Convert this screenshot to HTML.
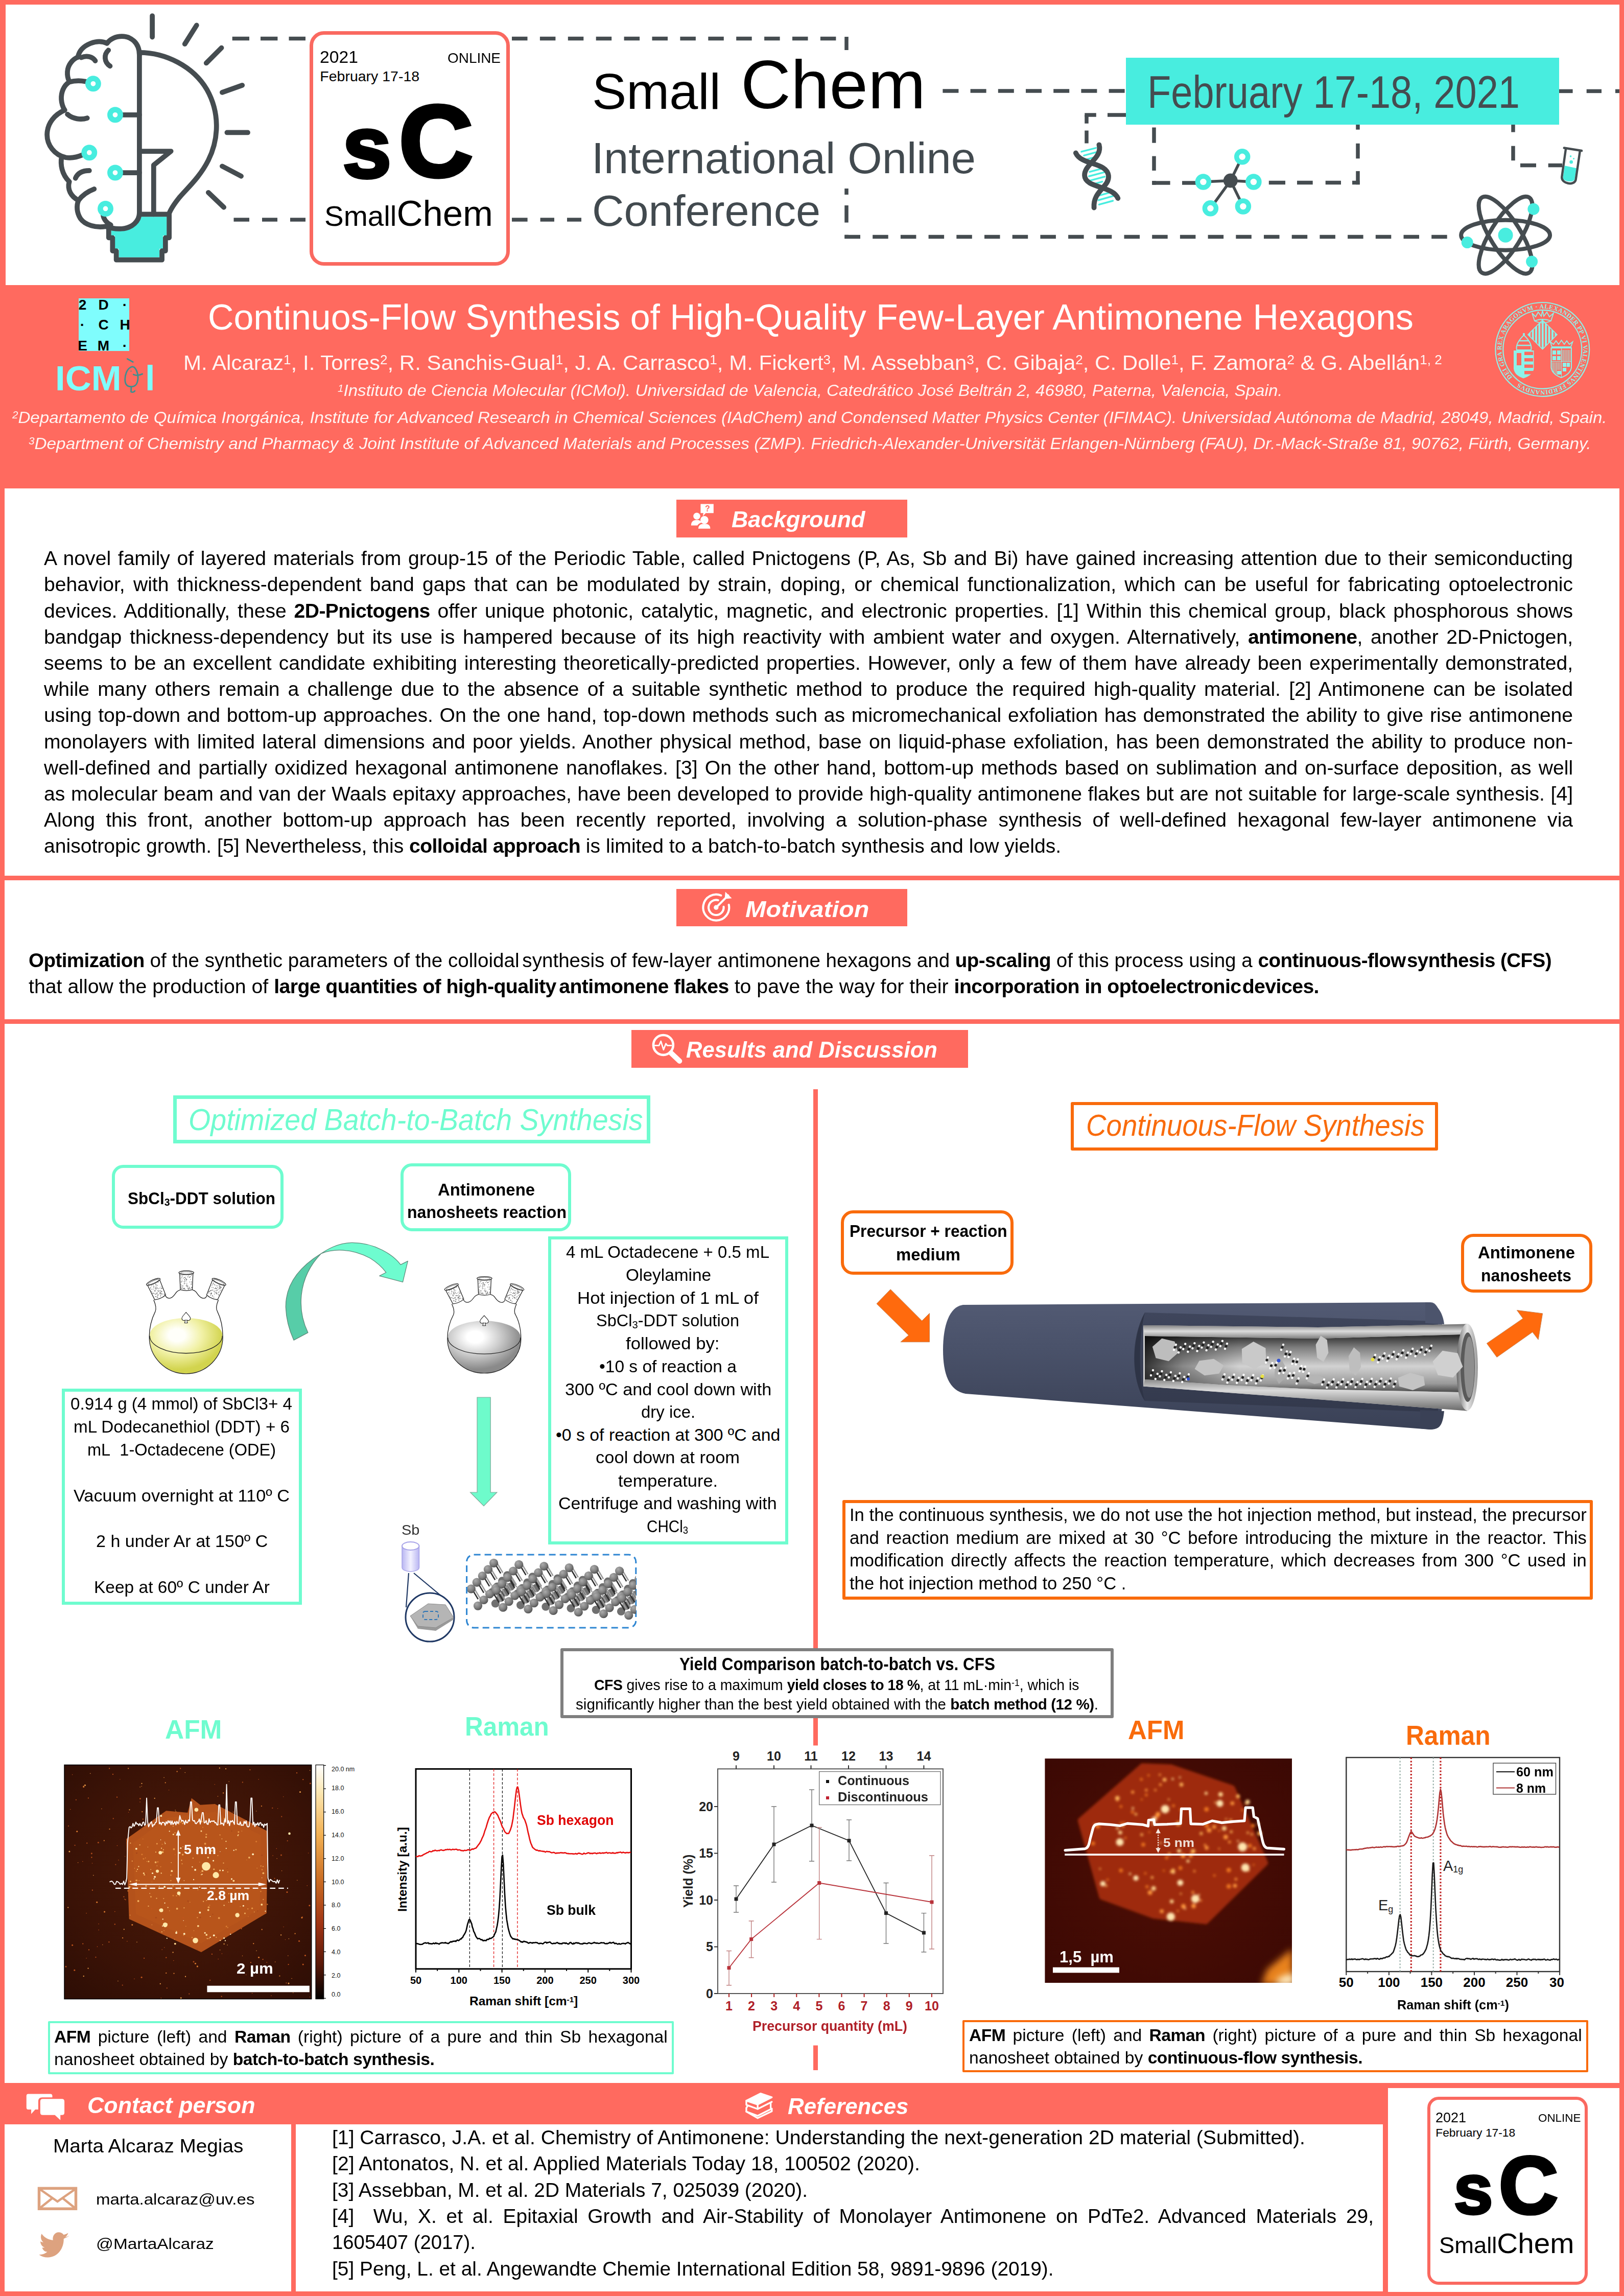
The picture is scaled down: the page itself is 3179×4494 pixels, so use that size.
<!DOCTYPE html>
<html><head><meta charset="utf-8"><title>Poster</title><style>
html,body{margin:0;padding:0;}
body{width:3179px;height:4494px;position:relative;overflow:hidden;background:#FF6A5F;font-family:'Liberation Sans', sans-serif;}
.t{position:absolute;white-space:nowrap;line-height:1;transform-origin:0 0;}
sup,sub{font-size:62%;line-height:0;position:relative;vertical-align:baseline;}
sup{top:-0.42em;} sub{top:0.18em;}
b{letter-spacing:-0.015em;}
</style></head>
<body>
<div style="position:absolute;left:11.0px;top:9.0px;width:3159.0px;height:548.5px;background:#fff;"></div>
<div style="position:absolute;left:9.0px;top:956.0px;width:3161.0px;height:757.5px;background:#fff;"></div>
<div style="position:absolute;left:9.0px;top:1722.5px;width:3161.0px;height:272.0px;background:#fff;"></div>
<div style="position:absolute;left:9.0px;top:2004.0px;width:3161.0px;height:2072.5px;background:#fff;"></div>
<div style="position:absolute;left:9.0px;top:4158.0px;width:561.0px;height:327.0px;background:#fff;"></div>
<div style="position:absolute;left:579.0px;top:4158.0px;width:2128.0px;height:327.0px;background:#fff;"></div>
<div style="position:absolute;left:2716.5px;top:4086.5px;width:453.5px;height:399.0px;background:#fff;"></div>
<svg style="position:absolute;left:0;top:0;overflow:visible;" width="3179" height="4494" viewBox="0 0 3179 4494"><g stroke="#454C50" stroke-width="7.5" fill="none"><line x1="454.7" y1="75.5" x2="488.0" y2="75.5"/><line x1="510.0" y1="75.5" x2="543.4" y2="75.5"/><line x1="565.5" y1="75.5" x2="598.0" y2="75.5"/><line x1="1002.0" y1="75.5" x2="1032.5" y2="75.5"/><line x1="1056.9" y1="75.5" x2="1087.4" y2="75.5"/><line x1="1111.8" y1="75.5" x2="1142.3" y2="75.5"/><line x1="1166.7" y1="75.5" x2="1197.2" y2="75.5"/><line x1="1221.6" y1="75.5" x2="1252.1" y2="75.5"/><line x1="1276.5" y1="75.5" x2="1307.0" y2="75.5"/><line x1="1331.4" y1="75.5" x2="1361.9" y2="75.5"/><line x1="1386.3" y1="75.5" x2="1416.8" y2="75.5"/><line x1="1441.2" y1="75.5" x2="1471.7" y2="75.5"/><line x1="1496.1" y1="75.5" x2="1526.6" y2="75.5"/><line x1="1551.0" y1="75.5" x2="1581.5" y2="75.5"/><line x1="1605.9" y1="75.5" x2="1636.4" y2="75.5"/><line x1="1660.8" y1="75.5" x2="1661.0" y2="75.5"/><line x1="1657" y1="72.0" x2="1657" y2="98.0"/><line x1="1657" y1="369.0" x2="1657" y2="381.0"/><line x1="1657" y1="402.0" x2="1657" y2="435.6"/><line x1="1657" y1="459.7" x2="1657" y2="467.0"/><line x1="1653.5" y1="463.5" x2="1684.0" y2="463.5"/><line x1="1708.2" y1="463.5" x2="1738.7" y2="463.5"/><line x1="1762.9" y1="463.5" x2="1793.4" y2="463.5"/><line x1="1817.6" y1="463.5" x2="1848.1" y2="463.5"/><line x1="1872.3" y1="463.5" x2="1902.8" y2="463.5"/><line x1="1927.0" y1="463.5" x2="1957.5" y2="463.5"/><line x1="1981.7" y1="463.5" x2="2012.2" y2="463.5"/><line x1="2036.4" y1="463.5" x2="2066.9" y2="463.5"/><line x1="2091.1" y1="463.5" x2="2121.6" y2="463.5"/><line x1="2145.8" y1="463.5" x2="2176.3" y2="463.5"/><line x1="2200.5" y1="463.5" x2="2231.0" y2="463.5"/><line x1="2255.2" y1="463.5" x2="2285.7" y2="463.5"/><line x1="2309.9" y1="463.5" x2="2340.4" y2="463.5"/><line x1="2364.6" y1="463.5" x2="2395.1" y2="463.5"/><line x1="2419.3" y1="463.5" x2="2449.8" y2="463.5"/><line x1="2474.0" y1="463.5" x2="2504.5" y2="463.5"/><line x1="2528.7" y1="463.5" x2="2559.2" y2="463.5"/><line x1="2583.4" y1="463.5" x2="2613.9" y2="463.5"/><line x1="2638.1" y1="463.5" x2="2668.6" y2="463.5"/><line x1="2692.8" y1="463.5" x2="2723.3" y2="463.5"/><line x1="2747.5" y1="463.5" x2="2778.0" y2="463.5"/><line x1="2802.2" y1="463.5" x2="2832.7" y2="463.5"/><line x1="457.5" y1="430" x2="488.0" y2="430"/><line x1="513.0" y1="430" x2="543.0" y2="430"/><line x1="568.0" y1="430" x2="598.0" y2="430"/><line x1="1002.0" y1="430" x2="1032.6" y2="430"/><line x1="1057.6" y1="430" x2="1085.0" y2="430"/><line x1="1110.0" y1="430" x2="1138.0" y2="430"/><line x1="1845.4" y1="178" x2="1876.4" y2="178"/><line x1="1899.6" y1="178" x2="1930.6" y2="178"/><line x1="1953.8" y1="178" x2="1984.8" y2="178"/><line x1="2008.0" y1="178" x2="2039.0" y2="178"/><line x1="2062.2" y1="178" x2="2093.2" y2="178"/><line x1="2116.4" y1="178" x2="2147.4" y2="178"/><line x1="2170.6" y1="178" x2="2201.6" y2="178"/><line x1="3050.0" y1="178.4" x2="3078.6" y2="178.4"/><line x1="3105.7" y1="178.4" x2="3135.0" y2="178.4"/><line x1="3162.0" y1="178.4" x2="3170.0" y2="178.4"/><line x1="2123.3" y1="225" x2="2145.8" y2="225"/><line x1="2168.0" y1="225" x2="2206.0" y2="225"/><line x1="2127" y1="225.0" x2="2127" y2="241.7"/><line x1="2127" y1="255.5" x2="2127" y2="280.5"/><line x1="2259" y1="249.5" x2="2259" y2="279.7"/><line x1="2259" y1="305.6" x2="2259" y2="333.9"/><line x1="2259" y1="354.0" x2="2259" y2="361.7"/><line x1="2255.3" y1="358" x2="2290.6" y2="358"/><line x1="2314.0" y1="358" x2="2342.0" y2="358"/><line x1="2483.8" y1="357.5" x2="2516.0" y2="357.5"/><line x1="2539.0" y1="357.5" x2="2569.7" y2="357.5"/><line x1="2594.7" y1="357.5" x2="2625.0" y2="357.5"/><line x1="2647.0" y1="357.5" x2="2661.7" y2="357.5"/><line x1="2658" y1="244.0" x2="2658" y2="253.7"/><line x1="2658" y1="280.8" x2="2658" y2="310.3"/><line x1="2658" y1="334.9" x2="2658" y2="361.2"/><line x1="2962" y1="243.9" x2="2962" y2="258.6"/><line x1="2962" y1="285.7" x2="2962" y2="314.2"/><line x1="2976.0" y1="323.6" x2="3007.0" y2="323.6"/><line x1="3030.7" y1="323.6" x2="3058.0" y2="323.6"/></g></svg>
<svg style="position:absolute;left:0;top:0;overflow:visible;" width="3179" height="4494" viewBox="0 0 3179 4494"><g transform="translate(80,40) scale(0.27093)" fill="none" stroke="#454C50" stroke-width="36" stroke-linecap="round" stroke-linejoin="round">
<path d="M508,1500 C560,1512 650,1500 705,1430 L712,1418 L910,1418 L910,1555 L882,1555 L882,1650 L857,1650 L857,1712 L563,1712 L563,1650 L535,1650 L535,1555 L508,1555 Z" fill="#48EDDF" stroke="none"/>
<path d="M712,250 C712,160 650,115 585,115 C540,115 500,135 478,165"/>
<path d="M478,165 C440,148 400,150 360,165 C310,185 275,220 268,265"/>
<path d="M268,265 C230,280 195,320 192,370 C190,400 195,420 205,440"/>
<path d="M292,268 C330,250 375,262 393,292"/>
<path d="M322,441 C280,432 240,435 205,445 C165,470 145,520 148,570 C150,600 158,625 172,648"/>
<path d="M172,648 C100,680 48,740 45,820 C42,900 100,975 180,990 C230,998 270,985 300,972"/>
<path d="M150,985 C140,1040 150,1110 205,1165"/>
<path d="M205,1165 C190,1220 215,1270 272,1300"/>
<path d="M385,1218 C340,1235 300,1262 272,1300 C255,1340 260,1390 285,1430 C320,1480 400,1500 470,1488"/>
<path d="M450,1408 C455,1440 480,1465 505,1478"/>
<path d="M470,1488 C500,1500 540,1508 585,1505 C660,1500 712,1450 712,1390"/>
<path d="M488,215 C455,245 455,300 500,330"/>
<path d="M192,678 C230,712 290,720 335,705"/>
<path d="M250,1140 C265,1105 300,1085 350,1085"/>
<path d="M712,232 L712,1400"/>
<path d="M595,682 L712,682 M595,1100 L712,1100"/>
<path d="M712,232 C900,232 1100,330 1200,500 C1290,660 1290,850 1210,1010 C1150,1130 1060,1210 1000,1280 C960,1330 935,1370 925,1400"/>
<path d="M712,1400 L925,1400"/>
<path d="M712,945 L940,945 L815,1045 L815,1400"/>
<path d="M490,1490 L490,1570 L518,1570 L518,1665 L545,1665 L545,1730 L875,1730 L875,1665 L900,1665 L900,1570 L927,1570 L927,1400"/>
<path d="M805,-33 L805,120 M1125,35 L1040,170 M1305,198 L1195,308 M1455,468 L1310,520 M1345,810 L1495,810 M1310,1053 L1447,1125 M1210,1243 L1322,1350"/>
<g stroke="#48EDDF" stroke-width="39"><circle cx="378" cy="457" r="37.5"/><circle cx="537" cy="682" r="37.5"/><circle cx="350" cy="955" r="37.5"/><circle cx="537" cy="1100" r="37.5"/><circle cx="467" cy="1360" r="37.5"/></g>
</g></svg>
<div style="position:absolute;box-sizing:border-box;left:606.3px;top:60.6px;width:391.3px;height:459.0px;background:#fff;border:7.5px solid #FA6960;border-radius:28px;"></div>
<div class="t" style="left:626.3px;top:94.4px;font-family:'Liberation Sans', sans-serif;font-size:34px;color:#000;transform:scaleX(0.9915);">2021</div>
<div class="t" style="left:876.3px;top:99.5px;font-family:'Liberation Sans', sans-serif;font-size:28px;color:#000;transform:scaleX(0.9976);">ONLINE</div>
<div class="t" style="left:626.3px;top:134.5px;font-family:'Liberation Sans', sans-serif;font-size:28.5px;color:#000;">February 17-18</div>
<div class="t" style="left:670.6px;top:200.9px;font-family:'Liberation Sans', sans-serif;font-size:172px;font-weight:bold;color:#000;-webkit-text-stroke:6.0px #000;">s</div>
<div class="t" style="left:780.6px;top:177.9px;font-family:'Liberation Sans', sans-serif;font-size:198px;font-weight:bold;color:#000;-webkit-text-stroke:7.0px #000;transform:scaleX(1.012);">C</div>
<div class="t" style="left:635.3px;top:383.3px;font-family:'Liberation Sans', sans-serif;font-size:70px;color:#000;transform:scaleX(1.0099);"><span style="font-size:56.0px">Small</span>Chem</div>
<div style="position:absolute;box-sizing:border-box;left:2794.2px;top:4104.2px;width:313.6px;height:367.9px;background:#fff;border:6.0px solid #FA6960;border-radius:22px;"></div>
<div class="t" style="left:2810.2px;top:4131.3px;font-family:'Liberation Sans', sans-serif;font-size:27.251px;color:#000;transform:scaleX(0.9915);">2021</div>
<div class="t" style="left:3010.6px;top:4135.4px;font-family:'Liberation Sans', sans-serif;font-size:22.442px;color:#000;transform:scaleX(0.9977);">ONLINE</div>
<div class="t" style="left:2810.2px;top:4163.4px;font-family:'Liberation Sans', sans-serif;font-size:22.84275px;color:#000;">February 17-18</div>
<div class="t" style="left:2845.7px;top:4216.7px;font-family:'Liberation Sans', sans-serif;font-size:137.858px;font-weight:bold;color:#000;-webkit-text-stroke:4.8px #000;">s</div>
<div class="t" style="left:2933.9px;top:4198.2px;font-family:'Liberation Sans', sans-serif;font-size:158.697px;font-weight:bold;color:#000;-webkit-text-stroke:5.6px #000;transform:scaleX(1.012);">C</div>
<div class="t" style="left:2817.4px;top:4362.9px;font-family:'Liberation Sans', sans-serif;font-size:56.105px;color:#000;transform:scaleX(1.0099);"><span style="font-size:44.9px">Small</span>Chem</div>
<div class="t" style="left:1158.5px;top:130.0px;font-family:'Liberation Sans', sans-serif;font-size:98px;color:#000;transform:scaleX(1.0283);">Small</div>
<div class="t" style="left:1450.0px;top:100.3px;font-family:'Liberation Sans', sans-serif;font-size:133px;color:#000;transform:scaleX(1.0203);">Chem</div>
<div class="t" style="left:1157.5px;top:266.7px;font-family:'Liberation Sans', sans-serif;font-size:85px;color:#424A4F;transform:scaleX(1.0201);">International Online</div>
<div class="t" style="left:1158.5px;top:370.0px;font-family:'Liberation Sans', sans-serif;font-size:85px;color:#424A4F;transform:scaleX(1.0172);">Conference</div>
<div style="position:absolute;left:2204.0px;top:112.7px;width:847.5px;height:131.6px;background:#48EDDF;"></div>
<div class="t" style="left:2246.0px;top:135.6px;font-family:'Liberation Sans', sans-serif;font-size:89px;color:#454C50;transform:scaleX(0.8517);">February 17-18, 2021</div>
<svg style="position:absolute;left:0;top:0;overflow:visible;" width="3179" height="4494" viewBox="0 0 3179 4494"><g transform="translate(2080,260) scale(0.24631)" fill="none" stroke-linecap="round">
<g stroke="#48EDDF" stroke-width="14">
<path d="M150,150 L265,120 M170,180 L275,152 M195,210 L260,192"/>
<path d="M215,310 L320,282 M210,345 L335,312 M215,380 L335,348 M235,410 L315,388"/>
<path d="M285,500 L390,470 M285,535 L410,500 M290,570 L400,540"/>
</g>
<g stroke="#454C50" stroke-width="40">
<path d="M105,160 C150,260 350,230 365,340 C375,430 240,460 250,595"/>
<path d="M290,95 C320,200 170,250 175,340 C180,440 400,420 440,520"/>
</g></g><g stroke="#454C50" stroke-width="5.5"><line x1="2408.8" y1="353.6" x2="2431.7" y2="306.8"/><line x1="2408.8" y1="353.6" x2="2355.4" y2="356"/><line x1="2408.8" y1="353.6" x2="2453.9" y2="356"/><line x1="2408.8" y1="353.6" x2="2369.4" y2="407.8"/><line x1="2408.8" y1="353.6" x2="2433.4" y2="404"/></g><circle cx="2408.8" cy="353.6" r="14" fill="#454C50"/><circle cx="2431.7" cy="306.8" r="11" fill="#fff" stroke="#48EDDF" stroke-width="9.5"/><circle cx="2355.4" cy="356" r="11" fill="#fff" stroke="#48EDDF" stroke-width="9.5"/><circle cx="2453.9" cy="356" r="11" fill="#fff" stroke="#48EDDF" stroke-width="9.5"/><circle cx="2369.4" cy="407.8" r="11" fill="#fff" stroke="#48EDDF" stroke-width="9.5"/><circle cx="2433.4" cy="404" r="11" fill="#fff" stroke="#48EDDF" stroke-width="9.5"/><g fill="none" stroke="#454C50" stroke-width="8"><ellipse cx="2947.1" cy="460.2" rx="87" ry="29.5" transform="rotate(0 2947.1 460.2)"/><ellipse cx="2947.1" cy="460.2" rx="87" ry="29.5" transform="rotate(58 2947.1 460.2)"/><ellipse cx="2947.1" cy="460.2" rx="87" ry="29.5" transform="rotate(-58 2947.1 460.2)"/></g><circle cx="2947.1" cy="460.2" r="14.5" fill="#48EDDF"/><circle cx="3001.9" cy="409.2" r="11.5" fill="#48EDDF"/><circle cx="2872.2" cy="474.6" r="11.5" fill="#48EDDF"/><circle cx="2998.6" cy="512" r="11.5" fill="#48EDDF"/><g transform="translate(2819,260) scale(0.22168)">
<path d="M1100,290 L1085,395 C1082,430 1175,445 1188,410 L1205,312 Z" fill="#48EDDF"/>
<circle cx="1158" cy="258" r="15" fill="#48EDDF"/><circle cx="1153" cy="207" r="8" fill="#48EDDF"/><circle cx="1180" cy="228" r="7" fill="#48EDDF"/>
<path d="M1110,142 L1075,390 C1070,450 1185,470 1198,415 L1235,162" fill="none" stroke="#454C50" stroke-width="20" stroke-linejoin="round"/>
<path d="M1095,133 L1250,158" stroke="#454C50" stroke-width="20" stroke-linecap="round"/>
</g></svg>
<div style="position:absolute;left:154.0px;top:584.0px;width:99.0px;height:103.0px;background:#7FFDFD;"></div>
<div class="t" style="left:153.7px;top:582.8px;font-family:'Liberation Sans', sans-serif;font-size:28px;font-weight:bold;color:#000;">2</div>
<div class="t" style="left:192.4px;top:582.8px;font-family:'Liberation Sans', sans-serif;font-size:28px;font-weight:bold;color:#000;">D</div>
<div class="t" style="left:239.8px;top:582.8px;font-family:'Liberation Sans', sans-serif;font-size:28px;font-weight:bold;color:#000;">·</div>
<div class="t" style="left:156.8px;top:622.3px;font-family:'Liberation Sans', sans-serif;font-size:28px;font-weight:bold;color:#000;">·</div>
<div class="t" style="left:192.4px;top:622.3px;font-family:'Liberation Sans', sans-serif;font-size:28px;font-weight:bold;color:#000;">C</div>
<div class="t" style="left:234.4px;top:622.3px;font-family:'Liberation Sans', sans-serif;font-size:28px;font-weight:bold;color:#000;">H</div>
<div class="t" style="left:152.2px;top:662.8px;font-family:'Liberation Sans', sans-serif;font-size:28px;font-weight:bold;color:#000;">E</div>
<div class="t" style="left:190.8px;top:662.8px;font-family:'Liberation Sans', sans-serif;font-size:28px;font-weight:bold;color:#000;">M</div>
<div class="t" style="left:239.8px;top:662.8px;font-family:'Liberation Sans', sans-serif;font-size:28px;font-weight:bold;color:#000;">·</div>
<div class="t" style="left:107.5px;top:706.1px;font-family:'Liberation Sans', sans-serif;font-size:69px;font-weight:bold;color:#7FFDFD;transform:scaleX(1.0238);">ICM</div>
<div class="t" style="left:284.0px;top:706.1px;font-family:'Liberation Sans', sans-serif;font-size:69px;font-weight:bold;color:#7FFDFD;transform:scaleX(1.0171);">l</div>
<svg style="position:absolute;left:0;top:0;overflow:visible;" width="3179" height="4494" viewBox="0 0 3179 4494"><g transform="translate(0,500) scale(0.21772)" fill="none" stroke="#3F8F90" stroke-width="13" stroke-linecap="round">
<path d="M1190,1000 C1140,1010 1120,1080 1125,1130 C1130,1180 1170,1185 1205,1175 C1245,1160 1250,1080 1225,1030 C1215,1010 1205,1000 1190,1000 Z"/>
<path d="M1145,930 L1195,958"/>
<path d="M1200,1070 C1230,1085 1260,1075 1280,1065"/>
<path d="M1180,1185 L1178,1225 C1190,1232 1205,1228 1212,1218"/>
<circle cx="1178" cy="1040" r="5" fill="#3F8F90" stroke="none"/>
</g></svg>
<div class="t" style="left:406.7px;top:585.5px;font-family:'Liberation Sans', sans-serif;font-size:70px;color:#fff;transform:scaleX(0.9976);">Continuos-Flow Synthesis of High-Quality Few-Layer Antimonene Hexagons</div>
<div class="t" style="left:359.0px;top:689.9px;font-family:'Liberation Sans', sans-serif;font-size:41px;color:#FFF4F2;transform:scaleX(1.0247);">M. Alcaraz<sup>1</sup>, I. Torres<sup>2</sup>, R. Sanchis-Gual<sup>1</sup>, J. A. Carrasco<sup>1</sup>, M. Fickert<sup>3</sup>, M. Assebban<sup>3</sup>, C. Gibaja<sup>2</sup>, C. Dolle<sup>1</sup>, F. Zamora<sup>2</sup> &amp; G. Abellán<sup>1, 2</sup></div>
<div class="t" style="left:661.0px;top:748.4px;font-family:'Liberation Sans', sans-serif;font-size:32px;font-style:italic;color:#FFF4F2;transform:scaleX(1.0358);"><sup>1</sup>Instituto de Ciencia Molecular (ICMol). Universidad de Valencia, Catedrático José Beltrán 2, 46980, Paterna, Valencia, Spain.</div>
<div class="t" style="left:24.0px;top:800.6px;font-family:'Liberation Sans', sans-serif;font-size:32px;font-style:italic;color:#FFF4F2;transform:scaleX(1.0355);"><sup>2</sup>Departamento de Química Inorgánica, Institute for Advanced Research in Chemical Sciences (IAdChem) and Condensed Matter Physics Center (IFIMAC). Universidad Autónoma de Madrid, 28049, Madrid, Spain.</div>
<div class="t" style="left:55.5px;top:851.7px;font-family:'Liberation Sans', sans-serif;font-size:32px;font-style:italic;color:#FFF4F2;transform:scaleX(1.0417);"><sup>3</sup>Department of Chemistry and Pharmacy &amp; Joint Institute of Advanced Materials and Processes (ZMP). Friedrich-Alexander-Universität Erlangen-Nürnberg (FAU), Dr.-Mack-Straße 81, 90762, Fürth, Germany.</div>
<svg style="position:absolute;left:0;top:0;overflow:visible;" width="3179" height="4494" viewBox="0 0 3179 4494"><g fill="none" stroke="#8CF2EA" stroke-width="2.2"><circle cx="3019.3" cy="683.9" r="91.9"/><circle cx="3019.3" cy="683.9" r="77"/></g><path id="sealp" d="M2960.79,738.46 A80,80 0 0 1 3077.81,629.34 A80,80 0 0 1 2960.79,738.46" fill="none"/><text font-family="'Liberation Serif', serif" font-size="12.5" font-weight="bold" fill="#8CF2EA"><textPath href="#sealp" textLength="485.1" lengthAdjust="spacing">DEI GRA REX ARAGONVM · ALEXANDER PP VI VALENTINVS FERDINANDVS</textPath></text><clipPath id="dia"><path d="M3019.5,626.5 L3048.0,655 L3019.5,683.5 L2991.0,655 Z"/></clipPath><g clip-path="url(#dia)" fill="#8CF2EA"><rect x="2992.2" y="626.5" width="3.9" height="57.0"/><rect x="2998.6" y="626.5" width="3.9" height="57.0"/><rect x="3005.0" y="626.5" width="3.9" height="57.0"/><rect x="3011.4" y="626.5" width="3.9" height="57.0"/><rect x="3017.8" y="626.5" width="3.9" height="57.0"/><rect x="3024.2" y="626.5" width="3.9" height="57.0"/><rect x="3030.6" y="626.5" width="3.9" height="57.0"/><rect x="3037.0" y="626.5" width="3.9" height="57.0"/><rect x="3043.4" y="626.5" width="3.9" height="57.0"/></g><path d="M3019.5,626.5 L3048.0,655 L3019.5,683.5 L2991.0,655 Z" fill="none" stroke="#8CF2EA" stroke-width="1.6"/><path d="M2999,613 L3004,628 Q3019.5,622 3036,628 L3041,613 L3033,620 L3028,611 L3022,619 L3019.5,608 L3017,619 L3011,611 L3006,620 Z" fill="none" stroke="#8CF2EA" stroke-width="1.8"/><path d="M3004,628 Q3019.5,636 3036,628" fill="none" stroke="#8CF2EA" stroke-width="1.8"/><path d="M2963,686 L3002.5,686 L3002.5,722 Q3000,735 2982,740.5 Q2965,735 2963,722 Z" fill="#8CF2EA"/><rect x="2969" y="691" width="9" height="24" fill="#FF6A5F"/><rect x="2984" y="688.5" width="17" height="6.5" fill="#FF6A5F"/><rect x="2984" y="701" width="17" height="6.5" fill="#FF6A5F"/><rect x="2984" y="713.5" width="17" height="6.5" fill="#FF6A5F"/><rect x="2984" y="726" width="17" height="6.5" fill="#FF6A5F"/><path d="M2969,685 Q2966,672 2983,656 Q3000,672 2997,685 Z" fill="none" stroke="#8CF2EA" stroke-width="2"/><path d="M2970,676 H2996 M2973,667 H2993" stroke="#8CF2EA" stroke-width="2.5"/><circle cx="2983" cy="654" r="2.2" fill="#8CF2EA"/><path d="M3036.5,681 L3076,681 L3076,720 Q3073,733 3056,739 Q3039,733 3036.5,720 Z" fill="none" stroke="#8CF2EA" stroke-width="2"/><g fill="#8CF2EA"><rect x="3039" y="686" width="7" height="8"/><rect x="3048" y="686" width="7" height="8"/><rect x="3039" y="697" width="7" height="8"/><rect x="3048" y="697" width="7" height="8"/><rect x="3059" y="710" width="7" height="8"/><rect x="3067" y="710" width="6" height="8"/><rect x="3059" y="720" width="7" height="7"/><rect x="3048" y="726" width="8" height="7"/></g><g stroke="#8CF2EA" stroke-width="1"><path d="M3058,685 V707 M3060.5,685 V707 M3063,685 V707 M3065.5,685 V707 M3068,685 V707 M3070.5,685 V707 M3073,685 V707"/><path d="M3039,709 V728 M3041.5,709 V730 M3044,709 V731 M3046.5,709 V732 M3049,709 V724 M3051.5,709 V724 M3054,709 V724"/><path d="M3036.5,707.5 H3076 M3056.5,681 V739"/></g><path d="M3034.5,669 L3038,679 H3075 L3078.5,669 L3072,674 L3067,667 L3062,674 L3056.5,666 L3051,674 L3046,667 L3041,674 Z" fill="none" stroke="#8CF2EA" stroke-width="1.8"/></svg>
<div style="position:absolute;left:1324.0px;top:978.0px;width:452.0px;height:73.6px;background:#FF6A5F;"></div>
<div class="t" style="left:1432.4px;top:994.2px;font-family:'Liberation Sans', sans-serif;font-size:45px;font-weight:bold;font-style:italic;color:#fff;transform:scaleX(0.9957);">Background</div>
<div style="position:absolute;left:1324.0px;top:1740.0px;width:452.0px;height:73.0px;background:#FF6A5F;"></div>
<div class="t" style="left:1458.6px;top:1756.6px;font-family:'Liberation Sans', sans-serif;font-size:45px;font-weight:bold;font-style:italic;color:#fff;transform:scaleX(1.0774);">Motivation</div>
<div style="position:absolute;left:1235.6px;top:2016.4px;width:659.4px;height:73.9px;background:#FF6A5F;"></div>
<div class="t" style="left:1343.0px;top:2032.3px;font-family:'Liberation Sans', sans-serif;font-size:45px;font-weight:bold;font-style:italic;color:#fff;transform:scaleX(0.9692);">Results and Discussion</div>
<svg style="position:absolute;left:0;top:0;overflow:visible;" width="3179" height="4494" viewBox="0 0 3179 4494"><g transform="translate(1280,950) scale(0.33864)" fill="#fff">
<circle cx="248" cy="178" r="20"/><path d="M215,232 Q215,200 248,200 Q270,200 276,215 Q255,222 252,232 Z"/>
<circle cx="292" cy="200" r="23"/><path d="M257,250 Q257,222 292,222 Q326,222 326,250 Z"/>
<path d="M270,108 H345 V160 H300 L283,178 L286,160 H270 Z"/>
<text x="296" y="152" font-family="'Liberation Sans', sans-serif" font-weight="bold" font-size="46" fill="#FF6A5F">?</text>
</g><g transform="translate(1200,1700) scale(0.46183)" fill="none" stroke="#fff" stroke-width="9" stroke-linecap="round">
<path d="M490.8,153.6 A55,55 0 1 1 457.6,114.0"/>
<path d="M468.9,162.2 A32,32 0 1 1 445.3,134.1"/>
<circle cx="437" cy="165" r="10" fill="#fff" stroke="none"/>
<path d="M437,165 L488,114"/>
<path d="M478,104 L476,126 L498,124 Z" fill="#fff" stroke-width="5"/>
</g><g transform="translate(1200,1700) scale(0.46183)" fill="none" stroke="#fff" stroke-linecap="round" stroke-linejoin="round">
<circle cx="213" cy="748" r="42" stroke-width="10"/>
<path d="M246,782 L282,816" stroke-width="22"/>
<path d="M178,750 H195 L203,732 L214,768 L224,742 L230,750 H247" stroke-width="6"/>
</g></svg>
<div class="t" style="left:86.0px;top:1073.1px;font-family:'Liberation Sans', sans-serif;font-size:39.4px;color:#000;word-spacing:2.835px;transform:scaleX(0.9927);">A novel family of layered materials from group-15 of the Periodic Table, called Pnictogens (P, As, Sb and Bi) have gained increasing attention due to their semiconducting</div>
<div class="t" style="left:86.0px;top:1124.3px;font-family:'Liberation Sans', sans-serif;font-size:39.4px;color:#000;word-spacing:5.417px;transform:scaleX(0.9927);">behavior, with thickness-dependent band gaps that can be modulated by strain, doping, or chemical functionalization, which can be useful for fabricating optoelectronic</div>
<div class="t" style="left:86.0px;top:1175.5px;font-family:'Liberation Sans', sans-serif;font-size:39.4px;color:#000;word-spacing:4.063px;transform:scaleX(0.9927);">devices. Additionally, these <b>2D-Pnictogens</b> offer unique photonic, catalytic, magnetic, and electronic properties. [1] Within this chemical group, black phosphorous shows</div>
<div class="t" style="left:86.0px;top:1226.7px;font-family:'Liberation Sans', sans-serif;font-size:39.4px;color:#000;word-spacing:4.824px;transform:scaleX(0.9927);">bandgap thickness-dependency but its use is hampered because of its high reactivity with ambient water and oxygen. Alternatively, <b>antimonene</b>, another 2D-Pnictogen,</div>
<div class="t" style="left:86.0px;top:1277.9px;font-family:'Liberation Sans', sans-serif;font-size:39.4px;color:#000;word-spacing:3.286px;transform:scaleX(0.9927);">seems to be an excellent candidate exhibiting interesting theoretically-predicted properties. However, only a few of them have already been experimentally demonstrated,</div>
<div class="t" style="left:86.0px;top:1329.1px;font-family:'Liberation Sans', sans-serif;font-size:39.4px;color:#000;word-spacing:5.339px;transform:scaleX(0.9927);">while many others remain a challenge due to the absence of a suitable synthetic method to produce the required high-quality material. [2] Antimonene can be isolated</div>
<div class="t" style="left:86.0px;top:1380.3px;font-family:'Liberation Sans', sans-serif;font-size:39.4px;color:#000;word-spacing:1.889px;transform:scaleX(0.9927);">using top-down and bottom-up approaches. On the one hand, top-down methods such as micromechanical exfoliation has demonstrated the ability to give rise antimonene</div>
<div class="t" style="left:86.0px;top:1431.5px;font-family:'Liberation Sans', sans-serif;font-size:39.4px;color:#000;word-spacing:3.283px;transform:scaleX(0.9927);">monolayers with limited lateral dimensions and poor yields. Another physical method, base on liquid-phase exfoliation, has been demonstrated the ability to produce non-</div>
<div class="t" style="left:86.0px;top:1482.7px;font-family:'Liberation Sans', sans-serif;font-size:39.4px;color:#000;word-spacing:3.328px;transform:scaleX(0.9927);">well-defined and partially oxidized hexagonal antimonene nanoflakes. [3] On the other hand, bottom-up methods based on sublimation and on-surface deposition, as well</div>
<div class="t" style="left:86.0px;top:1533.9px;font-family:'Liberation Sans', sans-serif;font-size:39.4px;color:#000;word-spacing:0.788px;transform:scaleX(0.9927);">as molecular beam and van der Waals epitaxy approaches, have been developed to provide high-quality antimonene flakes but are not suitable for large-scale synthesis. [4]</div>
<div class="t" style="left:86.0px;top:1585.1px;font-family:'Liberation Sans', sans-serif;font-size:39.4px;color:#000;word-spacing:10.368px;transform:scaleX(0.9927);">Along this front, another bottom-up approach has been recently reported, involving a solution-phase synthesis of well-defined hexagonal few-layer antimonene via</div>
<div class="t" style="left:86.0px;top:1636.3px;font-family:'Liberation Sans', sans-serif;font-size:39.4px;color:#000;transform:scaleX(0.9927);">anisotropic growth. [5] Nevertheless, this <b>colloidal approach</b> is limited to a batch-to-batch synthesis and low yields.</div>
<div class="t" style="left:56.0px;top:1860.1px;font-family:'Liberation Sans', sans-serif;font-size:39.4px;color:#000;transform:scaleX(0.9798);"><b>Optimization</b> of the synthetic parameters of the colloidal<span style="font-size:55%"> </span>synthesis of few-layer antimonene hexagons and <b>up-scaling</b> of this process using a <b>continuous-flow<span style="font-size:25%"> </span>synthesis (CFS)</b></div>
<div class="t" style="left:56.0px;top:1911.1px;font-family:'Liberation Sans', sans-serif;font-size:39.4px;color:#000;transform:scaleX(0.9967);">that allow the production of <b>large quantities of high-quality<span style="font-size:55%"> </span>antimonene flakes</b> to pave the way for their <b>incorporation in optoelectronic<span style="font-size:25%"> </span>devices.</b></div>
<div style="position:absolute;left:1592.0px;top:2132.0px;width:9.0px;height:1095.0px;background:#FF6A5F;"></div>
<div style="position:absolute;left:1592.0px;top:3362.0px;width:9.0px;height:55.0px;background:#FF6A5F;"></div>
<div style="position:absolute;left:1592.0px;top:4003.0px;width:9.0px;height:49.0px;background:#FF6A5F;"></div>
<div style="position:absolute;box-sizing:border-box;left:339.0px;top:2144.4px;width:934.0px;height:93.6px;background:#fff;border:7px solid #6FFCCF;border-radius:0px;"></div>
<div class="t" style="left:368.5px;top:2161.6px;font-family:'Liberation Sans', sans-serif;font-size:60px;font-style:italic;color:#6FFCCF;transform:scaleX(0.9262);">Optimized Batch-to-Batch Synthesis</div>
<div style="position:absolute;box-sizing:border-box;left:218.5px;top:2280.0px;width:336.2px;height:124.5px;background:#fff;border:6px solid #6FFCCF;border-radius:22px;"></div>
<div class="t" style="left:249.5px;top:2327.7px;font-family:'Liberation Sans', sans-serif;font-size:34px;font-weight:bold;color:#000;transform:scaleX(0.9262);">SbCl<sub>3</sub>-DDT solution</div>
<div style="position:absolute;box-sizing:border-box;left:783.8px;top:2277.4px;width:334.7px;height:133.0px;background:#fff;border:6px solid #6FFCCF;border-radius:22px;"></div>
<div class="t" style="left:857.0px;top:2310.7px;font-family:'Liberation Sans', sans-serif;font-size:34px;font-weight:bold;color:#000;transform:scaleX(0.9672);">Antimonene</div>
<div class="t" style="left:797.0px;top:2355.0px;font-family:'Liberation Sans', sans-serif;font-size:34px;font-weight:bold;color:#000;transform:scaleX(0.9436);">nanosheets reaction</div>
<div style="position:absolute;box-sizing:border-box;left:121.0px;top:2717.7px;width:470.4px;height:423.0px;background:#fff;border:6px solid #6FFCCF;border-radius:0px;"></div>
<div class="t" style="left:138.0px;top:2730.9px;font-family:'Liberation Sans', sans-serif;font-size:33.8px;color:#000;transform:scaleX(0.9810);">0.914 g (4 mmol) of SbCl3+ 4</div>
<div class="t" style="left:144.3px;top:2775.9px;font-family:'Liberation Sans', sans-serif;font-size:33.8px;color:#000;transform:scaleX(0.9843);">mL Dodecanethiol (DDT) + 6</div>
<div class="t" style="left:171.3px;top:2821.0px;font-family:'Liberation Sans', sans-serif;font-size:33.8px;color:#000;transform:scaleX(0.9633);">mL&nbsp; 1-Octadecene (ODE)</div>
<div class="t" style="left:144.3px;top:2910.8px;font-family:'Liberation Sans', sans-serif;font-size:33.8px;color:#000;transform:scaleX(1.0149);">Vacuum overnight at 110º C</div>
<div class="t" style="left:187.6px;top:3000.2px;font-family:'Liberation Sans', sans-serif;font-size:33.8px;color:#000;transform:scaleX(1.0083);">2 h under Ar at 150º C</div>
<div class="t" style="left:184.0px;top:3090.0px;font-family:'Liberation Sans', sans-serif;font-size:33.8px;color:#000;transform:scaleX(0.9914);">Keep at 60º C under Ar</div>
<div style="position:absolute;box-sizing:border-box;left:1073.4px;top:2420.0px;width:469.4px;height:603.4px;background:#fff;border:6px solid #6FFCCF;border-radius:0px;"></div>
<div class="t" style="left:1108.0px;top:2434.2px;font-family:'Liberation Sans', sans-serif;font-size:33.8px;color:#000;transform:scaleX(0.9770);">4 mL Octadecene + 0.5 mL</div>
<div class="t" style="left:1224.5px;top:2479.0px;font-family:'Liberation Sans', sans-serif;font-size:33.8px;color:#000;transform:scaleX(0.9890);">Oleylamine</div>
<div class="t" style="left:1130.0px;top:2523.8px;font-family:'Liberation Sans', sans-serif;font-size:33.8px;color:#000;transform:scaleX(1.0302);">Hot injection of 1 mL of</div>
<div class="t" style="left:1167.0px;top:2568.0px;font-family:'Liberation Sans', sans-serif;font-size:33.8px;color:#000;transform:scaleX(0.9625);">SbCl<sub>3</sub>-DDT solution</div>
<div class="t" style="left:1224.5px;top:2612.8px;font-family:'Liberation Sans', sans-serif;font-size:33.8px;color:#000;transform:scaleX(1.0281);">followed by:</div>
<div class="t" style="left:1172.8px;top:2658.4px;font-family:'Liberation Sans', sans-serif;font-size:33.8px;color:#000;transform:scaleX(0.9919);">•10 s of reaction a</div>
<div class="t" style="left:1105.5px;top:2703.1px;font-family:'Liberation Sans', sans-serif;font-size:33.8px;color:#000;transform:scaleX(1.0121);">300 ºC and cool down with</div>
<div class="t" style="left:1254.5px;top:2747.3px;font-family:'Liberation Sans', sans-serif;font-size:33.8px;color:#000;transform:scaleX(0.9749);">dry ice.</div>
<div class="t" style="left:1088.0px;top:2792.1px;font-family:'Liberation Sans', sans-serif;font-size:33.8px;color:#000;">•0 s of reaction at 300 ºC and</div>
<div class="t" style="left:1165.9px;top:2836.2px;font-family:'Liberation Sans', sans-serif;font-size:33.8px;color:#000;transform:scaleX(1.0215);">cool down at room</div>
<div class="t" style="left:1209.7px;top:2881.7px;font-family:'Liberation Sans', sans-serif;font-size:33.8px;color:#000;transform:scaleX(1.0182);">temperature.</div>
<div class="t" style="left:1093.4px;top:2926.4px;font-family:'Liberation Sans', sans-serif;font-size:33.8px;color:#000;transform:scaleX(1.0071);">Centrifuge and washing with</div>
<div class="t" style="left:1265.9px;top:2970.7px;font-family:'Liberation Sans', sans-serif;font-size:33.8px;color:#000;transform:scaleX(0.8778);">CHCl<sub>3</sub></div>
<svg style="position:absolute;left:0;top:0;overflow:visible;" width="3179" height="4494" viewBox="0 0 3179 4494"><defs><radialGradient id="lga" cx="0.38" cy="0.30" r="0.6"><stop offset="0" stop-color="#FFFFFA"/><stop offset="0.18" stop-color="#FFFFFA"/><stop offset="0.55" stop-color="#F1F1A6"/><stop offset="1" stop-color="#D2D44E"/></radialGradient><clipPath id="fca"><circle cx="805" cy="1255" r="612"/></clipPath></defs><g transform="translate(270,2470) scale(0.11700,0.11700)"><g clip-path="url(#fca)"><path d="M198,1225 A607,288 0 0 1 1412,1225 L1440,1900 L170,1900 Z" fill="url(#lga)"/></g><path d="M265,640 C300,720 310,780 290,830 C230,950 190,1100 190,1255 A615,615 0 0 0 1420,1255 C1420,1100 1390,950 1330,830 C1300,780 1310,720 1345,640" fill="none" stroke="#222" stroke-width="11" stroke-linejoin="round" stroke-linecap="round"/><path d="M198,1240 A607,288 0 0 0 1412,1240" fill="none" stroke="#222" stroke-width="11" stroke-linejoin="round" stroke-linecap="round"/><path d="M460,565 C480,600 500,615 540,605 C600,590 620,530 650,500 C670,480 690,472 705,468 M915,468 C935,472 955,480 975,505 C1000,540 1030,600 1090,608 C1120,612 1140,595 1150,570" fill="none" stroke="#222" stroke-width="11" stroke-linejoin="round" stroke-linecap="round"/><g transform="translate(810,330) rotate(0)"><path d="M-112,-150 L-100,135 Q0,165 100,135 L112,-150 Z" fill="#fff" stroke="#222" stroke-width="11" stroke-linejoin="round"/><circle cx="22" cy="68" r="6" fill="#555"/><circle cx="53" cy="116" r="6" fill="#555"/><circle cx="43" cy="111" r="6" fill="#555"/><circle cx="-85" cy="2" r="6" fill="#555"/><circle cx="80" cy="46" r="6" fill="#555"/><circle cx="72" cy="-83" r="6" fill="#555"/><circle cx="-6" cy="-51" r="6" fill="#555"/><circle cx="8" cy="28" r="6" fill="#555"/><circle cx="-88" cy="-58" r="6" fill="#555"/><circle cx="-40" cy="110" r="6" fill="#555"/><circle cx="48" cy="-72" r="6" fill="#555"/><circle cx="53" cy="-77" r="6" fill="#555"/><circle cx="21" cy="-80" r="6" fill="#555"/><circle cx="-90" cy="99" r="6" fill="#555"/><circle cx="-52" cy="-58" r="6" fill="#555"/><circle cx="87" cy="99" r="6" fill="#555"/><circle cx="-38" cy="121" r="6" fill="#555"/><circle cx="7" cy="53" r="6" fill="#555"/><circle cx="-53" cy="116" r="6" fill="#555"/><circle cx="34" cy="122" r="6" fill="#555"/><circle cx="71" cy="-38" r="6" fill="#555"/><circle cx="-25" cy="-70" r="6" fill="#555"/><circle cx="-64" cy="-94" r="6" fill="#555"/><circle cx="-36" cy="35" r="6" fill="#555"/><circle cx="-89" cy="53" r="6" fill="#555"/><circle cx="-29" cy="-36" r="6" fill="#555"/><circle cx="57" cy="5" r="6" fill="#555"/><circle cx="-33" cy="5" r="6" fill="#555"/><circle cx="37" cy="-96" r="6" fill="#555"/><circle cx="86" cy="-105" r="6" fill="#555"/><circle cx="45" cy="93" r="6" fill="#555"/><circle cx="-87" cy="79" r="6" fill="#555"/><circle cx="-24" cy="29" r="6" fill="#555"/><circle cx="-88" cy="-99" r="6" fill="#555"/><circle cx="-57" cy="119" r="6" fill="#555"/><circle cx="-55" cy="71" r="6" fill="#555"/><circle cx="77" cy="116" r="6" fill="#555"/><circle cx="-28" cy="-25" r="6" fill="#555"/><circle cx="4" cy="76" r="6" fill="#555"/><circle cx="-71" cy="70" r="6" fill="#555"/><circle cx="54" cy="96" r="6" fill="#555"/><circle cx="-83" cy="117" r="6" fill="#555"/><circle cx="-74" cy="-28" r="6" fill="#555"/><circle cx="20" cy="110" r="6" fill="#555"/><circle cx="-29" cy="112" r="6" fill="#555"/><circle cx="8" cy="-35" r="6" fill="#555"/><circle cx="-33" cy="-67" r="6" fill="#555"/><circle cx="-76" cy="-74" r="6" fill="#555"/><circle cx="34" cy="129" r="6" fill="#555"/><circle cx="-61" cy="-98" r="6" fill="#555"/><circle cx="88" cy="18" r="6" fill="#555"/><circle cx="-17" cy="-53" r="6" fill="#555"/><circle cx="17" cy="88" r="6" fill="#555"/><circle cx="-8" cy="-9" r="6" fill="#555"/><circle cx="-80" cy="110" r="6" fill="#555"/><circle cx="-84" cy="8" r="6" fill="#555"/><circle cx="61" cy="-79" r="6" fill="#555"/><circle cx="42" cy="118" r="6" fill="#555"/><circle cx="23" cy="79" r="6" fill="#555"/><circle cx="-71" cy="-6" r="6" fill="#555"/><circle cx="-63" cy="93" r="6" fill="#555"/><circle cx="-37" cy="-1" r="6" fill="#555"/><circle cx="90" cy="95" r="6" fill="#555"/><circle cx="86" cy="-1" r="6" fill="#555"/><circle cx="-2" cy="65" r="6" fill="#555"/><circle cx="-4" cy="-40" r="6" fill="#555"/><circle cx="-17" cy="-75" r="6" fill="#555"/><circle cx="-22" cy="127" r="6" fill="#555"/><circle cx="83" cy="40" r="6" fill="#555"/><circle cx="-0" cy="-29" r="6" fill="#555"/><ellipse cx="0" cy="-150" rx="125" ry="33" fill="#fff" stroke="#222" stroke-width="11"/><ellipse cx="0" cy="-146" rx="100" ry="20" fill="none" stroke="#222" stroke-width="6"/></g><g transform="translate(318,470) rotate(-24)"><path d="M-112,-150 L-100,135 Q0,165 100,135 L112,-150 Z" fill="#fff" stroke="#222" stroke-width="11" stroke-linejoin="round"/><circle cx="-74" cy="-45" r="6" fill="#555"/><circle cx="51" cy="98" r="6" fill="#555"/><circle cx="-25" cy="79" r="6" fill="#555"/><circle cx="49" cy="57" r="6" fill="#555"/><circle cx="30" cy="72" r="6" fill="#555"/><circle cx="-25" cy="59" r="6" fill="#555"/><circle cx="-39" cy="7" r="6" fill="#555"/><circle cx="49" cy="56" r="6" fill="#555"/><circle cx="-37" cy="117" r="6" fill="#555"/><circle cx="27" cy="29" r="6" fill="#555"/><circle cx="-88" cy="21" r="6" fill="#555"/><circle cx="-45" cy="51" r="6" fill="#555"/><circle cx="-7" cy="86" r="6" fill="#555"/><circle cx="27" cy="81" r="6" fill="#555"/><circle cx="-27" cy="45" r="6" fill="#555"/><circle cx="43" cy="89" r="6" fill="#555"/><circle cx="-27" cy="92" r="6" fill="#555"/><circle cx="67" cy="55" r="6" fill="#555"/><circle cx="86" cy="120" r="6" fill="#555"/><circle cx="3" cy="17" r="6" fill="#555"/><circle cx="-60" cy="91" r="6" fill="#555"/><circle cx="79" cy="5" r="6" fill="#555"/><circle cx="34" cy="63" r="6" fill="#555"/><circle cx="41" cy="-69" r="6" fill="#555"/><circle cx="50" cy="29" r="6" fill="#555"/><circle cx="30" cy="-9" r="6" fill="#555"/><circle cx="22" cy="76" r="6" fill="#555"/><circle cx="25" cy="63" r="6" fill="#555"/><circle cx="-85" cy="-72" r="6" fill="#555"/><circle cx="-11" cy="46" r="6" fill="#555"/><circle cx="-51" cy="55" r="6" fill="#555"/><circle cx="24" cy="-100" r="6" fill="#555"/><circle cx="-5" cy="-56" r="6" fill="#555"/><circle cx="-80" cy="-78" r="6" fill="#555"/><circle cx="-33" cy="-66" r="6" fill="#555"/><circle cx="-55" cy="-101" r="6" fill="#555"/><circle cx="-6" cy="-19" r="6" fill="#555"/><circle cx="20" cy="32" r="6" fill="#555"/><circle cx="-47" cy="107" r="6" fill="#555"/><circle cx="-90" cy="-13" r="6" fill="#555"/><circle cx="-40" cy="-12" r="6" fill="#555"/><circle cx="-69" cy="90" r="6" fill="#555"/><circle cx="-23" cy="-101" r="6" fill="#555"/><circle cx="20" cy="-87" r="6" fill="#555"/><circle cx="8" cy="-29" r="6" fill="#555"/><circle cx="15" cy="120" r="6" fill="#555"/><circle cx="57" cy="-9" r="6" fill="#555"/><circle cx="56" cy="44" r="6" fill="#555"/><circle cx="-24" cy="-76" r="6" fill="#555"/><circle cx="17" cy="25" r="6" fill="#555"/><circle cx="82" cy="122" r="6" fill="#555"/><circle cx="20" cy="-26" r="6" fill="#555"/><circle cx="71" cy="-110" r="6" fill="#555"/><circle cx="-71" cy="26" r="6" fill="#555"/><circle cx="21" cy="-76" r="6" fill="#555"/><circle cx="23" cy="104" r="6" fill="#555"/><circle cx="-22" cy="-6" r="6" fill="#555"/><circle cx="-49" cy="-40" r="6" fill="#555"/><circle cx="85" cy="-19" r="6" fill="#555"/><circle cx="83" cy="109" r="6" fill="#555"/><circle cx="17" cy="-48" r="6" fill="#555"/><circle cx="87" cy="9" r="6" fill="#555"/><circle cx="-15" cy="-33" r="6" fill="#555"/><circle cx="87" cy="8" r="6" fill="#555"/><circle cx="-38" cy="4" r="6" fill="#555"/><circle cx="-68" cy="39" r="6" fill="#555"/><circle cx="-10" cy="-40" r="6" fill="#555"/><circle cx="51" cy="88" r="6" fill="#555"/><circle cx="-88" cy="18" r="6" fill="#555"/><circle cx="-41" cy="114" r="6" fill="#555"/><ellipse cx="0" cy="-150" rx="125" ry="33" fill="#fff" stroke="#222" stroke-width="11"/><ellipse cx="0" cy="-146" rx="100" ry="20" fill="none" stroke="#222" stroke-width="6"/></g><g transform="translate(1295,470) rotate(24)"><path d="M-112,-150 L-100,135 Q0,165 100,135 L112,-150 Z" fill="#fff" stroke="#222" stroke-width="11" stroke-linejoin="round"/><circle cx="51" cy="-51" r="6" fill="#555"/><circle cx="-42" cy="-73" r="6" fill="#555"/><circle cx="88" cy="-40" r="6" fill="#555"/><circle cx="19" cy="4" r="6" fill="#555"/><circle cx="26" cy="35" r="6" fill="#555"/><circle cx="44" cy="-82" r="6" fill="#555"/><circle cx="47" cy="-38" r="6" fill="#555"/><circle cx="6" cy="-29" r="6" fill="#555"/><circle cx="-37" cy="17" r="6" fill="#555"/><circle cx="-6" cy="-23" r="6" fill="#555"/><circle cx="44" cy="32" r="6" fill="#555"/><circle cx="-83" cy="-49" r="6" fill="#555"/><circle cx="-8" cy="110" r="6" fill="#555"/><circle cx="70" cy="21" r="6" fill="#555"/><circle cx="-87" cy="77" r="6" fill="#555"/><circle cx="-13" cy="28" r="6" fill="#555"/><circle cx="37" cy="42" r="6" fill="#555"/><circle cx="-3" cy="109" r="6" fill="#555"/><circle cx="-21" cy="-16" r="6" fill="#555"/><circle cx="63" cy="-63" r="6" fill="#555"/><circle cx="-37" cy="89" r="6" fill="#555"/><circle cx="-78" cy="91" r="6" fill="#555"/><circle cx="35" cy="-6" r="6" fill="#555"/><circle cx="-38" cy="77" r="6" fill="#555"/><circle cx="74" cy="-76" r="6" fill="#555"/><circle cx="-4" cy="22" r="6" fill="#555"/><circle cx="-0" cy="-31" r="6" fill="#555"/><circle cx="-62" cy="31" r="6" fill="#555"/><circle cx="56" cy="-94" r="6" fill="#555"/><circle cx="-49" cy="87" r="6" fill="#555"/><circle cx="53" cy="49" r="6" fill="#555"/><circle cx="-85" cy="63" r="6" fill="#555"/><circle cx="86" cy="130" r="6" fill="#555"/><circle cx="36" cy="-98" r="6" fill="#555"/><circle cx="62" cy="-57" r="6" fill="#555"/><circle cx="26" cy="119" r="6" fill="#555"/><circle cx="38" cy="-78" r="6" fill="#555"/><circle cx="-37" cy="110" r="6" fill="#555"/><circle cx="-63" cy="37" r="6" fill="#555"/><circle cx="-15" cy="-71" r="6" fill="#555"/><circle cx="22" cy="-100" r="6" fill="#555"/><circle cx="-71" cy="-19" r="6" fill="#555"/><circle cx="-77" cy="-96" r="6" fill="#555"/><circle cx="14" cy="68" r="6" fill="#555"/><circle cx="68" cy="-78" r="6" fill="#555"/><circle cx="-12" cy="-35" r="6" fill="#555"/><circle cx="18" cy="7" r="6" fill="#555"/><circle cx="79" cy="-20" r="6" fill="#555"/><circle cx="-80" cy="57" r="6" fill="#555"/><circle cx="-63" cy="42" r="6" fill="#555"/><circle cx="1" cy="109" r="6" fill="#555"/><circle cx="10" cy="39" r="6" fill="#555"/><circle cx="-43" cy="22" r="6" fill="#555"/><circle cx="-44" cy="70" r="6" fill="#555"/><circle cx="3" cy="-78" r="6" fill="#555"/><circle cx="-48" cy="-21" r="6" fill="#555"/><circle cx="43" cy="-67" r="6" fill="#555"/><circle cx="38" cy="47" r="6" fill="#555"/><circle cx="-75" cy="50" r="6" fill="#555"/><circle cx="-74" cy="-80" r="6" fill="#555"/><circle cx="17" cy="-53" r="6" fill="#555"/><circle cx="68" cy="5" r="6" fill="#555"/><circle cx="-32" cy="81" r="6" fill="#555"/><circle cx="-85" cy="64" r="6" fill="#555"/><circle cx="-80" cy="-74" r="6" fill="#555"/><circle cx="81" cy="53" r="6" fill="#555"/><circle cx="-50" cy="-82" r="6" fill="#555"/><circle cx="85" cy="50" r="6" fill="#555"/><circle cx="58" cy="-76" r="6" fill="#555"/><circle cx="22" cy="-25" r="6" fill="#555"/><ellipse cx="0" cy="-150" rx="125" ry="33" fill="#fff" stroke="#222" stroke-width="11"/><ellipse cx="0" cy="-146" rx="100" ry="20" fill="none" stroke="#222" stroke-width="6"/></g><path d="M805,842 C770,890 730,915 735,950 C740,985 780,985 795,970 L780,1022 H830 L815,970 C830,985 872,985 878,950 C882,915 840,890 805,842 Z" fill="#fff" stroke="#222" stroke-width="9" stroke-linejoin="round"/></g><defs><radialGradient id="lgb" cx="0.38" cy="0.30" r="0.6"><stop offset="0" stop-color="#FFFFFF"/><stop offset="0.18" stop-color="#FFFFFF"/><stop offset="0.55" stop-color="#CDCDCD"/><stop offset="1" stop-color="#8A8A8A"/></radialGradient><clipPath id="fcb"><circle cx="805" cy="1255" r="612"/></clipPath></defs><g transform="translate(853.6,2482.5) scale(0.11700,0.10975)"><g clip-path="url(#fcb)"><path d="M198,1225 A607,288 0 0 1 1412,1225 L1440,1900 L170,1900 Z" fill="url(#lgb)"/></g><path d="M265,640 C300,720 310,780 290,830 C230,950 190,1100 190,1255 A615,615 0 0 0 1420,1255 C1420,1100 1390,950 1330,830 C1300,780 1310,720 1345,640" fill="none" stroke="#222" stroke-width="11" stroke-linejoin="round" stroke-linecap="round"/><path d="M198,1240 A607,288 0 0 0 1412,1240" fill="none" stroke="#222" stroke-width="11" stroke-linejoin="round" stroke-linecap="round"/><path d="M460,565 C480,600 500,615 540,605 C600,590 620,530 650,500 C670,480 690,472 705,468 M915,468 C935,472 955,480 975,505 C1000,540 1030,600 1090,608 C1120,612 1140,595 1150,570" fill="none" stroke="#222" stroke-width="11" stroke-linejoin="round" stroke-linecap="round"/><g transform="translate(810,330) rotate(0)"><path d="M-112,-150 L-100,135 Q0,165 100,135 L112,-150 Z" fill="#fff" stroke="#222" stroke-width="11" stroke-linejoin="round"/><circle cx="22" cy="68" r="6" fill="#555"/><circle cx="53" cy="116" r="6" fill="#555"/><circle cx="43" cy="111" r="6" fill="#555"/><circle cx="-85" cy="2" r="6" fill="#555"/><circle cx="80" cy="46" r="6" fill="#555"/><circle cx="72" cy="-83" r="6" fill="#555"/><circle cx="-6" cy="-51" r="6" fill="#555"/><circle cx="8" cy="28" r="6" fill="#555"/><circle cx="-88" cy="-58" r="6" fill="#555"/><circle cx="-40" cy="110" r="6" fill="#555"/><circle cx="48" cy="-72" r="6" fill="#555"/><circle cx="53" cy="-77" r="6" fill="#555"/><circle cx="21" cy="-80" r="6" fill="#555"/><circle cx="-90" cy="99" r="6" fill="#555"/><circle cx="-52" cy="-58" r="6" fill="#555"/><circle cx="87" cy="99" r="6" fill="#555"/><circle cx="-38" cy="121" r="6" fill="#555"/><circle cx="7" cy="53" r="6" fill="#555"/><circle cx="-53" cy="116" r="6" fill="#555"/><circle cx="34" cy="122" r="6" fill="#555"/><circle cx="71" cy="-38" r="6" fill="#555"/><circle cx="-25" cy="-70" r="6" fill="#555"/><circle cx="-64" cy="-94" r="6" fill="#555"/><circle cx="-36" cy="35" r="6" fill="#555"/><circle cx="-89" cy="53" r="6" fill="#555"/><circle cx="-29" cy="-36" r="6" fill="#555"/><circle cx="57" cy="5" r="6" fill="#555"/><circle cx="-33" cy="5" r="6" fill="#555"/><circle cx="37" cy="-96" r="6" fill="#555"/><circle cx="86" cy="-105" r="6" fill="#555"/><circle cx="45" cy="93" r="6" fill="#555"/><circle cx="-87" cy="79" r="6" fill="#555"/><circle cx="-24" cy="29" r="6" fill="#555"/><circle cx="-88" cy="-99" r="6" fill="#555"/><circle cx="-57" cy="119" r="6" fill="#555"/><circle cx="-55" cy="71" r="6" fill="#555"/><circle cx="77" cy="116" r="6" fill="#555"/><circle cx="-28" cy="-25" r="6" fill="#555"/><circle cx="4" cy="76" r="6" fill="#555"/><circle cx="-71" cy="70" r="6" fill="#555"/><circle cx="54" cy="96" r="6" fill="#555"/><circle cx="-83" cy="117" r="6" fill="#555"/><circle cx="-74" cy="-28" r="6" fill="#555"/><circle cx="20" cy="110" r="6" fill="#555"/><circle cx="-29" cy="112" r="6" fill="#555"/><circle cx="8" cy="-35" r="6" fill="#555"/><circle cx="-33" cy="-67" r="6" fill="#555"/><circle cx="-76" cy="-74" r="6" fill="#555"/><circle cx="34" cy="129" r="6" fill="#555"/><circle cx="-61" cy="-98" r="6" fill="#555"/><circle cx="88" cy="18" r="6" fill="#555"/><circle cx="-17" cy="-53" r="6" fill="#555"/><circle cx="17" cy="88" r="6" fill="#555"/><circle cx="-8" cy="-9" r="6" fill="#555"/><circle cx="-80" cy="110" r="6" fill="#555"/><circle cx="-84" cy="8" r="6" fill="#555"/><circle cx="61" cy="-79" r="6" fill="#555"/><circle cx="42" cy="118" r="6" fill="#555"/><circle cx="23" cy="79" r="6" fill="#555"/><circle cx="-71" cy="-6" r="6" fill="#555"/><circle cx="-63" cy="93" r="6" fill="#555"/><circle cx="-37" cy="-1" r="6" fill="#555"/><circle cx="90" cy="95" r="6" fill="#555"/><circle cx="86" cy="-1" r="6" fill="#555"/><circle cx="-2" cy="65" r="6" fill="#555"/><circle cx="-4" cy="-40" r="6" fill="#555"/><circle cx="-17" cy="-75" r="6" fill="#555"/><circle cx="-22" cy="127" r="6" fill="#555"/><circle cx="83" cy="40" r="6" fill="#555"/><circle cx="-0" cy="-29" r="6" fill="#555"/><ellipse cx="0" cy="-150" rx="125" ry="33" fill="#fff" stroke="#222" stroke-width="11"/><ellipse cx="0" cy="-146" rx="100" ry="20" fill="none" stroke="#222" stroke-width="6"/></g><g transform="translate(318,470) rotate(-24)"><path d="M-112,-150 L-100,135 Q0,165 100,135 L112,-150 Z" fill="#fff" stroke="#222" stroke-width="11" stroke-linejoin="round"/><circle cx="-74" cy="-45" r="6" fill="#555"/><circle cx="51" cy="98" r="6" fill="#555"/><circle cx="-25" cy="79" r="6" fill="#555"/><circle cx="49" cy="57" r="6" fill="#555"/><circle cx="30" cy="72" r="6" fill="#555"/><circle cx="-25" cy="59" r="6" fill="#555"/><circle cx="-39" cy="7" r="6" fill="#555"/><circle cx="49" cy="56" r="6" fill="#555"/><circle cx="-37" cy="117" r="6" fill="#555"/><circle cx="27" cy="29" r="6" fill="#555"/><circle cx="-88" cy="21" r="6" fill="#555"/><circle cx="-45" cy="51" r="6" fill="#555"/><circle cx="-7" cy="86" r="6" fill="#555"/><circle cx="27" cy="81" r="6" fill="#555"/><circle cx="-27" cy="45" r="6" fill="#555"/><circle cx="43" cy="89" r="6" fill="#555"/><circle cx="-27" cy="92" r="6" fill="#555"/><circle cx="67" cy="55" r="6" fill="#555"/><circle cx="86" cy="120" r="6" fill="#555"/><circle cx="3" cy="17" r="6" fill="#555"/><circle cx="-60" cy="91" r="6" fill="#555"/><circle cx="79" cy="5" r="6" fill="#555"/><circle cx="34" cy="63" r="6" fill="#555"/><circle cx="41" cy="-69" r="6" fill="#555"/><circle cx="50" cy="29" r="6" fill="#555"/><circle cx="30" cy="-9" r="6" fill="#555"/><circle cx="22" cy="76" r="6" fill="#555"/><circle cx="25" cy="63" r="6" fill="#555"/><circle cx="-85" cy="-72" r="6" fill="#555"/><circle cx="-11" cy="46" r="6" fill="#555"/><circle cx="-51" cy="55" r="6" fill="#555"/><circle cx="24" cy="-100" r="6" fill="#555"/><circle cx="-5" cy="-56" r="6" fill="#555"/><circle cx="-80" cy="-78" r="6" fill="#555"/><circle cx="-33" cy="-66" r="6" fill="#555"/><circle cx="-55" cy="-101" r="6" fill="#555"/><circle cx="-6" cy="-19" r="6" fill="#555"/><circle cx="20" cy="32" r="6" fill="#555"/><circle cx="-47" cy="107" r="6" fill="#555"/><circle cx="-90" cy="-13" r="6" fill="#555"/><circle cx="-40" cy="-12" r="6" fill="#555"/><circle cx="-69" cy="90" r="6" fill="#555"/><circle cx="-23" cy="-101" r="6" fill="#555"/><circle cx="20" cy="-87" r="6" fill="#555"/><circle cx="8" cy="-29" r="6" fill="#555"/><circle cx="15" cy="120" r="6" fill="#555"/><circle cx="57" cy="-9" r="6" fill="#555"/><circle cx="56" cy="44" r="6" fill="#555"/><circle cx="-24" cy="-76" r="6" fill="#555"/><circle cx="17" cy="25" r="6" fill="#555"/><circle cx="82" cy="122" r="6" fill="#555"/><circle cx="20" cy="-26" r="6" fill="#555"/><circle cx="71" cy="-110" r="6" fill="#555"/><circle cx="-71" cy="26" r="6" fill="#555"/><circle cx="21" cy="-76" r="6" fill="#555"/><circle cx="23" cy="104" r="6" fill="#555"/><circle cx="-22" cy="-6" r="6" fill="#555"/><circle cx="-49" cy="-40" r="6" fill="#555"/><circle cx="85" cy="-19" r="6" fill="#555"/><circle cx="83" cy="109" r="6" fill="#555"/><circle cx="17" cy="-48" r="6" fill="#555"/><circle cx="87" cy="9" r="6" fill="#555"/><circle cx="-15" cy="-33" r="6" fill="#555"/><circle cx="87" cy="8" r="6" fill="#555"/><circle cx="-38" cy="4" r="6" fill="#555"/><circle cx="-68" cy="39" r="6" fill="#555"/><circle cx="-10" cy="-40" r="6" fill="#555"/><circle cx="51" cy="88" r="6" fill="#555"/><circle cx="-88" cy="18" r="6" fill="#555"/><circle cx="-41" cy="114" r="6" fill="#555"/><ellipse cx="0" cy="-150" rx="125" ry="33" fill="#fff" stroke="#222" stroke-width="11"/><ellipse cx="0" cy="-146" rx="100" ry="20" fill="none" stroke="#222" stroke-width="6"/></g><g transform="translate(1295,470) rotate(24)"><path d="M-112,-150 L-100,135 Q0,165 100,135 L112,-150 Z" fill="#fff" stroke="#222" stroke-width="11" stroke-linejoin="round"/><circle cx="51" cy="-51" r="6" fill="#555"/><circle cx="-42" cy="-73" r="6" fill="#555"/><circle cx="88" cy="-40" r="6" fill="#555"/><circle cx="19" cy="4" r="6" fill="#555"/><circle cx="26" cy="35" r="6" fill="#555"/><circle cx="44" cy="-82" r="6" fill="#555"/><circle cx="47" cy="-38" r="6" fill="#555"/><circle cx="6" cy="-29" r="6" fill="#555"/><circle cx="-37" cy="17" r="6" fill="#555"/><circle cx="-6" cy="-23" r="6" fill="#555"/><circle cx="44" cy="32" r="6" fill="#555"/><circle cx="-83" cy="-49" r="6" fill="#555"/><circle cx="-8" cy="110" r="6" fill="#555"/><circle cx="70" cy="21" r="6" fill="#555"/><circle cx="-87" cy="77" r="6" fill="#555"/><circle cx="-13" cy="28" r="6" fill="#555"/><circle cx="37" cy="42" r="6" fill="#555"/><circle cx="-3" cy="109" r="6" fill="#555"/><circle cx="-21" cy="-16" r="6" fill="#555"/><circle cx="63" cy="-63" r="6" fill="#555"/><circle cx="-37" cy="89" r="6" fill="#555"/><circle cx="-78" cy="91" r="6" fill="#555"/><circle cx="35" cy="-6" r="6" fill="#555"/><circle cx="-38" cy="77" r="6" fill="#555"/><circle cx="74" cy="-76" r="6" fill="#555"/><circle cx="-4" cy="22" r="6" fill="#555"/><circle cx="-0" cy="-31" r="6" fill="#555"/><circle cx="-62" cy="31" r="6" fill="#555"/><circle cx="56" cy="-94" r="6" fill="#555"/><circle cx="-49" cy="87" r="6" fill="#555"/><circle cx="53" cy="49" r="6" fill="#555"/><circle cx="-85" cy="63" r="6" fill="#555"/><circle cx="86" cy="130" r="6" fill="#555"/><circle cx="36" cy="-98" r="6" fill="#555"/><circle cx="62" cy="-57" r="6" fill="#555"/><circle cx="26" cy="119" r="6" fill="#555"/><circle cx="38" cy="-78" r="6" fill="#555"/><circle cx="-37" cy="110" r="6" fill="#555"/><circle cx="-63" cy="37" r="6" fill="#555"/><circle cx="-15" cy="-71" r="6" fill="#555"/><circle cx="22" cy="-100" r="6" fill="#555"/><circle cx="-71" cy="-19" r="6" fill="#555"/><circle cx="-77" cy="-96" r="6" fill="#555"/><circle cx="14" cy="68" r="6" fill="#555"/><circle cx="68" cy="-78" r="6" fill="#555"/><circle cx="-12" cy="-35" r="6" fill="#555"/><circle cx="18" cy="7" r="6" fill="#555"/><circle cx="79" cy="-20" r="6" fill="#555"/><circle cx="-80" cy="57" r="6" fill="#555"/><circle cx="-63" cy="42" r="6" fill="#555"/><circle cx="1" cy="109" r="6" fill="#555"/><circle cx="10" cy="39" r="6" fill="#555"/><circle cx="-43" cy="22" r="6" fill="#555"/><circle cx="-44" cy="70" r="6" fill="#555"/><circle cx="3" cy="-78" r="6" fill="#555"/><circle cx="-48" cy="-21" r="6" fill="#555"/><circle cx="43" cy="-67" r="6" fill="#555"/><circle cx="38" cy="47" r="6" fill="#555"/><circle cx="-75" cy="50" r="6" fill="#555"/><circle cx="-74" cy="-80" r="6" fill="#555"/><circle cx="17" cy="-53" r="6" fill="#555"/><circle cx="68" cy="5" r="6" fill="#555"/><circle cx="-32" cy="81" r="6" fill="#555"/><circle cx="-85" cy="64" r="6" fill="#555"/><circle cx="-80" cy="-74" r="6" fill="#555"/><circle cx="81" cy="53" r="6" fill="#555"/><circle cx="-50" cy="-82" r="6" fill="#555"/><circle cx="85" cy="50" r="6" fill="#555"/><circle cx="58" cy="-76" r="6" fill="#555"/><circle cx="22" cy="-25" r="6" fill="#555"/><ellipse cx="0" cy="-150" rx="125" ry="33" fill="#fff" stroke="#222" stroke-width="11"/><ellipse cx="0" cy="-146" rx="100" ry="20" fill="none" stroke="#222" stroke-width="6"/></g><path d="M805,842 C770,890 730,915 735,950 C740,985 780,985 795,970 L780,1022 H830 L815,970 C830,985 872,985 878,950 C882,915 840,890 805,842 Z" fill="#fff" stroke="#222" stroke-width="9" stroke-linejoin="round"/></g></svg>
<svg style="position:absolute;left:0;top:0;overflow:visible;" width="3179" height="4494" viewBox="0 0 3179 4494"><g transform="translate(540,2400) scale(0.18473)" stroke="#5E8A7A" stroke-width="7" stroke-linejoin="round">
<path d="M190,1208 L340,1128 C230,900 220,560 480,290 C300,400 100,580 105,860 C110,1000 150,1120 190,1208 Z" fill="#57CDA8"/>
<path d="M480,290 C600,240 800,230 1000,340 C1080,390 1130,440 1168,490 L1098,527 L1345,592 L1398,370 L1322,408 C1250,310 1050,170 800,175 C650,180 540,250 480,290 Z" fill="#6EFCCF"/>
</g><path d="M934,2735 H960.2 V2921 H972.8 L947,2947.7 L920.6,2921 H934 Z" fill="#6EFBCB" stroke="#7FA898" stroke-width="1.2"/></svg>
<svg style="position:absolute;left:0;top:0;overflow:visible;" width="3179" height="4494" viewBox="0 0 3179 4494"><defs><linearGradient id="cyl" x1="0" x2="1"><stop offset="0" stop-color="#B9B6F2"/><stop offset="0.5" stop-color="#F3F2FF"/><stop offset="1" stop-color="#B9B6F2"/></linearGradient></defs><path d="M787,3026 V3068 A16.7,8 0 0 0 820.5,3068 V3026 Z" fill="url(#cyl)" stroke="#A7A3E8" stroke-width="1.5"/><ellipse cx="803.7" cy="3026" rx="16.7" ry="8" fill="#fff" stroke="#A7A3E8" stroke-width="2"/><path d="M800,3079 L795,3146 M810,3079 L870,3129" stroke="#1F3864" stroke-width="2.2" fill="none"/><circle cx="841.5" cy="3165.5" r="47.5" fill="#fff" stroke="#1F3864" stroke-width="3"/><path d="M803,3163 L838,3141 L872,3143 L888,3170 L853,3192 L818,3188 Z" fill="#9A9A9A"/><path d="M803,3163 L838,3139 L872,3141 L888,3166 L853,3186 L818,3183 Z" fill="#B5B5B5" stroke="#8a8a8a" stroke-width="1"/><rect x="828" y="3154" width="30" height="16" rx="4" fill="none" stroke="#2E75B6" stroke-width="2" stroke-dasharray="6 4"/><rect x="913.6" y="3043" width="331.2" height="143" rx="14" fill="none" stroke="#2E86D2" stroke-width="3" stroke-dasharray="13 8"/><defs><radialGradient id="at" cx="0.35" cy="0.3" r="0.75"><stop offset="0" stop-color="#ABABAB"/><stop offset="0.6" stop-color="#7E7E7E"/><stop offset="1" stop-color="#4E4E4E"/></radialGradient></defs><clipPath id="latc"><rect x="915" y="3045" width="330" height="140"/></clipPath><g clip-path="url(#latc)"><circle cx="963.2" cy="3116.5" r="8" fill="#6E6E6E"/><circle cx="969.8" cy="3138.6" r="8" fill="#707070"/><circle cx="973.2" cy="3105.4" r="8" fill="#6E6E6E"/><circle cx="979.8" cy="3127.5" r="8" fill="#707070"/><circle cx="983.1" cy="3094.3" r="8" fill="#6E6E6E"/><circle cx="989.8" cy="3116.5" r="8" fill="#707070"/><circle cx="993.1" cy="3083.2" r="8" fill="#6E6E6E"/><circle cx="999.8" cy="3105.4" r="8" fill="#707070"/><circle cx="1012.4" cy="3119.6" r="8" fill="#6E6E6E"/><circle cx="1019.0" cy="3141.7" r="8" fill="#707070"/><circle cx="1022.4" cy="3108.5" r="8" fill="#6E6E6E"/><circle cx="1029.0" cy="3130.6" r="8" fill="#707070"/><circle cx="1032.3" cy="3097.4" r="8" fill="#6E6E6E"/><circle cx="1039.0" cy="3119.6" r="8" fill="#707070"/><circle cx="1042.3" cy="3086.3" r="8" fill="#6E6E6E"/><circle cx="1049.0" cy="3108.5" r="8" fill="#707070"/><circle cx="1061.6" cy="3122.7" r="8" fill="#6E6E6E"/><circle cx="1068.3" cy="3144.8" r="8" fill="#707070"/><circle cx="1071.6" cy="3111.6" r="8" fill="#6E6E6E"/><circle cx="1078.2" cy="3133.7" r="8" fill="#707070"/><circle cx="1081.6" cy="3100.5" r="8" fill="#6E6E6E"/><circle cx="1088.2" cy="3122.7" r="8" fill="#707070"/><circle cx="1091.5" cy="3089.4" r="8" fill="#6E6E6E"/><circle cx="1098.2" cy="3111.6" r="8" fill="#707070"/><circle cx="1110.8" cy="3125.8" r="8" fill="#6E6E6E"/><circle cx="1117.5" cy="3147.9" r="8" fill="#707070"/><circle cx="1120.8" cy="3114.7" r="8" fill="#6E6E6E"/><circle cx="1127.4" cy="3136.8" r="8" fill="#707070"/><circle cx="1130.8" cy="3103.6" r="8" fill="#6E6E6E"/><circle cx="1137.4" cy="3125.8" r="8" fill="#707070"/><circle cx="1140.7" cy="3092.5" r="8" fill="#6E6E6E"/><circle cx="1147.4" cy="3114.7" r="8" fill="#707070"/><circle cx="1160.0" cy="3128.9" r="8" fill="#6E6E6E"/><circle cx="1166.7" cy="3151.0" r="8" fill="#707070"/><circle cx="1170.0" cy="3117.8" r="8" fill="#6E6E6E"/><circle cx="1176.7" cy="3140.0" r="8" fill="#707070"/><circle cx="1180.0" cy="3106.7" r="8" fill="#6E6E6E"/><circle cx="1186.6" cy="3128.9" r="8" fill="#707070"/><circle cx="1190.0" cy="3095.6" r="8" fill="#6E6E6E"/><circle cx="1196.6" cy="3117.8" r="8" fill="#707070"/><circle cx="1209.2" cy="3132.0" r="8" fill="#6E6E6E"/><circle cx="1215.9" cy="3154.1" r="8" fill="#707070"/><circle cx="1219.2" cy="3120.9" r="8" fill="#6E6E6E"/><circle cx="1225.9" cy="3143.1" r="8" fill="#707070"/><circle cx="1229.2" cy="3109.8" r="8" fill="#6E6E6E"/><circle cx="1235.8" cy="3132.0" r="8" fill="#707070"/><circle cx="1239.2" cy="3098.7" r="8" fill="#6E6E6E"/><circle cx="1245.8" cy="3120.9" r="8" fill="#707070"/><circle cx="1258.5" cy="3135.1" r="8" fill="#6E6E6E"/><circle cx="1265.1" cy="3157.2" r="8" fill="#707070"/><circle cx="1268.4" cy="3124.0" r="8" fill="#6E6E6E"/><circle cx="1275.1" cy="3146.2" r="8" fill="#707070"/><circle cx="1278.4" cy="3112.9" r="8" fill="#6E6E6E"/><circle cx="1285.1" cy="3135.1" r="8" fill="#707070"/><circle cx="1288.4" cy="3101.8" r="8" fill="#6E6E6E"/><circle cx="1295.0" cy="3124.0" r="8" fill="#707070"/><g stroke="#2E2E2E" stroke-width="2.6"><line x1="924.4" y1="3110.9" x2="935.9" y2="3130.2"/><line x1="935.5" y1="3098.3" x2="947.0" y2="3117.6"/><line x1="946.6" y1="3085.6" x2="958.1" y2="3104.9"/><line x1="957.6" y1="3073.0" x2="969.2" y2="3092.3"/><line x1="968.7" y1="3060.4" x2="980.2" y2="3079.7"/><line x1="965.4" y1="3117.6" x2="976.9" y2="3136.8"/><line x1="975.4" y1="3106.5" x2="986.9" y2="3125.8"/><line x1="985.3" y1="3095.4" x2="996.9" y2="3114.7"/><line x1="995.3" y1="3084.3" x2="1006.8" y2="3103.6"/><line x1="973.6" y1="3114.0" x2="985.1" y2="3133.3"/><line x1="984.7" y1="3101.4" x2="996.2" y2="3120.7"/><line x1="995.8" y1="3088.7" x2="1007.3" y2="3108.0"/><line x1="1006.8" y1="3076.1" x2="1018.4" y2="3095.4"/><line x1="1017.9" y1="3063.5" x2="1029.5" y2="3082.8"/><line x1="1014.6" y1="3120.7" x2="1026.1" y2="3140.0"/><line x1="1024.6" y1="3109.6" x2="1036.1" y2="3128.9"/><line x1="1034.6" y1="3098.5" x2="1046.1" y2="3117.8"/><line x1="1044.5" y1="3087.4" x2="1056.1" y2="3106.7"/><line x1="1022.8" y1="3117.1" x2="1034.3" y2="3136.4"/><line x1="1033.9" y1="3104.5" x2="1045.4" y2="3123.8"/><line x1="1045.0" y1="3091.8" x2="1056.5" y2="3111.1"/><line x1="1056.1" y1="3079.2" x2="1067.6" y2="3098.5"/><line x1="1067.1" y1="3066.6" x2="1078.7" y2="3085.9"/><line x1="1063.8" y1="3123.8" x2="1075.3" y2="3143.1"/><line x1="1073.8" y1="3112.7" x2="1085.3" y2="3132.0"/><line x1="1083.8" y1="3101.6" x2="1095.3" y2="3120.9"/><line x1="1093.7" y1="3090.5" x2="1105.3" y2="3109.8"/><line x1="1072.0" y1="3120.2" x2="1083.6" y2="3139.5"/><line x1="1083.1" y1="3107.6" x2="1094.6" y2="3126.9"/><line x1="1094.2" y1="3095.0" x2="1105.7" y2="3114.2"/><line x1="1105.3" y1="3082.3" x2="1116.8" y2="3101.6"/><line x1="1116.4" y1="3069.7" x2="1127.9" y2="3089.0"/><line x1="1113.0" y1="3126.9" x2="1124.6" y2="3146.2"/><line x1="1123.0" y1="3115.8" x2="1134.5" y2="3135.1"/><line x1="1133.0" y1="3104.7" x2="1144.5" y2="3124.0"/><line x1="1143.0" y1="3093.6" x2="1154.5" y2="3112.9"/><line x1="1121.2" y1="3123.3" x2="1132.8" y2="3142.6"/><line x1="1132.3" y1="3110.7" x2="1143.8" y2="3130.0"/><line x1="1143.4" y1="3098.1" x2="1154.9" y2="3117.3"/><line x1="1154.5" y1="3085.4" x2="1166.0" y2="3104.7"/><line x1="1165.6" y1="3072.8" x2="1177.1" y2="3092.1"/><line x1="1162.2" y1="3130.0" x2="1173.8" y2="3149.3"/><line x1="1172.2" y1="3118.9" x2="1183.8" y2="3138.2"/><line x1="1182.2" y1="3107.8" x2="1193.7" y2="3127.1"/><line x1="1192.2" y1="3096.7" x2="1203.7" y2="3116.0"/><line x1="1170.5" y1="3126.4" x2="1182.0" y2="3145.7"/><line x1="1181.5" y1="3113.8" x2="1193.1" y2="3133.1"/><line x1="1192.6" y1="3101.2" x2="1204.1" y2="3120.4"/><line x1="1203.7" y1="3088.5" x2="1215.2" y2="3107.8"/><line x1="1214.8" y1="3075.9" x2="1226.3" y2="3095.2"/><line x1="1211.5" y1="3133.1" x2="1223.0" y2="3152.4"/><line x1="1221.4" y1="3122.0" x2="1233.0" y2="3141.3"/><line x1="1231.4" y1="3110.9" x2="1242.9" y2="3130.2"/><line x1="1241.4" y1="3099.8" x2="1252.9" y2="3119.1"/><line x1="1219.7" y1="3129.5" x2="1231.2" y2="3148.8"/><line x1="1230.7" y1="3116.9" x2="1242.3" y2="3136.2"/><line x1="1241.8" y1="3104.3" x2="1253.4" y2="3123.5"/><line x1="1252.9" y1="3091.6" x2="1264.4" y2="3110.9"/><line x1="1264.0" y1="3079.0" x2="1275.5" y2="3098.3"/><line x1="1260.7" y1="3136.2" x2="1272.2" y2="3155.5"/><line x1="1270.6" y1="3125.1" x2="1282.2" y2="3144.4"/><line x1="1280.6" y1="3114.0" x2="1292.2" y2="3133.3"/><line x1="1290.6" y1="3102.9" x2="1302.1" y2="3122.2"/></g><g stroke="#9A9A9A" stroke-width="2.6"><line x1="928.4" y1="3109.4" x2="939.9" y2="3128.6"/><line x1="939.5" y1="3096.7" x2="951.0" y2="3116.0"/><line x1="950.5" y1="3084.1" x2="962.1" y2="3103.4"/><line x1="961.6" y1="3071.5" x2="973.2" y2="3090.7"/><line x1="972.7" y1="3058.8" x2="984.2" y2="3078.1"/><line x1="969.4" y1="3116.0" x2="980.9" y2="3135.3"/><line x1="979.4" y1="3104.9" x2="990.9" y2="3124.2"/><line x1="989.3" y1="3093.8" x2="1000.9" y2="3113.1"/><line x1="999.3" y1="3082.8" x2="1010.8" y2="3102.0"/><line x1="977.6" y1="3112.5" x2="989.1" y2="3131.8"/><line x1="988.7" y1="3099.8" x2="1000.2" y2="3119.1"/><line x1="999.8" y1="3087.2" x2="1011.3" y2="3106.5"/><line x1="1010.8" y1="3074.6" x2="1022.4" y2="3093.8"/><line x1="1021.9" y1="3061.9" x2="1033.5" y2="3081.2"/><line x1="1018.6" y1="3119.1" x2="1030.1" y2="3138.4"/><line x1="1028.6" y1="3108.0" x2="1040.1" y2="3127.3"/><line x1="1038.6" y1="3096.9" x2="1050.1" y2="3116.2"/><line x1="1048.5" y1="3085.9" x2="1060.1" y2="3105.1"/><line x1="1026.8" y1="3115.6" x2="1038.3" y2="3134.9"/><line x1="1037.9" y1="3102.9" x2="1049.4" y2="3122.2"/><line x1="1049.0" y1="3090.3" x2="1060.5" y2="3109.6"/><line x1="1060.1" y1="3077.7" x2="1071.6" y2="3096.9"/><line x1="1071.1" y1="3065.0" x2="1082.7" y2="3084.3"/><line x1="1067.8" y1="3122.2" x2="1079.3" y2="3141.5"/><line x1="1077.8" y1="3111.1" x2="1089.3" y2="3130.4"/><line x1="1087.8" y1="3100.1" x2="1099.3" y2="3119.3"/><line x1="1097.7" y1="3089.0" x2="1109.3" y2="3108.3"/><line x1="1076.0" y1="3118.7" x2="1087.5" y2="3138.0"/><line x1="1087.1" y1="3106.0" x2="1098.6" y2="3125.3"/><line x1="1098.2" y1="3093.4" x2="1109.7" y2="3112.7"/><line x1="1109.3" y1="3080.8" x2="1120.8" y2="3100.1"/><line x1="1120.4" y1="3068.1" x2="1131.9" y2="3087.4"/><line x1="1117.0" y1="3125.3" x2="1128.6" y2="3144.6"/><line x1="1127.0" y1="3114.2" x2="1138.5" y2="3133.5"/><line x1="1137.0" y1="3103.2" x2="1148.5" y2="3122.4"/><line x1="1147.0" y1="3092.1" x2="1158.5" y2="3111.4"/><line x1="1125.2" y1="3121.8" x2="1136.8" y2="3141.1"/><line x1="1136.3" y1="3109.1" x2="1147.8" y2="3128.4"/><line x1="1147.4" y1="3096.5" x2="1158.9" y2="3115.8"/><line x1="1158.5" y1="3083.9" x2="1170.0" y2="3103.2"/><line x1="1169.6" y1="3071.2" x2="1181.1" y2="3090.5"/><line x1="1166.2" y1="3128.4" x2="1177.8" y2="3147.7"/><line x1="1176.2" y1="3117.3" x2="1187.7" y2="3136.6"/><line x1="1186.2" y1="3106.3" x2="1197.7" y2="3125.5"/><line x1="1196.2" y1="3095.2" x2="1207.7" y2="3114.5"/><line x1="1174.4" y1="3124.9" x2="1186.0" y2="3144.2"/><line x1="1185.5" y1="3112.2" x2="1197.1" y2="3131.5"/><line x1="1196.6" y1="3099.6" x2="1208.1" y2="3118.9"/><line x1="1207.7" y1="3087.0" x2="1219.2" y2="3106.3"/><line x1="1218.8" y1="3074.3" x2="1230.3" y2="3093.6"/><line x1="1215.5" y1="3131.5" x2="1227.0" y2="3150.8"/><line x1="1225.4" y1="3120.4" x2="1237.0" y2="3139.7"/><line x1="1235.4" y1="3109.4" x2="1246.9" y2="3128.6"/><line x1="1245.4" y1="3098.3" x2="1256.9" y2="3117.6"/><line x1="1223.7" y1="3128.0" x2="1235.2" y2="3147.3"/><line x1="1234.7" y1="3115.3" x2="1246.3" y2="3134.6"/><line x1="1245.8" y1="3102.7" x2="1257.3" y2="3122.0"/><line x1="1256.9" y1="3090.1" x2="1268.4" y2="3109.4"/><line x1="1268.0" y1="3077.4" x2="1279.5" y2="3096.7"/><line x1="1264.7" y1="3134.6" x2="1276.2" y2="3153.9"/><line x1="1274.6" y1="3123.5" x2="1286.2" y2="3142.8"/><line x1="1284.6" y1="3112.5" x2="1296.1" y2="3131.8"/><line x1="1294.6" y1="3101.4" x2="1306.1" y2="3120.7"/></g><circle cx="922.2" cy="3109.8" r="8.6" fill="url(#at)"/><circle cx="933.3" cy="3097.2" r="8.6" fill="url(#at)"/><circle cx="944.3" cy="3084.5" r="8.6" fill="url(#at)"/><circle cx="955.4" cy="3071.9" r="8.6" fill="url(#at)"/><circle cx="966.5" cy="3059.3" r="8.6" fill="url(#at)"/><circle cx="935.5" cy="3143.1" r="8.6" fill="url(#at)"/><circle cx="947.0" cy="3131.5" r="8.6" fill="url(#at)"/><circle cx="958.5" cy="3120.0" r="8.6" fill="url(#at)"/><circle cx="970.1" cy="3108.5" r="8.6" fill="url(#at)"/><circle cx="971.4" cy="3112.9" r="8.6" fill="url(#at)"/><circle cx="982.5" cy="3100.3" r="8.6" fill="url(#at)"/><circle cx="993.5" cy="3087.6" r="8.6" fill="url(#at)"/><circle cx="1004.6" cy="3075.0" r="8.6" fill="url(#at)"/><circle cx="1015.7" cy="3062.4" r="8.6" fill="url(#at)"/><circle cx="984.7" cy="3146.2" r="8.6" fill="url(#at)"/><circle cx="996.2" cy="3134.6" r="8.6" fill="url(#at)"/><circle cx="1007.7" cy="3123.1" r="8.6" fill="url(#at)"/><circle cx="1019.3" cy="3111.6" r="8.6" fill="url(#at)"/><circle cx="1020.6" cy="3116.0" r="8.6" fill="url(#at)"/><circle cx="1031.7" cy="3103.4" r="8.6" fill="url(#at)"/><circle cx="1042.8" cy="3090.7" r="8.6" fill="url(#at)"/><circle cx="1053.8" cy="3078.1" r="8.6" fill="url(#at)"/><circle cx="1064.9" cy="3065.5" r="8.6" fill="url(#at)"/><circle cx="1033.9" cy="3149.3" r="8.6" fill="url(#at)"/><circle cx="1045.4" cy="3137.7" r="8.6" fill="url(#at)"/><circle cx="1056.9" cy="3126.2" r="8.6" fill="url(#at)"/><circle cx="1068.5" cy="3114.7" r="8.6" fill="url(#at)"/><circle cx="1069.8" cy="3119.1" r="8.6" fill="url(#at)"/><circle cx="1080.9" cy="3106.5" r="8.6" fill="url(#at)"/><circle cx="1092.0" cy="3093.8" r="8.6" fill="url(#at)"/><circle cx="1103.1" cy="3081.2" r="8.6" fill="url(#at)"/><circle cx="1114.1" cy="3068.6" r="8.6" fill="url(#at)"/><circle cx="1083.1" cy="3152.4" r="8.6" fill="url(#at)"/><circle cx="1094.6" cy="3140.8" r="8.6" fill="url(#at)"/><circle cx="1106.2" cy="3129.3" r="8.6" fill="url(#at)"/><circle cx="1117.7" cy="3117.8" r="8.6" fill="url(#at)"/><circle cx="1119.0" cy="3122.2" r="8.6" fill="url(#at)"/><circle cx="1130.1" cy="3109.6" r="8.6" fill="url(#at)"/><circle cx="1141.2" cy="3096.9" r="8.6" fill="url(#at)"/><circle cx="1152.3" cy="3084.3" r="8.6" fill="url(#at)"/><circle cx="1163.4" cy="3071.7" r="8.6" fill="url(#at)"/><circle cx="1132.3" cy="3155.5" r="8.6" fill="url(#at)"/><circle cx="1143.8" cy="3143.9" r="8.6" fill="url(#at)"/><circle cx="1155.4" cy="3132.4" r="8.6" fill="url(#at)"/><circle cx="1166.9" cy="3120.9" r="8.6" fill="url(#at)"/><circle cx="1168.2" cy="3125.3" r="8.6" fill="url(#at)"/><circle cx="1179.3" cy="3112.7" r="8.6" fill="url(#at)"/><circle cx="1190.4" cy="3100.1" r="8.6" fill="url(#at)"/><circle cx="1201.5" cy="3087.4" r="8.6" fill="url(#at)"/><circle cx="1212.6" cy="3074.8" r="8.6" fill="url(#at)"/><circle cx="1181.5" cy="3158.6" r="8.6" fill="url(#at)"/><circle cx="1193.1" cy="3147.0" r="8.6" fill="url(#at)"/><circle cx="1204.6" cy="3135.5" r="8.6" fill="url(#at)"/><circle cx="1216.1" cy="3124.0" r="8.6" fill="url(#at)"/><circle cx="1217.4" cy="3128.4" r="8.6" fill="url(#at)"/><circle cx="1228.5" cy="3115.8" r="8.6" fill="url(#at)"/><circle cx="1239.6" cy="3103.2" r="8.6" fill="url(#at)"/><circle cx="1250.7" cy="3090.5" r="8.6" fill="url(#at)"/><circle cx="1261.8" cy="3077.9" r="8.6" fill="url(#at)"/><circle cx="1230.7" cy="3161.7" r="8.6" fill="url(#at)"/><circle cx="1242.3" cy="3150.2" r="8.6" fill="url(#at)"/><circle cx="1253.8" cy="3138.6" r="8.6" fill="url(#at)"/><circle cx="1265.3" cy="3127.1" r="8.6" fill="url(#at)"/></g></svg>
<div class="t" style="left:786.0px;top:2982.1px;font-family:'Liberation Sans', sans-serif;font-size:27px;color:#333;transform:scaleX(1.0747);">Sb</div>
<div style="position:absolute;box-sizing:border-box;left:2095.5px;top:2157.0px;width:719.2px;height:94.7px;background:#fff;border:6.5px solid #F96B0C;border-radius:3px;"></div>
<div class="t" style="left:2125.5px;top:2172.8px;font-family:'Liberation Sans', sans-serif;font-size:60px;font-style:italic;color:#F96B0C;transform:scaleX(0.9113);">Continuous-Flow Synthesis</div>
<div style="position:absolute;box-sizing:border-box;left:1646.0px;top:2368.6px;width:337.5px;height:126.4px;background:#fff;border:6px solid #F96B0C;border-radius:24px;"></div>
<div class="t" style="left:1663.3px;top:2393.0px;font-family:'Liberation Sans', sans-serif;font-size:33px;font-weight:bold;color:#000;transform:scaleX(0.9590);">Precursor + reaction</div>
<div class="t" style="left:1754.0px;top:2438.6px;font-family:'Liberation Sans', sans-serif;font-size:33px;font-weight:bold;color:#000;transform:scaleX(0.9958);">medium</div>
<div style="position:absolute;box-sizing:border-box;left:2859.7px;top:2415.4px;width:257.3px;height:114.6px;background:#fff;border:6px solid #F96B0C;border-radius:24px;"></div>
<div class="t" style="left:2892.7px;top:2434.7px;font-family:'Liberation Sans', sans-serif;font-size:33px;font-weight:bold;color:#000;transform:scaleX(0.9960);">Antimonene</div>
<div class="t" style="left:2899.0px;top:2480.0px;font-family:'Liberation Sans', sans-serif;font-size:33px;font-weight:bold;color:#000;transform:scaleX(0.9652);">nanosheets</div>
<svg style="position:absolute;left:0;top:0;overflow:visible;" width="3179" height="4494" viewBox="0 0 3179 4494"><path d="M1743.2,2523.7 L1804.7,2585.3 L1819.5,2570.5 L1819.5,2626.7 L1762.9,2626.7 L1778.6,2613.4 L1716,2551.8 Z" fill="#FF6A0D" stroke="#C9814F" stroke-width="1"/><path d="M2910.4,2629.4 L2981.2,2580.7 L2969.4,2564.5 L3019.6,2570.9 L3011.2,2622.1 L2999.9,2607.3 L2930.1,2656.5 Z" fill="#FF6A0D" stroke="#C9814F" stroke-width="1"/></svg>
<div style="position:absolute;box-sizing:border-box;left:1648.6px;top:2935.5px;width:1469.4px;height:195.0px;background:#fff;border:6px solid #F96B0C;border-radius:3px;"></div>
<div class="t" style="left:1663.3px;top:2948.1px;font-family:'Liberation Sans', sans-serif;font-size:34.5px;color:#000;word-spacing:0.045px;transform:scaleX(1.0039);">In the continuous synthesis, we do not use the hot injection method, but instead, the precursor</div>
<div class="t" style="left:1663.3px;top:2992.5px;font-family:'Liberation Sans', sans-serif;font-size:34.5px;color:#000;word-spacing:4.034px;transform:scaleX(1.0039);">and reaction medium are mixed at 30 °C before introducing the mixture in the reactor. This</div>
<div class="t" style="left:1663.3px;top:3037.3px;font-family:'Liberation Sans', sans-serif;font-size:34.5px;color:#000;word-spacing:3.927px;transform:scaleX(1.0039);">modification directly affects the reaction temperature, which decreases from 300 °C used in</div>
<div class="t" style="left:1663.3px;top:3081.6px;font-family:'Liberation Sans', sans-serif;font-size:34.5px;color:#000;transform:scaleX(1.0039);">the hot injection method to 250 °C .</div>
<svg style="position:absolute;left:0;top:0;overflow:visible;" width="3179" height="4494" viewBox="0 0 3179 4494"><defs>
<linearGradient id="jk" x1="0" y1="0" x2="0" y2="1"><stop offset="0" stop-color="#525A73"/><stop offset="0.35" stop-color="#4A526A"/><stop offset="1" stop-color="#3A4156"/></linearGradient>
<linearGradient id="jk2" x1="0" y1="0" x2="0" y2="1"><stop offset="0" stop-color="#3F465C"/><stop offset="1" stop-color="#33394C"/></linearGradient>
<linearGradient id="st" x1="0" y1="0" x2="0" y2="1"><stop offset="0" stop-color="#6E6E6E"/><stop offset="0.5" stop-color="#DCDCDC"/><stop offset="1" stop-color="#7E7E7E"/></linearGradient>
<linearGradient id="inn" x1="0" y1="0" x2="0" y2="1"><stop offset="0" stop-color="#262626"/><stop offset="0.22" stop-color="#7C7C7C"/><stop offset="0.55" stop-color="#D2D2D2"/><stop offset="0.85" stop-color="#9A9A9A"/><stop offset="1" stop-color="#4A4A4A"/></linearGradient>
<linearGradient id="shl" x1="0" y1="0" x2="1" y2="0"><stop offset="0" stop-color="#000" stop-opacity="0.75"/><stop offset="0.12" stop-color="#000" stop-opacity="0.35"/><stop offset="0.3" stop-color="#000" stop-opacity="0"/><stop offset="1" stop-color="#000" stop-opacity="0"/></linearGradient>
<linearGradient id="st2" x1="0" y1="0" x2="0" y2="1"><stop offset="0" stop-color="#8A8A8A"/><stop offset="0.35" stop-color="#DADADA"/><stop offset="1" stop-color="#6A6A6A"/></linearGradient>
<linearGradient id="endg" x1="0" y1="0" x2="1" y2="0"><stop offset="0" stop-color="#666"/><stop offset="0.5" stop-color="#E8E8E8"/><stop offset="1" stop-color="#9A9A9A"/></linearGradient>
</defs><path d="M1885,2554 L2800,2549 C2822,2549 2827,2600 2827,2672 C2827,2745 2822,2798 2800,2798 L1890,2728 C1858,2722 1846,2690 1846,2642 C1846,2595 1858,2558 1885,2554 Z" fill="url(#jk)"/><path d="M2241,2569 L2815,2586 L2815,2764 L2241,2742 C2214,2700 2212,2620 2241,2569 Z" fill="url(#jk2)"/><path d="M2241,2569 C2214,2620 2214,2700 2241,2742 C2229,2700 2228,2620 2241,2569 Z" fill="#2E3446"/><path d="M2238,2594 L2580,2598 L2872,2591.5 C2898,2600 2898,2752 2872,2761.5 L2580,2739 L2238,2713.5 Z" fill="#CFCFCF"/><path d="M2241,2615 L2580,2620 L2858,2612 L2858,2725 L2580,2719.6 L2400,2711 L2241,2700 Z" fill="url(#inn)"/><path d="M2241,2615 L2580,2620 L2858,2612 L2858,2725 L2580,2719.6 L2400,2711 L2241,2700 Z" fill="url(#shl)"/><path d="M2238,2594 L2580,2598 L2872,2591.5 L2860,2612 L2580,2620 L2241,2615 Z" fill="url(#st)"/><path d="M2241,2700 L2400,2711 L2580,2719.6 L2858,2725 L2872,2761.5 L2580,2739 L2238,2713.5 Z" fill="url(#st2)"/><ellipse cx="2872" cy="2676" rx="21" ry="85" fill="url(#endg)"/><ellipse cx="2873" cy="2676" rx="14" ry="68" fill="#5A5A5A"/><ellipse cx="2876" cy="2676" rx="10" ry="60" fill="#8E8E8E"/><path d="M2790,2549 C2824,2549 2827,2592 2827,2592 L2790,2590 Z" fill="#4C546C"/><path d="M2780,2760 L2827,2762 C2824,2790 2818,2798 2800,2798 L2780,2796 Z" fill="#3A4156"/><polygon points="2306.1,2648.0 2287.7,2664.2 2262.6,2658.3 2255.9,2636.0 2274.3,2619.8 2299.4,2625.7" fill="#BDBDBD"/><polygon points="2395.4,2672.5 2386.4,2688.6 2358.0,2692.2 2338.6,2679.5 2347.6,2663.4 2376.0,2659.8" fill="#C4C4C4"/><polygon points="2478.4,2665.7 2455.5,2680.0 2431.7,2667.3 2430.8,2640.3 2453.7,2626.0 2477.5,2638.7" fill="#C9C9C9"/><polygon points="2515.2,2673.3 2513.7,2699.0 2503.5,2708.7 2494.8,2692.7 2496.3,2667.0 2506.5,2657.3" fill="#ADADAD"/><polygon points="2600.4,2648.0 2590.7,2665.4 2578.3,2657.4 2575.6,2632.0 2585.3,2614.6 2597.7,2622.6" fill="#C8C8C8"/><polygon points="2664.1,2675.5 2653.8,2692.7 2641.8,2682.2 2639.9,2654.5 2650.2,2637.3 2662.2,2647.8" fill="#BEBEBE"/><polygon points="2591.3,2696.2 2589.7,2705.2 2573.4,2709.0 2558.7,2703.8 2560.3,2694.8 2576.6,2691.0" fill="#B5B5B5"/><polygon points="2789.3,2711.2 2765.5,2720.9 2739.2,2713.8 2736.7,2696.8 2760.5,2687.1 2786.8,2694.2" fill="#C4C4C4"/><polygon points="2863.5,2674.9 2844.3,2696.3 2814.7,2691.4 2804.5,2665.1 2823.7,2643.7 2853.3,2648.6" fill="#D0D0D0"/><circle cx="2300.0" cy="2637.0" r="2.6" fill="#222"/><circle cx="2302.0" cy="2632.0" r="2.2" fill="#fff"/><circle cx="2298.0" cy="2642.0" r="2.2" fill="#fff"/><circle cx="2309.1" cy="2642.3" r="2.6" fill="#222"/><circle cx="2311.1" cy="2637.3" r="2.2" fill="#fff"/><circle cx="2307.1" cy="2647.3" r="2.2" fill="#fff"/><circle cx="2318.2" cy="2635.5" r="2.6" fill="#222"/><circle cx="2320.2" cy="2630.5" r="2.2" fill="#fff"/><circle cx="2316.2" cy="2640.5" r="2.2" fill="#fff"/><circle cx="2327.3" cy="2640.8" r="2.6" fill="#222"/><circle cx="2329.3" cy="2635.8" r="2.2" fill="#fff"/><circle cx="2325.3" cy="2645.8" r="2.2" fill="#fff"/><circle cx="2336.4" cy="2634.1" r="2.6" fill="#222"/><circle cx="2338.4" cy="2629.1" r="2.2" fill="#fff"/><circle cx="2334.4" cy="2639.1" r="2.2" fill="#fff"/><circle cx="2345.5" cy="2639.4" r="2.6" fill="#222"/><circle cx="2347.5" cy="2634.4" r="2.2" fill="#fff"/><circle cx="2343.5" cy="2644.4" r="2.2" fill="#fff"/><circle cx="2354.5" cy="2632.6" r="2.6" fill="#222"/><circle cx="2356.5" cy="2627.6" r="2.2" fill="#fff"/><circle cx="2352.5" cy="2637.6" r="2.2" fill="#fff"/><circle cx="2363.6" cy="2637.9" r="2.6" fill="#222"/><circle cx="2365.6" cy="2632.9" r="2.2" fill="#fff"/><circle cx="2361.6" cy="2642.9" r="2.2" fill="#fff"/><circle cx="2372.7" cy="2631.2" r="2.6" fill="#222"/><circle cx="2374.7" cy="2626.2" r="2.2" fill="#fff"/><circle cx="2370.7" cy="2636.2" r="2.2" fill="#fff"/><circle cx="2381.8" cy="2636.5" r="2.6" fill="#222"/><circle cx="2383.8" cy="2631.5" r="2.2" fill="#fff"/><circle cx="2379.8" cy="2641.5" r="2.2" fill="#fff"/><circle cx="2390.9" cy="2629.7" r="2.6" fill="#222"/><circle cx="2392.9" cy="2624.7" r="2.2" fill="#fff"/><circle cx="2388.9" cy="2634.7" r="2.2" fill="#fff"/><circle cx="2400.0" cy="2635.0" r="2.6" fill="#222"/><circle cx="2402.0" cy="2630.0" r="2.2" fill="#fff"/><circle cx="2398.0" cy="2640.0" r="2.2" fill="#fff"/><circle cx="2255.0" cy="2687.0" r="2.6" fill="#222"/><circle cx="2257.0" cy="2682.0" r="2.2" fill="#fff"/><circle cx="2253.0" cy="2692.0" r="2.2" fill="#fff"/><circle cx="2263.8" cy="2694.0" r="2.6" fill="#222"/><circle cx="2265.8" cy="2689.0" r="2.2" fill="#fff"/><circle cx="2261.8" cy="2699.0" r="2.2" fill="#fff"/><circle cx="2272.5" cy="2689.0" r="2.6" fill="#222"/><circle cx="2274.5" cy="2684.0" r="2.2" fill="#fff"/><circle cx="2270.5" cy="2694.0" r="2.2" fill="#fff"/><circle cx="2281.2" cy="2696.0" r="2.6" fill="#222"/><circle cx="2283.2" cy="2691.0" r="2.2" fill="#fff"/><circle cx="2279.2" cy="2701.0" r="2.2" fill="#fff"/><circle cx="2290.0" cy="2691.0" r="2.6" fill="#222"/><circle cx="2292.0" cy="2686.0" r="2.2" fill="#fff"/><circle cx="2288.0" cy="2696.0" r="2.2" fill="#fff"/><circle cx="2298.8" cy="2698.0" r="2.6" fill="#222"/><circle cx="2300.8" cy="2693.0" r="2.2" fill="#fff"/><circle cx="2296.8" cy="2703.0" r="2.2" fill="#fff"/><circle cx="2307.5" cy="2693.0" r="2.6" fill="#222"/><circle cx="2309.5" cy="2688.0" r="2.2" fill="#fff"/><circle cx="2305.5" cy="2698.0" r="2.2" fill="#fff"/><circle cx="2316.2" cy="2700.0" r="2.6" fill="#222"/><circle cx="2318.2" cy="2695.0" r="2.2" fill="#fff"/><circle cx="2314.2" cy="2705.0" r="2.2" fill="#fff"/><circle cx="2325.0" cy="2695.0" r="2.6" fill="#222"/><circle cx="2327.0" cy="2690.0" r="2.2" fill="#fff"/><circle cx="2323.0" cy="2700.0" r="2.2" fill="#fff"/><circle cx="2395.0" cy="2695.0" r="2.6" fill="#222"/><circle cx="2397.0" cy="2690.0" r="2.2" fill="#fff"/><circle cx="2393.0" cy="2700.0" r="2.2" fill="#fff"/><circle cx="2404.4" cy="2701.2" r="2.6" fill="#222"/><circle cx="2406.4" cy="2696.2" r="2.2" fill="#fff"/><circle cx="2402.4" cy="2706.2" r="2.2" fill="#fff"/><circle cx="2413.8" cy="2695.5" r="2.6" fill="#222"/><circle cx="2415.8" cy="2690.5" r="2.2" fill="#fff"/><circle cx="2411.8" cy="2700.5" r="2.2" fill="#fff"/><circle cx="2423.1" cy="2701.8" r="2.6" fill="#222"/><circle cx="2425.1" cy="2696.8" r="2.2" fill="#fff"/><circle cx="2421.1" cy="2706.8" r="2.2" fill="#fff"/><circle cx="2432.5" cy="2696.0" r="2.6" fill="#222"/><circle cx="2434.5" cy="2691.0" r="2.2" fill="#fff"/><circle cx="2430.5" cy="2701.0" r="2.2" fill="#fff"/><circle cx="2441.9" cy="2702.2" r="2.6" fill="#222"/><circle cx="2443.9" cy="2697.2" r="2.2" fill="#fff"/><circle cx="2439.9" cy="2707.2" r="2.2" fill="#fff"/><circle cx="2451.2" cy="2696.5" r="2.6" fill="#222"/><circle cx="2453.2" cy="2691.5" r="2.2" fill="#fff"/><circle cx="2449.2" cy="2701.5" r="2.2" fill="#fff"/><circle cx="2460.6" cy="2702.8" r="2.6" fill="#222"/><circle cx="2462.6" cy="2697.8" r="2.2" fill="#fff"/><circle cx="2458.6" cy="2707.8" r="2.2" fill="#fff"/><circle cx="2470.0" cy="2697.0" r="2.6" fill="#222"/><circle cx="2472.0" cy="2692.0" r="2.2" fill="#fff"/><circle cx="2468.0" cy="2702.0" r="2.2" fill="#fff"/><circle cx="2510.0" cy="2637.0" r="2.6" fill="#222"/><circle cx="2512.0" cy="2632.0" r="2.2" fill="#fff"/><circle cx="2508.0" cy="2642.0" r="2.2" fill="#fff"/><circle cx="2517.1" cy="2650.1" r="2.6" fill="#222"/><circle cx="2519.1" cy="2645.1" r="2.2" fill="#fff"/><circle cx="2515.1" cy="2655.1" r="2.2" fill="#fff"/><circle cx="2524.3" cy="2651.3" r="2.6" fill="#222"/><circle cx="2526.3" cy="2646.3" r="2.2" fill="#fff"/><circle cx="2522.3" cy="2656.3" r="2.2" fill="#fff"/><circle cx="2531.4" cy="2664.4" r="2.6" fill="#222"/><circle cx="2533.4" cy="2659.4" r="2.2" fill="#fff"/><circle cx="2529.4" cy="2669.4" r="2.2" fill="#fff"/><circle cx="2538.6" cy="2665.6" r="2.6" fill="#222"/><circle cx="2540.6" cy="2660.6" r="2.2" fill="#fff"/><circle cx="2536.6" cy="2670.6" r="2.2" fill="#fff"/><circle cx="2545.7" cy="2678.7" r="2.6" fill="#222"/><circle cx="2547.7" cy="2673.7" r="2.2" fill="#fff"/><circle cx="2543.7" cy="2683.7" r="2.2" fill="#fff"/><circle cx="2552.9" cy="2679.9" r="2.6" fill="#222"/><circle cx="2554.9" cy="2674.9" r="2.2" fill="#fff"/><circle cx="2550.9" cy="2684.9" r="2.2" fill="#fff"/><circle cx="2560.0" cy="2693.0" r="2.6" fill="#222"/><circle cx="2562.0" cy="2688.0" r="2.2" fill="#fff"/><circle cx="2558.0" cy="2698.0" r="2.2" fill="#fff"/><circle cx="2480.0" cy="2662.0" r="2.6" fill="#222"/><circle cx="2482.0" cy="2657.0" r="2.2" fill="#fff"/><circle cx="2478.0" cy="2667.0" r="2.2" fill="#fff"/><circle cx="2488.6" cy="2673.0" r="2.6" fill="#222"/><circle cx="2490.6" cy="2668.0" r="2.2" fill="#fff"/><circle cx="2486.6" cy="2678.0" r="2.2" fill="#fff"/><circle cx="2497.1" cy="2672.0" r="2.6" fill="#222"/><circle cx="2499.1" cy="2667.0" r="2.2" fill="#fff"/><circle cx="2495.1" cy="2677.0" r="2.2" fill="#fff"/><circle cx="2505.7" cy="2683.0" r="2.6" fill="#222"/><circle cx="2507.7" cy="2678.0" r="2.2" fill="#fff"/><circle cx="2503.7" cy="2688.0" r="2.2" fill="#fff"/><circle cx="2514.3" cy="2682.0" r="2.6" fill="#222"/><circle cx="2516.3" cy="2677.0" r="2.2" fill="#fff"/><circle cx="2512.3" cy="2687.0" r="2.2" fill="#fff"/><circle cx="2522.9" cy="2693.0" r="2.6" fill="#222"/><circle cx="2524.9" cy="2688.0" r="2.2" fill="#fff"/><circle cx="2520.9" cy="2698.0" r="2.2" fill="#fff"/><circle cx="2531.4" cy="2692.0" r="2.6" fill="#222"/><circle cx="2533.4" cy="2687.0" r="2.2" fill="#fff"/><circle cx="2529.4" cy="2697.0" r="2.2" fill="#fff"/><circle cx="2540.0" cy="2703.0" r="2.6" fill="#222"/><circle cx="2542.0" cy="2698.0" r="2.2" fill="#fff"/><circle cx="2538.0" cy="2708.0" r="2.2" fill="#fff"/><circle cx="2690.0" cy="2657.0" r="2.6" fill="#222"/><circle cx="2692.0" cy="2652.0" r="2.2" fill="#fff"/><circle cx="2688.0" cy="2662.0" r="2.2" fill="#fff"/><circle cx="2699.2" cy="2661.5" r="2.6" fill="#222"/><circle cx="2701.2" cy="2656.5" r="2.2" fill="#fff"/><circle cx="2697.2" cy="2666.5" r="2.2" fill="#fff"/><circle cx="2708.3" cy="2654.0" r="2.6" fill="#222"/><circle cx="2710.3" cy="2649.0" r="2.2" fill="#fff"/><circle cx="2706.3" cy="2659.0" r="2.2" fill="#fff"/><circle cx="2717.5" cy="2658.5" r="2.6" fill="#222"/><circle cx="2719.5" cy="2653.5" r="2.2" fill="#fff"/><circle cx="2715.5" cy="2663.5" r="2.2" fill="#fff"/><circle cx="2726.7" cy="2651.0" r="2.6" fill="#222"/><circle cx="2728.7" cy="2646.0" r="2.2" fill="#fff"/><circle cx="2724.7" cy="2656.0" r="2.2" fill="#fff"/><circle cx="2735.8" cy="2655.5" r="2.6" fill="#222"/><circle cx="2737.8" cy="2650.5" r="2.2" fill="#fff"/><circle cx="2733.8" cy="2660.5" r="2.2" fill="#fff"/><circle cx="2745.0" cy="2648.0" r="2.6" fill="#222"/><circle cx="2747.0" cy="2643.0" r="2.2" fill="#fff"/><circle cx="2743.0" cy="2653.0" r="2.2" fill="#fff"/><circle cx="2754.2" cy="2652.5" r="2.6" fill="#222"/><circle cx="2756.2" cy="2647.5" r="2.2" fill="#fff"/><circle cx="2752.2" cy="2657.5" r="2.2" fill="#fff"/><circle cx="2763.3" cy="2645.0" r="2.6" fill="#222"/><circle cx="2765.3" cy="2640.0" r="2.2" fill="#fff"/><circle cx="2761.3" cy="2650.0" r="2.2" fill="#fff"/><circle cx="2772.5" cy="2649.5" r="2.6" fill="#222"/><circle cx="2774.5" cy="2644.5" r="2.2" fill="#fff"/><circle cx="2770.5" cy="2654.5" r="2.2" fill="#fff"/><circle cx="2781.7" cy="2642.0" r="2.6" fill="#222"/><circle cx="2783.7" cy="2637.0" r="2.2" fill="#fff"/><circle cx="2779.7" cy="2647.0" r="2.2" fill="#fff"/><circle cx="2790.8" cy="2646.5" r="2.6" fill="#222"/><circle cx="2792.8" cy="2641.5" r="2.2" fill="#fff"/><circle cx="2788.8" cy="2651.5" r="2.2" fill="#fff"/><circle cx="2800.0" cy="2639.0" r="2.6" fill="#222"/><circle cx="2802.0" cy="2634.0" r="2.2" fill="#fff"/><circle cx="2798.0" cy="2644.0" r="2.2" fill="#fff"/><circle cx="2590.0" cy="2705.0" r="2.6" fill="#222"/><circle cx="2592.0" cy="2700.0" r="2.2" fill="#fff"/><circle cx="2588.0" cy="2710.0" r="2.2" fill="#fff"/><circle cx="2599.3" cy="2710.9" r="2.6" fill="#222"/><circle cx="2601.3" cy="2705.9" r="2.2" fill="#fff"/><circle cx="2597.3" cy="2715.9" r="2.2" fill="#fff"/><circle cx="2608.7" cy="2704.7" r="2.6" fill="#222"/><circle cx="2610.7" cy="2699.7" r="2.2" fill="#fff"/><circle cx="2606.7" cy="2709.7" r="2.2" fill="#fff"/><circle cx="2618.0" cy="2710.6" r="2.6" fill="#222"/><circle cx="2620.0" cy="2705.6" r="2.2" fill="#fff"/><circle cx="2616.0" cy="2715.6" r="2.2" fill="#fff"/><circle cx="2627.3" cy="2704.5" r="2.6" fill="#222"/><circle cx="2629.3" cy="2699.5" r="2.2" fill="#fff"/><circle cx="2625.3" cy="2709.5" r="2.2" fill="#fff"/><circle cx="2636.7" cy="2710.3" r="2.6" fill="#222"/><circle cx="2638.7" cy="2705.3" r="2.2" fill="#fff"/><circle cx="2634.7" cy="2715.3" r="2.2" fill="#fff"/><circle cx="2646.0" cy="2704.2" r="2.6" fill="#222"/><circle cx="2648.0" cy="2699.2" r="2.2" fill="#fff"/><circle cx="2644.0" cy="2709.2" r="2.2" fill="#fff"/><circle cx="2655.3" cy="2710.1" r="2.6" fill="#222"/><circle cx="2657.3" cy="2705.1" r="2.2" fill="#fff"/><circle cx="2653.3" cy="2715.1" r="2.2" fill="#fff"/><circle cx="2664.7" cy="2703.9" r="2.6" fill="#222"/><circle cx="2666.7" cy="2698.9" r="2.2" fill="#fff"/><circle cx="2662.7" cy="2708.9" r="2.2" fill="#fff"/><circle cx="2674.0" cy="2709.8" r="2.6" fill="#222"/><circle cx="2676.0" cy="2704.8" r="2.2" fill="#fff"/><circle cx="2672.0" cy="2714.8" r="2.2" fill="#fff"/><circle cx="2683.3" cy="2703.7" r="2.6" fill="#222"/><circle cx="2685.3" cy="2698.7" r="2.2" fill="#fff"/><circle cx="2681.3" cy="2708.7" r="2.2" fill="#fff"/><circle cx="2692.7" cy="2709.5" r="2.6" fill="#222"/><circle cx="2694.7" cy="2704.5" r="2.2" fill="#fff"/><circle cx="2690.7" cy="2714.5" r="2.2" fill="#fff"/><circle cx="2702.0" cy="2703.4" r="2.6" fill="#222"/><circle cx="2704.0" cy="2698.4" r="2.2" fill="#fff"/><circle cx="2700.0" cy="2708.4" r="2.2" fill="#fff"/><circle cx="2711.3" cy="2709.3" r="2.6" fill="#222"/><circle cx="2713.3" cy="2704.3" r="2.2" fill="#fff"/><circle cx="2709.3" cy="2714.3" r="2.2" fill="#fff"/><circle cx="2720.7" cy="2703.1" r="2.6" fill="#222"/><circle cx="2722.7" cy="2698.1" r="2.2" fill="#fff"/><circle cx="2718.7" cy="2708.1" r="2.2" fill="#fff"/><circle cx="2730.0" cy="2709.0" r="2.6" fill="#222"/><circle cx="2732.0" cy="2704.0" r="2.2" fill="#fff"/><circle cx="2728.0" cy="2714.0" r="2.2" fill="#fff"/><circle cx="2471" cy="2694" r="3.5" fill="#E8E040"/><circle cx="2687" cy="2661" r="3.5" fill="#E8E040"/><circle cx="2503" cy="2663" r="3.5" fill="#3050D0"/><circle cx="2326" cy="2699" r="3" fill="#3050D0"/></svg>
<div style="position:absolute;box-sizing:border-box;left:1097.0px;top:3225.5px;width:1083.0px;height:137.5px;background:#fff;border:6px solid #7F7F7F;border-radius:3px;"></div>
<div class="t" style="left:1329.7px;top:3239.0px;font-family:'Liberation Sans', sans-serif;font-size:35px;font-weight:bold;color:#000;transform:scaleX(0.8993);">Yield Comparison batch-to-batch vs. CFS</div>
<div class="t" style="left:1162.8px;top:3283.0px;font-family:'Liberation Sans', sans-serif;font-size:29.5px;color:#000;transform:scaleX(0.9631);"><b>CFS</b> gives rise to a maximum <b>yield closes to 18 %</b>, at 11 mL·min<sup>-1</sup>, which is</div>
<div class="t" style="left:1127.0px;top:3320.9px;font-family:'Liberation Sans', sans-serif;font-size:29.5px;color:#000;transform:scaleX(1.0049);">significantly higher than the best yield obtained with the <b>batch method (12 %)</b>.</div>
<div class="t" style="left:322.6px;top:3359.0px;font-family:'Liberation Sans', sans-serif;font-size:52px;font-weight:bold;color:#6FFCCF;transform:scaleX(0.9890);">AFM</div>
<div class="t" style="left:909.7px;top:3353.0px;font-family:'Liberation Sans', sans-serif;font-size:52px;font-weight:bold;color:#6FFCCF;transform:scaleX(0.9504);">Raman</div>
<div class="t" style="left:2208.0px;top:3359.6px;font-family:'Liberation Sans', sans-serif;font-size:52px;font-weight:bold;color:#F96B0C;transform:scaleX(0.9810);">AFM</div>
<div class="t" style="left:2752.0px;top:3369.7px;font-family:'Liberation Sans', sans-serif;font-size:53px;font-weight:bold;color:#F96B0C;transform:scaleX(0.9364);">Raman</div>
<div style="position:absolute;box-sizing:border-box;left:93.6px;top:3956.4px;width:1225.4px;height:103.3px;background:#fff;border:4px solid #6FFCCF;border-radius:2px;"></div>
<div class="t" style="left:105.6px;top:3969.6px;font-family:'Liberation Sans', sans-serif;font-size:33.5px;color:#000;word-spacing:4.950px;transform:scaleX(1.0038);"><b>AFM</b> picture (left) and <b>Raman</b> (right) picture of a pure and thin Sb hexagonal</div>
<div class="t" style="left:105.6px;top:4013.6px;font-family:'Liberation Sans', sans-serif;font-size:33.5px;color:#000;transform:scaleX(1.0038);">nanosheet obtained by <b>batch-to-batch synthesis.</b></div>
<div style="position:absolute;box-sizing:border-box;left:1884.4px;top:3954.4px;width:1224.8px;height:101.5px;background:#fff;border:4px solid #F96B0C;border-radius:2px;"></div>
<div class="t" style="left:1896.5px;top:3966.6px;font-family:'Liberation Sans', sans-serif;font-size:33.5px;color:#000;word-spacing:4.870px;transform:scaleX(1.0038);"><b>AFM</b> picture (left) and <b>Raman</b> (right) picture of a pure and thin Sb hexagonal</div>
<div class="t" style="left:1896.5px;top:4011.2px;font-family:'Liberation Sans', sans-serif;font-size:33.5px;color:#000;transform:scaleX(1.0038);">nanosheet obtained by <b>continuous-flow synthesis.</b></div>
<svg style="position:absolute;left:0;top:0;overflow:visible;" width="3179" height="4494" viewBox="0 0 3179 4494"><defs><radialGradient id="afbg" cx="0.5" cy="0.45" r="0.8"><stop offset="0" stop-color="#4A1A08"/><stop offset="0.6" stop-color="#3A1206"/><stop offset="1" stop-color="#2A0C04"/></radialGradient><linearGradient id="cbar" x1="0" y1="0" x2="0" y2="1"><stop offset="0" stop-color="#FFFFFF"/><stop offset="0.12" stop-color="#FBE6B0"/><stop offset="0.3" stop-color="#F2B052"/><stop offset="0.5" stop-color="#C86A22"/><stop offset="0.68" stop-color="#A03414"/><stop offset="0.85" stop-color="#5A1808"/><stop offset="1" stop-color="#000"/></linearGradient><clipPath id="afc"><rect x="126" y="3454.5" width="483.7" height="458.1"/></clipPath></defs><rect x="126" y="3454.5" width="483.7" height="458.1" fill="url(#afbg)"/><g clip-path="url(#afc)"><g transform="translate(100,3340) scale(0.38177)"><polygon points="385,680 590,535 700,545 720,470 765,505 840,500 1110,640 1105,1060 770,1260 400,1090" fill="#B4521B"/><polygon points="420,700 600,570 840,540 1075,660 1070,1040 770,1215 435,1065" fill="#BA581D" opacity="0.6"/><circle cx="643" cy="971" r="3" fill="#E89A48"/><circle cx="712" cy="1004" r="2" fill="#E89A48"/><circle cx="866" cy="1249" r="2" fill="#E89A48"/><circle cx="456" cy="413" r="2" fill="#E89A48"/><circle cx="1286" cy="1083" r="4" fill="#D97A30"/><circle cx="857" cy="1295" r="2" fill="#C0541C"/><circle cx="120" cy="1352" r="4" fill="#C0541C"/><circle cx="1052" cy="693" r="4" fill="#D97A30"/><circle cx="727" cy="1067" r="3" fill="#C0541C"/><circle cx="906" cy="849" r="3" fill="#E89A48"/><circle cx="1327" cy="1490" r="2" fill="#A8481A"/><circle cx="471" cy="578" r="3" fill="#C0541C"/><circle cx="163" cy="1217" r="3" fill="#C0541C"/><circle cx="1137" cy="765" r="2" fill="#C0541C"/><circle cx="343" cy="1408" r="2" fill="#E89A48"/><circle cx="546" cy="1149" r="3" fill="#C0541C"/><circle cx="786" cy="541" r="3" fill="#A8481A"/><circle cx="184" cy="701" r="3" fill="#C0541C"/><circle cx="244" cy="1146" r="2" fill="#C0541C"/><circle cx="658" cy="884" r="4" fill="#D97A30"/><circle cx="637" cy="532" r="2" fill="#E89A48"/><circle cx="883" cy="444" r="3" fill="#D97A30"/><circle cx="76" cy="1334" r="4" fill="#A8481A"/><circle cx="1327" cy="328" r="2" fill="#E89A48"/><circle cx="1325" cy="1021" r="4" fill="#C0541C"/><circle cx="128" cy="479" r="3" fill="#A8481A"/><circle cx="87" cy="1031" r="3" fill="#E89A48"/><circle cx="167" cy="412" r="4" fill="#D97A30"/><circle cx="94" cy="744" r="4" fill="#E89A48"/><circle cx="235" cy="1004" r="4" fill="#D97A30"/><circle cx="1162" cy="523" r="2" fill="#A8481A"/><circle cx="1215" cy="1278" r="2" fill="#D97A30"/><circle cx="274" cy="1053" r="4" fill="#D97A30"/><circle cx="937" cy="767" r="3" fill="#C0541C"/><circle cx="604" cy="429" r="2" fill="#A8481A"/><circle cx="374" cy="1143" r="3" fill="#E89A48"/><circle cx="1109" cy="1015" r="3" fill="#D97A30"/><circle cx="1241" cy="1468" r="2" fill="#D97A30"/><circle cx="677" cy="1083" r="4" fill="#C0541C"/><circle cx="427" cy="1397" r="2" fill="#C0541C"/><circle cx="162" cy="795" r="2" fill="#C0541C"/><circle cx="133" cy="641" r="4" fill="#D97A30"/><circle cx="191" cy="470" r="3" fill="#A8481A"/><circle cx="899" cy="1128" r="4" fill="#D97A30"/><circle cx="815" cy="1404" r="3" fill="#A8481A"/><circle cx="955" cy="1451" r="2" fill="#C0541C"/><circle cx="680" cy="1174" r="3" fill="#D97A30"/><circle cx="1329" cy="395" r="4" fill="#A8481A"/><circle cx="1000" cy="1376" r="2" fill="#A8481A"/><circle cx="517" cy="1120" r="2" fill="#E89A48"/><circle cx="1260" cy="341" r="3" fill="#C0541C"/><circle cx="859" cy="760" r="4" fill="#C0541C"/><circle cx="839" cy="400" r="2" fill="#A8481A"/><circle cx="1179" cy="1172" r="3" fill="#E89A48"/><circle cx="628" cy="1303" r="2" fill="#C0541C"/><circle cx="464" cy="409" r="2" fill="#D97A30"/><circle cx="1277" cy="439" r="4" fill="#E89A48"/><circle cx="396" cy="318" r="3" fill="#D97A30"/><circle cx="926" cy="546" r="2" fill="#A8481A"/><circle cx="903" cy="831" r="2" fill="#A8481A"/><circle cx="583" cy="603" r="3" fill="#D97A30"/><circle cx="1180" cy="762" r="4" fill="#A8481A"/><circle cx="338" cy="465" r="3" fill="#C0541C"/><circle cx="968" cy="1436" r="3" fill="#D97A30"/><circle cx="217" cy="866" r="2" fill="#E89A48"/><circle cx="555" cy="924" r="3" fill="#E89A48"/><circle cx="477" cy="1291" r="3" fill="#C0541C"/><circle cx="926" cy="639" r="3" fill="#A8481A"/><circle cx="890" cy="976" r="2" fill="#E89A48"/><circle cx="646" cy="334" r="3" fill="#D97A30"/><circle cx="1053" cy="1253" r="2" fill="#E89A48"/><circle cx="212" cy="942" r="3" fill="#C0541C"/><circle cx="934" cy="542" r="3" fill="#A8481A"/><circle cx="299" cy="318" r="3" fill="#C0541C"/><circle cx="300" cy="629" r="3" fill="#D97A30"/><circle cx="569" cy="1247" r="2" fill="#C0541C"/><circle cx="590" cy="1367" r="3" fill="#D97A30"/><circle cx="640" cy="539" r="2" fill="#E89A48"/><circle cx="765" cy="1082" r="4" fill="#A8481A"/><circle cx="657" cy="1080" r="2" fill="#C0541C"/><circle cx="981" cy="1279" r="2" fill="#D97A30"/><circle cx="379" cy="769" r="2" fill="#A8481A"/><circle cx="749" cy="1246" r="3" fill="#A8481A"/><circle cx="1217" cy="1323" r="3" fill="#C0541C"/><circle cx="122" cy="712" r="3" fill="#A8481A"/><circle cx="687" cy="339" r="2" fill="#E89A48"/><circle cx="1079" cy="511" r="3" fill="#D97A30"/><circle cx="666" cy="1495" r="4" fill="#E89A48"/><circle cx="1262" cy="891" r="2" fill="#D97A30"/><circle cx="626" cy="970" r="4" fill="#D97A30"/><circle cx="731" cy="1309" r="4" fill="#A8481A"/><circle cx="466" cy="759" r="4" fill="#D97A30"/><circle cx="457" cy="473" r="4" fill="#A8481A"/><circle cx="794" cy="544" r="4" fill="#C0541C"/><circle cx="706" cy="1025" r="2" fill="#C0541C"/><circle cx="723" cy="782" r="4" fill="#C0541C"/><circle cx="691" cy="1127" r="2" fill="#E89A48"/><circle cx="594" cy="1444" r="3" fill="#A8481A"/><circle cx="384" cy="892" r="3" fill="#E89A48"/><circle cx="1206" cy="1418" r="3" fill="#A8481A"/><circle cx="211" cy="804" r="2" fill="#A8481A"/><circle cx="237" cy="1232" r="2" fill="#C0541C"/><circle cx="319" cy="575" r="3" fill="#A8481A"/><circle cx="983" cy="596" r="3" fill="#C0541C"/><circle cx="702" cy="998" r="4" fill="#A8481A"/><circle cx="976" cy="1140" r="3" fill="#C0541C"/><circle cx="547" cy="797" r="4" fill="#D97A30"/><circle cx="750" cy="1333" r="4" fill="#D97A30"/><circle cx="740" cy="1318" r="4" fill="#D97A30"/><circle cx="367" cy="1187" r="3" fill="#D97A30"/><circle cx="471" cy="680" r="2" fill="#D97A30"/><circle cx="1052" cy="537" r="2" fill="#D97A30"/><circle cx="1191" cy="463" r="2" fill="#A8481A"/><circle cx="562" cy="822" r="3" fill="#D97A30"/><circle cx="327" cy="1052" r="2" fill="#C0541C"/><circle cx="327" cy="1117" r="3" fill="#C0541C"/><circle cx="959" cy="1060" r="3" fill="#D97A30"/><circle cx="1083" cy="879" r="2" fill="#C0541C"/><circle cx="1031" cy="1035" r="4" fill="#E89A48"/><circle cx="259" cy="525" r="2" fill="#D97A30"/><circle cx="1129" cy="1483" r="2" fill="#C0541C"/><circle cx="244" cy="1115" r="2" fill="#C0541C"/><circle cx="485" cy="861" r="4" fill="#A8481A"/><circle cx="615" cy="1020" r="2" fill="#C0541C"/><circle cx="1135" cy="521" r="3" fill="#A8481A"/><circle cx="1003" cy="787" r="2" fill="#D97A30"/><circle cx="194" cy="1248" r="3" fill="#C0541C"/><circle cx="1081" cy="1144" r="3" fill="#D97A30"/><circle cx="708" cy="1474" r="3" fill="#A8481A"/><circle cx="1219" cy="1191" r="2" fill="#E89A48"/><circle cx="242" cy="698" r="4" fill="#A8481A"/><circle cx="1038" cy="1216" r="3" fill="#D97A30"/><circle cx="982" cy="389" r="3" fill="#A8481A"/><circle cx="663" cy="318" r="3" fill="#C0541C"/><circle cx="366" cy="1429" r="3" fill="#A8481A"/><circle cx="346" cy="788" r="2" fill="#C0541C"/><circle cx="564" cy="1495" r="2" fill="#C0541C"/><circle cx="1031" cy="1471" r="2" fill="#C0541C"/><circle cx="847" cy="1184" r="3" fill="#E89A48"/><circle cx="579" cy="365" r="2" fill="#E89A48"/><circle cx="89" cy="613" r="3" fill="#A8481A"/><circle cx="765" cy="909" r="4" fill="#C0541C"/><circle cx="876" cy="1268" r="2" fill="#C0541C"/><circle cx="560" cy="1422" r="3" fill="#E89A48"/><circle cx="1292" cy="1323" r="4" fill="#C0541C"/><circle cx="614" cy="893" r="3" fill="#E89A48"/><circle cx="825" cy="740" r="3" fill="#E89A48"/><circle cx="897" cy="972" r="3" fill="#A8481A"/><circle cx="109" cy="1224" r="4" fill="#C0541C"/><circle cx="869" cy="791" r="3" fill="#C0541C"/><circle cx="1201" cy="1196" r="2" fill="#A8481A"/><circle cx="167" cy="1383" r="3" fill="#E89A48"/><circle cx="390" cy="1204" r="2" fill="#C0541C"/><circle cx="1251" cy="1165" r="3" fill="#D97A30"/><circle cx="1303" cy="1277" r="4" fill="#C0541C"/><circle cx="138" cy="801" r="2" fill="#D97A30"/><circle cx="1156" cy="729" r="2" fill="#C0541C"/><circle cx="531" cy="471" r="3" fill="#E89A48"/><circle cx="829" cy="1066" r="3" fill="#A8481A"/><circle cx="1051" cy="937" r="2" fill="#A8481A"/><circle cx="997" cy="589" r="2" fill="#A8481A"/><circle cx="1059" cy="1049" r="3" fill="#A8481A"/><circle cx="416" cy="1120" r="4" fill="#D97A30"/><circle cx="870" cy="1201" r="2" fill="#D97A30"/><circle cx="705" cy="1082" r="2" fill="#C0541C"/><circle cx="864" cy="316" r="3" fill="#E89A48"/><circle cx="109" cy="350" r="2" fill="#A8481A"/><circle cx="166" cy="408" r="2" fill="#D97A30"/><circle cx="867" cy="749" r="3" fill="#A8481A"/><circle cx="339" cy="714" r="2" fill="#C0541C"/><circle cx="1082" cy="837" r="4" fill="#D97A30"/><circle cx="633" cy="1194" r="3" fill="#D97A30"/><circle cx="538" cy="1083" r="4" fill="#A8481A"/><circle cx="440" cy="1208" r="2" fill="#E89A48"/><circle cx="896" cy="996" r="3" fill="#A8481A"/><circle cx="174" cy="404" r="4" fill="#E89A48"/><circle cx="1098" cy="857" r="2" fill="#C0541C"/><circle cx="464" cy="1389" r="4" fill="#C0541C"/><circle cx="947" cy="894" r="3" fill="#A8481A"/><circle cx="1182" cy="565" r="3" fill="#A8481A"/><circle cx="1212" cy="689" r="3" fill="#A8481A"/><circle cx="625" cy="1261" r="3" fill="#E89A48"/><circle cx="474" cy="781" r="4" fill="#D97A30"/><circle cx="181" cy="1291" r="2" fill="#A8481A"/><circle cx="925" cy="1001" r="2" fill="#A8481A"/><circle cx="1075" cy="948" r="4" fill="#D97A30"/><circle cx="297" cy="1208" r="3" fill="#C0541C"/><circle cx="353" cy="374" r="2" fill="#A8481A"/><circle cx="1288" cy="1080" r="3" fill="#C0541C"/><circle cx="805" cy="669" r="4" fill="#C0541C"/><circle cx="495" cy="631" r="2" fill="#A8481A"/><circle cx="181" cy="1060" r="2" fill="#C0541C"/><circle cx="1011" cy="1077" r="2" fill="#D97A30"/><circle cx="689" cy="1385" r="3" fill="#E89A48"/><circle cx="570" cy="707" r="3" fill="#D97A30"/><circle cx="695" cy="944" r="2" fill="#C0541C"/><circle cx="590" cy="1288" r="3" fill="#C0541C"/><circle cx="1086" cy="1297" r="3" fill="#C0541C"/><circle cx="732" cy="1150" r="2" fill="#E89A48"/><circle cx="1234" cy="1395" r="2" fill="#D97A30"/><circle cx="1319" cy="752" r="2" fill="#A8481A"/><circle cx="331" cy="811" r="3" fill="#A8481A"/><circle cx="1292" cy="375" r="3" fill="#C0541C"/><circle cx="456" cy="490" r="2" fill="#C0541C"/><circle cx="1020" cy="325" r="3" fill="#C0541C"/><circle cx="467" cy="540" r="3" fill="#D97A30"/><circle cx="813" cy="1019" r="3" fill="#D97A30"/><circle cx="630" cy="1369" r="3" fill="#D97A30"/><circle cx="1218" cy="1420" r="4" fill="#E89A48"/><circle cx="1146" cy="882" r="3" fill="#A8481A"/><circle cx="904" cy="1223" r="2" fill="#E89A48"/><circle cx="1158" cy="780" r="2" fill="#D97A30"/><circle cx="1081" cy="763" r="4" fill="#A8481A"/><circle cx="1064" cy="374" r="2" fill="#C0541C"/><circle cx="1172" cy="1382" r="3" fill="#D97A30"/><circle cx="970" cy="1026" r="2" fill="#E89A48"/><circle cx="272" cy="688" r="3" fill="#D97A30"/><circle cx="874" cy="1487" r="3" fill="#C0541C"/><circle cx="264" cy="1222" r="2" fill="#D97A30"/><circle cx="1106" cy="1312" r="2" fill="#C0541C"/><circle cx="516" cy="1037" r="4" fill="#C0541C"/><circle cx="1192" cy="1130" r="2" fill="#A8481A"/><circle cx="99" cy="528" r="2" fill="#C0541C"/><circle cx="1056" cy="829" r="2" fill="#E89A48"/><circle cx="735" cy="492" r="3" fill="#A8481A"/><circle cx="465" cy="395" r="3" fill="#E89A48"/><circle cx="912" cy="385" r="2" fill="#D97A30"/><circle cx="208" cy="774" r="3" fill="#C0541C"/><circle cx="896" cy="320" r="3" fill="#E89A48"/><circle cx="373" cy="976" r="3" fill="#C0541C"/><circle cx="1149" cy="1310" r="2" fill="#D97A30"/><circle cx="439" cy="752" r="4" fill="#A8481A"/><circle cx="1272" cy="1203" r="4" fill="#C0541C"/><circle cx="397" cy="543" r="2" fill="#A8481A"/><circle cx="464" cy="631" r="3" fill="#A8481A"/><circle cx="636" cy="760" r="2" fill="#D97A30"/><circle cx="855" cy="461" r="2" fill="#D97A30"/><circle cx="317" cy="348" r="3" fill="#C0541C"/><circle cx="201" cy="344" r="2" fill="#E89A48"/><circle cx="586" cy="391" r="3" fill="#D97A30"/><circle cx="887" cy="1218" r="3" fill="#E89A48"/><circle cx="491" cy="795" r="2" fill="#E89A48"/><circle cx="844" cy="683" r="2" fill="#C0541C"/><circle cx="402" cy="530" r="3" fill="#E89A48"/><circle cx="208" cy="754" r="4" fill="#A8481A"/><circle cx="1065" cy="1287" r="4" fill="#D97A30"/><circle cx="394" cy="946" r="3" fill="#D97A30"/><circle cx="517" cy="900" r="2" fill="#D97A30"/><circle cx="1313" cy="919" r="2" fill="#C0541C"/><circle cx="862" cy="541" r="2" fill="#D97A30"/><circle cx="382" cy="991" r="3" fill="#A8481A"/><circle cx="190" cy="1343" r="3" fill="#E89A48"/><circle cx="1183" cy="843" r="2" fill="#D97A30"/><circle cx="1210" cy="952" r="4" fill="#C0541C"/><circle cx="778" cy="620" r="3" fill="#D97A30"/><circle cx="229" cy="1286" r="3" fill="#A8481A"/><circle cx="377" cy="988" r="2" fill="#D97A30"/><circle cx="825" cy="1270" r="3" fill="#C0541C"/><circle cx="581" cy="1236" r="2" fill="#A8481A"/><circle cx="1024" cy="1313" r="3" fill="#C0541C"/><circle cx="511" cy="836" r="2" fill="#FFD890"/><circle cx="770" cy="639" r="4" fill="#FFD890"/><circle cx="635" cy="648" r="3" fill="#E8984A"/><circle cx="682" cy="893" r="2" fill="#FFF0C0"/><circle cx="642" cy="1161" r="5" fill="#FFF0C0"/><circle cx="926" cy="885" r="4" fill="#FFF0C0"/><circle cx="978" cy="639" r="2" fill="#E8984A"/><circle cx="768" cy="850" r="2" fill="#E8984A"/><circle cx="1035" cy="758" r="5" fill="#FFF0C0"/><circle cx="912" cy="960" r="3" fill="#F0B060"/><circle cx="571" cy="1126" r="3" fill="#FFF0C0"/><circle cx="1081" cy="879" r="2" fill="#FFD890"/><circle cx="781" cy="1000" r="3" fill="#F0B060"/><circle cx="1099" cy="1050" r="3" fill="#FFF0C0"/><circle cx="795" cy="670" r="4" fill="#F0B060"/><circle cx="487" cy="920" r="4" fill="#F0B060"/><circle cx="607" cy="1048" r="2" fill="#E8984A"/><circle cx="520" cy="855" r="4" fill="#FFF0C0"/><circle cx="499" cy="1024" r="3" fill="#F0B060"/><circle cx="614" cy="865" r="3" fill="#E8984A"/><circle cx="627" cy="656" r="4" fill="#FFD890"/><circle cx="541" cy="984" r="3" fill="#F0B060"/><circle cx="855" cy="765" r="3" fill="#E8984A"/><circle cx="1009" cy="1038" r="3" fill="#E8984A"/><circle cx="887" cy="1188" r="4" fill="#FFF0C0"/><circle cx="455" cy="710" r="3" fill="#F0B060"/><circle cx="897" cy="692" r="3" fill="#FFD890"/><circle cx="751" cy="758" r="3" fill="#E8984A"/><circle cx="963" cy="911" r="2" fill="#FFD890"/><circle cx="867" cy="745" r="2" fill="#FFF0C0"/><circle cx="1088" cy="855" r="5" fill="#F0B060"/><circle cx="772" cy="590" r="5" fill="#E8984A"/><circle cx="776" cy="844" r="5" fill="#F0B060"/><circle cx="572" cy="747" r="5" fill="#F0B060"/><circle cx="835" cy="1174" r="5" fill="#FFF0C0"/><circle cx="526" cy="933" r="3" fill="#E8984A"/><circle cx="861" cy="1085" r="5" fill="#E8984A"/><circle cx="754" cy="1126" r="5" fill="#FFD890"/><circle cx="816" cy="1077" r="2" fill="#FFF0C0"/><circle cx="565" cy="855" r="3" fill="#FFD890"/><circle cx="582" cy="925" r="5" fill="#FFF0C0"/><circle cx="583" cy="696" r="2" fill="#FFF0C0"/><circle cx="826" cy="968" r="4" fill="#FFF0C0"/><circle cx="906" cy="1134" r="2" fill="#F0B060"/><circle cx="806" cy="1044" r="5" fill="#FFD890"/><circle cx="438" cy="845" r="3" fill="#E8984A"/><circle cx="936" cy="894" r="5" fill="#FFD890"/><circle cx="665" cy="726" r="4" fill="#FFF0C0"/><circle cx="443" cy="835" r="3" fill="#FFD890"/><circle cx="893" cy="1201" r="3" fill="#FFF0C0"/><circle cx="929" cy="963" r="3" fill="#FFD890"/><circle cx="921" cy="910" r="2" fill="#F0B060"/><circle cx="568" cy="1156" r="3" fill="#F0B060"/><circle cx="675" cy="760" r="4" fill="#F0B060"/><circle cx="1080" cy="1016" r="5" fill="#FFD890"/><circle cx="607" cy="640" r="3" fill="#FFF0C0"/><circle cx="723" cy="1185" r="3" fill="#E8984A"/><circle cx="636" cy="1217" r="5" fill="#FFD890"/><circle cx="428" cy="830" r="2" fill="#E8984A"/><circle cx="797" cy="1171" r="5" fill="#FFD890"/><circle cx="724" cy="823" r="3" fill="#FFF0C0"/><circle cx="665" cy="593" r="4" fill="#E8984A"/><circle cx="573" cy="1091" r="3" fill="#FFF0C0"/><circle cx="543" cy="704" r="4" fill="#E8984A"/><circle cx="731" cy="888" r="3" fill="#FFF0C0"/><circle cx="543" cy="817" r="2" fill="#F0B060"/><circle cx="884" cy="803" r="3" fill="#F0B060"/><circle cx="763" cy="1057" r="5" fill="#FFF0C0"/><circle cx="797" cy="995" r="3" fill="#E8984A"/><circle cx="496" cy="721" r="2" fill="#F0B060"/><circle cx="579" cy="1149" r="2" fill="#E8984A"/><circle cx="676" cy="720" r="2" fill="#FFD890"/><circle cx="506" cy="959" r="2" fill="#FFD890"/><circle cx="619" cy="844" r="5" fill="#FFD890"/><circle cx="762" cy="927" r="3" fill="#FFF0C0"/><circle cx="866" cy="659" r="3" fill="#E8984A"/><circle cx="774" cy="861" r="3" fill="#FFF0C0"/><circle cx="762" cy="798" r="2" fill="#E8984A"/><circle cx="659" cy="970" r="3" fill="#F0B060"/><circle cx="994" cy="1061" r="4" fill="#F0B060"/><circle cx="862" cy="605" r="3" fill="#E8984A"/><circle cx="867" cy="1200" r="3" fill="#FFD890"/><circle cx="948" cy="734" r="4" fill="#F0B060"/><circle cx="675" cy="600" r="4" fill="#E8984A"/><circle cx="599" cy="1031" r="3" fill="#FFD890"/><circle cx="646" cy="1037" r="5" fill="#F0B060"/><circle cx="920" cy="1168" r="3" fill="#FFF0C0"/><circle cx="808" cy="1030" r="5" fill="#E8984A"/><circle cx="890" cy="575" r="4" fill="#F0B060"/><circle cx="655" cy="602" r="4" fill="#E8984A"/><circle cx="438" cy="892" r="5" fill="#E8984A"/><circle cx="728" cy="778" r="3" fill="#F0B060"/><circle cx="416" cy="793" r="3" fill="#E8984A"/><circle cx="583" cy="1008" r="3" fill="#FFF0C0"/><circle cx="669" cy="789" r="3" fill="#F0B060"/><circle cx="803" cy="1191" r="2" fill="#F0B060"/><circle cx="835" cy="835" r="4" fill="#F0B060"/><circle cx="593" cy="1116" r="4" fill="#FFF0C0"/><circle cx="1076" cy="818" r="3" fill="#E8984A"/><circle cx="616" cy="801" r="2" fill="#FFD890"/><circle cx="824" cy="741" r="3" fill="#FFD890"/><circle cx="564" cy="561" r="5" fill="#FFF0C0"/><circle cx="402" cy="926" r="5" fill="#F0B060"/><circle cx="837" cy="936" r="3" fill="#E8984A"/><circle cx="643" cy="1154" r="3" fill="#FFD890"/><circle cx="887" cy="1020" r="3" fill="#FFD890"/><circle cx="512" cy="976" r="4" fill="#E8984A"/><circle cx="659" cy="751" r="5" fill="#FFF0C0"/><circle cx="566" cy="727" r="3" fill="#FFD890"/><circle cx="1042" cy="1054" r="2" fill="#F0B060"/><circle cx="479" cy="863" r="4" fill="#F0B060"/><circle cx="437" cy="730" r="5" fill="#FFF0C0"/><circle cx="577" cy="985" r="3" fill="#E8984A"/><circle cx="1088" cy="990" r="3" fill="#E8984A"/><circle cx="961" cy="644" r="4" fill="#E8984A"/><circle cx="562" cy="684" r="2" fill="#FFF0C0"/><circle cx="810" cy="1190" r="3" fill="#E8984A"/><circle cx="881" cy="841" r="4" fill="#FFF0C0"/><circle cx="536" cy="799" r="5" fill="#F0B060"/><circle cx="683" cy="1166" r="5" fill="#FFF0C0"/><circle cx="557" cy="1044" r="4" fill="#FFD890"/><circle cx="1087" cy="821" r="3" fill="#E8984A"/><circle cx="960" cy="658" r="3" fill="#F0B060"/><circle cx="789" cy="1161" r="4" fill="#FFF0C0"/><circle cx="484" cy="777" r="2" fill="#E8984A"/><circle cx="796" cy="656" r="4" fill="#E8984A"/><circle cx="626" cy="614" r="3" fill="#E8984A"/><circle cx="786" cy="934" r="3" fill="#F0B060"/><circle cx="405" cy="1070" r="2" fill="#F0B060"/><circle cx="528" cy="884" r="3" fill="#FFF0C0"/><circle cx="739" cy="838" r="5" fill="#FFF0C0"/><circle cx="790" cy="704" r="5" fill="#E8984A"/><circle cx="594" cy="1189" r="3" fill="#FFF0C0"/><circle cx="800" cy="1190" r="2" fill="#FFD890"/><circle cx="417" cy="932" r="2" fill="#FFF0C0"/><circle cx="407" cy="701" r="3" fill="#F0B060"/><circle cx="937" cy="738" r="3" fill="#FFF0C0"/><circle cx="679" cy="1098" r="2" fill="#FFF0C0"/><circle cx="682" cy="1033" r="3" fill="#F0B060"/><circle cx="672" cy="807" r="3" fill="#E8984A"/><circle cx="839" cy="861" r="3" fill="#E8984A"/><circle cx="447" cy="998" r="5" fill="#F0B060"/><circle cx="585" cy="703" r="3" fill="#FFD890"/><circle cx="876" cy="679" r="2" fill="#FFD890"/><circle cx="500" cy="795" r="4" fill="#F0B060"/><circle cx="407" cy="897" r="4" fill="#F0B060"/><circle cx="625" cy="920" r="3" fill="#F0B060"/><circle cx="1016" cy="775" r="5" fill="#F0B060"/><circle cx="805" cy="775" r="4" fill="#FFD890"/><circle cx="750" cy="1083" r="3" fill="#E8984A"/><circle cx="449" cy="821" r="3" fill="#FFD890"/><circle cx="944" cy="912" r="2" fill="#FFD890"/><circle cx="911" cy="1004" r="2" fill="#FFD890"/><circle cx="832" cy="791" r="4" fill="#FFF0C0"/><circle cx="753" cy="940" r="2" fill="#F0B060"/><circle cx="986" cy="1022" r="4" fill="#FFF0C0"/><circle cx="866" cy="841" r="4" fill="#FFD890"/><circle cx="663" cy="923" r="2" fill="#F0B060"/><circle cx="770" cy="863" r="3" fill="#F0B060"/><circle cx="816" cy="1184" r="3" fill="#FFF0C0"/><circle cx="630" cy="732" r="5" fill="#E8984A"/><circle cx="532" cy="874" r="5" fill="#FFF0C0"/><circle cx="576" cy="735" r="3" fill="#F0B060"/><circle cx="898" cy="728" r="3" fill="#FFF0C0"/><circle cx="537" cy="747" r="3" fill="#F0B060"/><circle cx="475" cy="855" r="4" fill="#FFD890"/><circle cx="451" cy="893" r="2" fill="#F0B060"/><circle cx="958" cy="662" r="3" fill="#FFD890"/><circle cx="795" cy="820" r="22" fill="#FFE8A8"/><circle cx="845" cy="865" r="16" fill="#FFE8A8"/><circle cx="560" cy="750" r="9" fill="#FFE8A8"/><circle cx="745" cy="530" r="10" fill="#FFE8A8"/><circle cx="955" cy="1070" r="11" fill="#FFE8A8"/><circle cx="585" cy="1120" r="12" fill="#FFE8A8"/><circle cx="740" cy="1200" r="14" fill="#FFE8A8"/><circle cx="655" cy="958" r="9" fill="#FFE8A8"/><circle cx="545" cy="845" r="8" fill="#FFE8A8"/><circle cx="1222" cy="652" r="6" fill="#FFE8A8"/><circle cx="565" cy="1045" r="10" fill="#FFE8A8"/><polyline points="300,900 306,897 312,896 318,902 324,912 330,912 336,897 342,899 348,903 354,912 360,907 366,913 372,896 378,915 384,899 388,880 392,700 400,620 405,616 410,623 415,618 420,600 425,615 430,607 435,593 440,603 445,602 450,611 455,600 460,609 465,612 470,595 475,593 480,610 485,603 490,470 495,591 500,617 505,606 510,597 515,591 520,617 525,606 530,607 535,595 540,593 545,520 550,520 555,602 560,595 565,607 570,594 575,595 580,596 585,610 590,591 595,602 600,586 605,597 610,587 615,606 620,587 625,605 630,599 635,591 640,607 645,589 650,600 655,595 660,560 665,578 670,589 675,584 680,589 685,605 690,584 695,597 700,596 705,582 710,588 715,490 720,490 725,582 730,588 735,585 740,600 745,601 750,593 755,591 760,577 765,603 770,577 775,545 780,545 785,597 790,596 795,585 800,603 805,605 810,576 815,595 820,590 825,587 830,590 835,586 840,597 845,595 850,607 855,608 860,505 865,505 870,604 875,598 880,600 885,610 890,580 895,593 900,400 905,600 910,586 915,611 920,587 925,592 930,585 935,594 940,605 945,490 950,490 955,603 960,603 965,607 970,592 975,610 980,608 985,610 990,589 995,601 1000,587 1005,614 1010,618 1015,616 1020,589 1025,470 1030,470 1035,607 1040,594 1045,616 1050,601 1055,608 1060,596 1065,611 1070,597 1075,596 1080,610 1085,604 1090,620 1095,603 1100,609 1108,600 1112,880 1118,900 1124,887 1130,891 1136,897 1142,899 1148,897 1154,906 1160,889 1166,906 1172,890" fill="none" stroke="#fff" stroke-width="5" stroke-linejoin="round"/><path d="M652,650 V895" stroke="#fff" stroke-width="5"/><path d="M652,632 L640,662 H664 Z M652,908 L640,878 H664 Z" fill="#fff"/><path d="M420,912 H1085" stroke="#fff" stroke-width="5"/><path d="M398,912 L440,903 V921 Z M1105,912 L1063,903 V921 Z" fill="#fff"/><path d="M330,932 H1215" stroke="#fff" stroke-width="6" stroke-dasharray="28 16"/><rect x="800" y="1432" width="525" height="33" fill="#fff"/></g></g><rect x="126" y="3454.5" width="483.7" height="458.1" fill="none" stroke="#000" stroke-width="1.5"/><rect x="618" y="3454.5" width="15.7" height="458.1" fill="url(#cbar)" stroke="#000" stroke-width="1.2"/><line x1="633.7" y1="3455.5" x2="638" y2="3455.5" stroke="#000" stroke-width="1.2"/><line x1="633.7" y1="3501.1" x2="638" y2="3501.1" stroke="#000" stroke-width="1.2"/><line x1="633.7" y1="3546.7" x2="638" y2="3546.7" stroke="#000" stroke-width="1.2"/><line x1="633.7" y1="3592.2" x2="638" y2="3592.2" stroke="#000" stroke-width="1.2"/><line x1="633.7" y1="3637.8" x2="638" y2="3637.8" stroke="#000" stroke-width="1.2"/><line x1="633.7" y1="3683.4" x2="638" y2="3683.4" stroke="#000" stroke-width="1.2"/><line x1="633.7" y1="3729.0" x2="638" y2="3729.0" stroke="#000" stroke-width="1.2"/><line x1="633.7" y1="3774.6" x2="638" y2="3774.6" stroke="#000" stroke-width="1.2"/><line x1="633.7" y1="3820.1" x2="638" y2="3820.1" stroke="#000" stroke-width="1.2"/><line x1="633.7" y1="3865.7" x2="638" y2="3865.7" stroke="#000" stroke-width="1.2"/><line x1="633.7" y1="3911.3" x2="638" y2="3911.3" stroke="#000" stroke-width="1.2"/></svg>
<div class="t" style="left:649.0px;top:3456.9px;font-family:'Liberation Sans', sans-serif;font-size:12.5px;color:#111;">20.0 nm</div>
<div class="t" style="left:649.0px;top:3494.2px;font-family:'Liberation Sans', sans-serif;font-size:12.5px;color:#111;">18.0</div>
<div class="t" style="left:649.0px;top:3540.0px;font-family:'Liberation Sans', sans-serif;font-size:12.5px;color:#111;">16.0</div>
<div class="t" style="left:649.0px;top:3585.8px;font-family:'Liberation Sans', sans-serif;font-size:12.5px;color:#111;">14.0</div>
<div class="t" style="left:649.0px;top:3631.7px;font-family:'Liberation Sans', sans-serif;font-size:12.5px;color:#111;">12.0</div>
<div class="t" style="left:649.0px;top:3677.5px;font-family:'Liberation Sans', sans-serif;font-size:12.5px;color:#111;">10.0</div>
<div class="t" style="left:649.0px;top:3723.3px;font-family:'Liberation Sans', sans-serif;font-size:12.5px;color:#111;">8.0</div>
<div class="t" style="left:649.0px;top:3769.1px;font-family:'Liberation Sans', sans-serif;font-size:12.5px;color:#111;">6.0</div>
<div class="t" style="left:649.0px;top:3814.9px;font-family:'Liberation Sans', sans-serif;font-size:12.5px;color:#111;">4.0</div>
<div class="t" style="left:649.0px;top:3860.7px;font-family:'Liberation Sans', sans-serif;font-size:12.5px;color:#111;">2.0</div>
<div class="t" style="left:649.0px;top:3897.9px;font-family:'Liberation Sans', sans-serif;font-size:12.5px;color:#111;">0.0</div>
<div class="t" style="left:359.5px;top:3607.4px;font-family:'Liberation Sans', sans-serif;font-size:26px;font-weight:bold;color:#fff;transform:scaleX(1.0381);">5 nm</div>
<div class="t" style="left:405.4px;top:3697.0px;font-family:'Liberation Sans', sans-serif;font-size:26px;font-weight:bold;color:#fff;transform:scaleX(1.0213);">2.8 µm</div>
<div class="t" style="left:462.7px;top:3838.0px;font-family:'Liberation Sans', sans-serif;font-size:29.5px;font-weight:bold;color:#fff;transform:scaleX(1.0583);">2 µm</div>
<svg style="position:absolute;left:0;top:0;overflow:visible;" width="3179" height="4494" viewBox="0 0 3179 4494"><defs><clipPath id="afc2"><rect x="2045.4" y="3442" width="483.6" height="439"/></clipPath><filter id="bl2" x="-50%" y="-50%" width="200%" height="200%"><feGaussianBlur stdDeviation="18"/></filter><filter id="bl1" x="-20%" y="-20%" width="140%" height="140%"><feGaussianBlur stdDeviation="7"/></filter><radialGradient id="afbg2" cx="0.5" cy="0.5" r="0.75"><stop offset="0" stop-color="#4E0E05"/><stop offset="1" stop-color="#3A0803"/></radialGradient></defs><rect x="2045.4" y="3442" width="483.6" height="439" fill="url(#afbg2)"/><g clip-path="url(#afc2)"><g transform="translate(2000,3360) scale(0.36945)"><polygon points="312,550 640,262 790,268 1115,378 1290,775 975,1085 700,1055 425,955" fill="#9E2A0A" stroke="#9E2A0A" stroke-width="30" stroke-linejoin="round" filter="url(#bl1)"/><polygon points="1270,1420 1300,1340 1432,1230 1440,1420" fill="#E8821E" filter="url(#bl2)"/><polygon points="1340,1420 1370,1380 1440,1360 1440,1420" fill="#FFF0C8" filter="url(#bl2)"/><g filter="url(#bl1)"><circle cx="1233" cy="699" r="8" fill="#FF9A3C"/><circle cx="732" cy="308" r="6" fill="#FF9A3C"/><circle cx="1021" cy="842" r="6" fill="#F07820"/><circle cx="838" cy="322" r="5" fill="#FFD890"/><circle cx="939" cy="944" r="5" fill="#FFD890"/><circle cx="735" cy="360" r="7" fill="#FF9A3C"/><circle cx="951" cy="619" r="8" fill="#FFB85A"/><circle cx="949" cy="974" r="6" fill="#FF9A3C"/><circle cx="715" cy="528" r="12" fill="#F07820"/><circle cx="1073" cy="592" r="12" fill="#FFD890"/><circle cx="660" cy="389" r="7" fill="#FF9A3C"/><circle cx="507" cy="590" r="7" fill="#FFD890"/><circle cx="1097" cy="813" r="12" fill="#F07820"/><circle cx="389" cy="573" r="6" fill="#FFD890"/><circle cx="1020" cy="584" r="10" fill="#FF9A3C"/><circle cx="1225" cy="578" r="10" fill="#F07820"/><circle cx="1116" cy="459" r="10" fill="#FF9A3C"/><circle cx="644" cy="678" r="10" fill="#F07820"/><circle cx="587" cy="505" r="8" fill="#F07820"/><circle cx="722" cy="517" r="12" fill="#FF9A3C"/><circle cx="1108" cy="549" r="7" fill="#FFB85A"/><circle cx="1097" cy="899" r="12" fill="#F07820"/><circle cx="857" cy="1005" r="12" fill="#FF9A3C"/><circle cx="915" cy="819" r="6" fill="#FF9A3C"/><circle cx="1101" cy="664" r="7" fill="#FF9A3C"/><circle cx="977" cy="406" r="8" fill="#FFD890"/><circle cx="1081" cy="638" r="12" fill="#FF9A3C"/><circle cx="680" cy="932" r="12" fill="#FF9A3C"/><circle cx="993" cy="602" r="12" fill="#FF9A3C"/><circle cx="1190" cy="460" r="8" fill="#F07820"/><circle cx="843" cy="938" r="5" fill="#FFB85A"/><circle cx="1146" cy="659" r="5" fill="#FFD890"/><circle cx="1197" cy="452" r="12" fill="#FFD890"/><circle cx="804" cy="824" r="8" fill="#FFD890"/><circle cx="455" cy="864" r="6" fill="#F07820"/><circle cx="542" cy="563" r="6" fill="#F07820"/><circle cx="699" cy="910" r="12" fill="#FFD890"/><circle cx="768" cy="747" r="8" fill="#F07820"/><circle cx="1054" cy="412" r="12" fill="#FFD890"/><circle cx="655" cy="830" r="6" fill="#F07820"/><circle cx="676" cy="612" r="5" fill="#F07820"/><circle cx="589" cy="485" r="6" fill="#FFD890"/><circle cx="522" cy="614" r="10" fill="#FFD890"/><circle cx="708" cy="389" r="6" fill="#FF9A3C"/><circle cx="971" cy="680" r="6" fill="#FF9A3C"/><circle cx="1254" cy="567" r="6" fill="#FFD890"/><circle cx="660" cy="415" r="7" fill="#F07820"/><circle cx="448" cy="896" r="6" fill="#FFB85A"/><circle cx="1135" cy="861" r="7" fill="#FF9A3C"/><circle cx="507" cy="444" r="6" fill="#F07820"/><circle cx="980" cy="577" r="12" fill="#F07820"/><circle cx="907" cy="931" r="7" fill="#FF9A3C"/><circle cx="843" cy="493" r="7" fill="#F07820"/><circle cx="588" cy="400" r="8" fill="#FF9A3C"/><circle cx="605" cy="517" r="7" fill="#FFB85A"/><circle cx="1146" cy="422" r="10" fill="#FFB85A"/><circle cx="908" cy="713" r="12" fill="#FFB85A"/><circle cx="841" cy="802" r="10" fill="#F07820"/><circle cx="636" cy="625" r="7" fill="#FFB85A"/><circle cx="793" cy="822" r="7" fill="#FFB85A"/><circle cx="1209" cy="684" r="10" fill="#F07820"/><circle cx="855" cy="737" r="12" fill="#FF9A3C"/><circle cx="536" cy="579" r="7" fill="#FFB85A"/><circle cx="415" cy="806" r="5" fill="#FFB85A"/><circle cx="1130" cy="896" r="10" fill="#FF9A3C"/><circle cx="753" cy="816" r="5" fill="#F07820"/><circle cx="911" cy="1003" r="12" fill="#FF9A3C"/><circle cx="736" cy="669" r="5" fill="#FFD890"/><circle cx="1169" cy="495" r="6" fill="#F07820"/><circle cx="378" cy="672" r="10" fill="#F07820"/><circle cx="827" cy="1029" r="5" fill="#FF9A3C"/><circle cx="980" cy="695" r="10" fill="#FF9A3C"/><circle cx="1110" cy="610" r="7" fill="#FFB85A"/><circle cx="672" cy="311" r="6" fill="#F07820"/><circle cx="403" cy="581" r="12" fill="#F07820"/><circle cx="829" cy="567" r="12" fill="#FFB85A"/><circle cx="1198" cy="615" r="6" fill="#FFB85A"/><circle cx="550" cy="643" r="6" fill="#F07820"/><circle cx="526" cy="815" r="10" fill="#F07820"/><circle cx="896" cy="736" r="10" fill="#FF9A3C"/><circle cx="526" cy="476" r="7" fill="#F07820"/><circle cx="1025" cy="455" r="5" fill="#FFB85A"/><circle cx="846" cy="360" r="10" fill="#FFB85A"/><circle cx="757" cy="334" r="10" fill="#FFB85A"/><circle cx="694" cy="571" r="5" fill="#FFD890"/><circle cx="1260" cy="619" r="12" fill="#FFB85A"/><circle cx="664" cy="901" r="8" fill="#F07820"/><circle cx="866" cy="1017" r="5" fill="#FFD890"/><circle cx="1219" cy="623" r="6" fill="#FFB85A"/><circle cx="804" cy="472" r="7" fill="#F07820"/><circle cx="1083" cy="543" r="5" fill="#FFB85A"/><circle cx="574" cy="833" r="6" fill="#FFD890"/><circle cx="691" cy="852" r="7" fill="#FFB85A"/><circle cx="526" cy="564" r="5" fill="#FF9A3C"/><circle cx="636" cy="439" r="5" fill="#F07820"/><circle cx="834" cy="711" r="10" fill="#FFD890"/><circle cx="1046" cy="700" r="5" fill="#FF9A3C"/><circle cx="1201" cy="815" r="6" fill="#FFB85A"/><circle cx="1229" cy="785" r="5" fill="#F07820"/><circle cx="795" cy="979" r="10" fill="#FFD890"/><circle cx="800" cy="330" r="6" fill="#FFD890"/><circle cx="1046" cy="604" r="5" fill="#F07820"/><circle cx="507" cy="432" r="12" fill="#FFB85A"/><circle cx="742" cy="1031" r="10" fill="#FF9A3C"/><circle cx="779" cy="439" r="5" fill="#FFB85A"/><circle cx="634" cy="332" r="7" fill="#F07820"/><circle cx="979" cy="491" r="12" fill="#F07820"/><circle cx="881" cy="765" r="8" fill="#FFD890"/><circle cx="802" cy="815" r="10" fill="#FFB85A"/><circle cx="782" cy="727" r="7" fill="#FFB85A"/><circle cx="760" cy="490" r="22" fill="#FFE6B0"/><circle cx="520" cy="665" r="20" fill="#FFE6B0"/><circle cx="1170" cy="690" r="24" fill="#FFE6B0"/><circle cx="1185" cy="800" r="22" fill="#FFE6B0"/><circle cx="920" cy="965" r="22" fill="#FFE6B0"/><circle cx="840" cy="880" r="16" fill="#FFE6B0"/><circle cx="790" cy="1060" r="22" fill="#FFE6B0"/><circle cx="1050" cy="460" r="18" fill="#FFE6B0"/><circle cx="700" cy="545" r="14" fill="#FFE6B0"/><circle cx="605" cy="855" r="14" fill="#FFE6B0"/><circle cx="430" cy="885" r="14" fill="#FFE6B0"/></g><path d="M230,708 L335,700 C352,695 356,680 362,650 L378,590 C384,572 392,570 410,568 L470,572 L520,578 L560,566 L640,572 L670,580 L672,548 L700,546 L704,572 L770,570 L842,566 L846,488 L892,488 L896,568 L960,570 L1010,552 L1060,562 L1120,556 L1180,552 L1186,482 L1224,482 L1230,530 L1250,540 L1272,640 C1280,680 1286,692 1300,696 L1390,702" fill="none" stroke="#fff" stroke-width="14" stroke-linejoin="round" stroke-linecap="round"/><rect x="228" y="726" width="1162" height="10" fill="#fff"/><path d="M723,612 V705" stroke="#F4E8E0" stroke-width="6" stroke-dasharray="7 6"/><path d="M723,592 L710,618 H736 Z M723,722 L710,696 H736 Z" fill="#F4E8E0"/><rect x="165" y="1328" width="352" height="29" fill="#fff"/></g></g></svg>
<div class="t" style="left:2277.0px;top:3594.7px;font-family:'Liberation Sans', sans-serif;font-size:24px;font-weight:bold;color:#EFE0D8;transform:scaleX(1.0890);">5 nm</div>
<div class="t" style="left:2074.0px;top:3815.1px;font-family:'Liberation Sans', sans-serif;font-size:31px;font-weight:bold;color:#fff;transform:scaleX(1.0024);">1,5&nbsp; µm</div>
<svg style="position:absolute;left:0;top:0;overflow:visible;" width="3179" height="4494" viewBox="0 0 3179 4494"><rect x="814" y="3462.4" width="421.5" height="391.4" fill="#fff" stroke="#000" stroke-width="3"/><line x1="919.4" y1="3462.4" x2="919.4" y2="3853.8" stroke="#000" stroke-width="1.2" stroke-dasharray="5 3.5"/><line x1="983.4" y1="3462.4" x2="983.4" y2="3853.8" stroke="#000" stroke-width="1.2" stroke-dasharray="5 3.5"/><line x1="966.6" y1="3462.4" x2="966.6" y2="3853.8" stroke="#E00000" stroke-width="1.2" stroke-dasharray="5 3.5"/><line x1="1012.9" y1="3462.4" x2="1012.9" y2="3853.8" stroke="#E00000" stroke-width="1.2" stroke-dasharray="5 3.5"/><polyline points="814.0,3633.5 815.3,3633.6 816.7,3633.9 818.0,3633.9 819.4,3632.7 820.7,3632.1 822.1,3632.8 823.4,3632.9 824.8,3632.2 826.1,3632.3 827.5,3630.7 828.8,3630.5 830.2,3629.3 831.5,3628.9 832.9,3628.0 834.2,3627.7 835.6,3626.3 836.9,3626.3 838.3,3625.6 839.6,3624.4 841.0,3623.7 842.3,3624.0 843.7,3624.6 845.0,3624.3 846.4,3623.4 847.7,3622.4 849.1,3622.8 850.4,3622.2 851.8,3621.4 853.1,3622.0 854.5,3622.5 855.8,3622.5 857.2,3622.4 858.5,3621.9 859.9,3622.4 861.2,3621.4 862.6,3621.0 863.9,3620.7 865.3,3621.4 866.6,3621.7 868.0,3621.9 869.3,3621.5 870.6,3621.2 872.0,3620.2 873.3,3620.6 874.7,3620.3 876.0,3619.7 877.4,3620.3 878.7,3620.1 880.1,3619.8 881.4,3620.1 882.8,3620.8 884.1,3620.5 885.5,3620.0 886.8,3619.6 888.2,3620.2 889.5,3620.2 890.9,3619.7 892.2,3619.8 893.6,3619.5 894.9,3620.5 896.3,3621.2 897.6,3620.8 899.0,3620.7 900.3,3620.7 901.7,3621.7 903.0,3622.2 904.4,3621.9 905.7,3622.4 907.1,3622.7 908.4,3622.0 909.8,3621.6 911.1,3622.1 912.5,3621.8 913.8,3621.7 915.2,3620.7 916.5,3620.3 917.9,3620.8 919.2,3621.7 920.6,3621.5 921.9,3620.6 923.3,3619.6 924.6,3618.8 926.0,3619.8 927.3,3618.8 928.6,3618.4 930.0,3617.7 931.3,3617.5 932.7,3616.2 934.0,3614.3 935.4,3612.4 936.7,3610.7 938.1,3609.1 939.4,3607.0 940.8,3604.3 942.1,3602.1 943.5,3598.4 944.8,3595.7 946.2,3592.8 947.5,3589.0 948.9,3584.0 950.2,3580.6 951.6,3576.9 952.9,3572.1 954.3,3567.5 955.6,3563.5 957.0,3559.8 958.3,3556.4 959.7,3554.5 961.0,3551.2 962.4,3549.6 963.7,3548.4 965.1,3547.2 966.4,3547.4 967.8,3546.3 969.1,3546.5 970.5,3548.0 971.8,3549.6 973.2,3551.4 974.5,3553.3 975.9,3556.9 977.2,3559.8 978.6,3562.9 979.9,3565.6 981.3,3570.0 982.6,3574.1 983.9,3576.8 985.3,3578.8 986.6,3581.9 988.0,3585.1 989.3,3586.4 990.7,3587.8 992.0,3589.0 993.4,3588.6 994.7,3588.9 996.1,3588.3 997.4,3585.3 998.8,3582.4 1000.1,3578.4 1001.5,3574.0 1002.8,3567.4 1004.2,3560.0 1005.5,3549.2 1006.9,3537.9 1008.2,3525.7 1009.6,3513.6 1010.9,3503.3 1012.3,3498.1 1013.6,3497.9 1015.0,3503.6 1016.3,3512.6 1017.7,3523.1 1019.0,3533.1 1020.4,3542.2 1021.7,3549.2 1023.1,3553.2 1024.4,3557.3 1025.8,3559.6 1027.1,3561.8 1028.5,3565.7 1029.8,3569.5 1031.2,3574.4 1032.5,3580.8 1033.9,3587.4 1035.2,3592.4 1036.6,3598.8 1037.9,3603.7 1039.2,3608.0 1040.6,3611.0 1041.9,3614.5 1043.3,3616.9 1044.6,3617.4 1046.0,3619.0 1047.3,3619.8 1048.7,3620.8 1050.0,3621.7 1051.4,3621.0 1052.7,3621.8 1054.1,3622.6 1055.4,3623.0 1056.8,3622.2 1058.1,3622.9 1059.5,3623.2 1060.8,3623.3 1062.2,3623.5 1063.5,3624.1 1064.9,3623.5 1066.2,3624.3 1067.6,3625.1 1068.9,3624.2 1070.3,3623.8 1071.6,3624.1 1073.0,3624.4 1074.3,3624.3 1075.7,3624.3 1077.0,3625.3 1078.4,3625.7 1079.7,3626.5 1081.1,3626.3 1082.4,3625.9 1083.8,3625.8 1085.1,3626.0 1086.5,3627.1 1087.8,3627.6 1089.2,3626.9 1090.5,3627.1 1091.9,3626.9 1093.2,3626.7 1094.6,3626.9 1095.9,3626.7 1097.2,3626.2 1098.6,3626.1 1099.9,3626.8 1101.3,3626.4 1102.6,3626.8 1104.0,3626.9 1105.3,3626.3 1106.7,3626.5 1108.0,3626.9 1109.4,3627.8 1110.7,3628.1 1112.1,3627.8 1113.4,3628.4 1114.8,3628.2 1116.1,3628.3 1117.5,3628.5 1118.8,3628.2 1120.2,3628.2 1121.5,3628.9 1122.9,3628.6 1124.2,3628.7 1125.6,3628.5 1126.9,3627.8 1128.3,3628.5 1129.6,3629.1 1131.0,3628.0 1132.3,3627.4 1133.7,3627.3 1135.0,3627.9 1136.4,3628.1 1137.7,3628.6 1139.1,3629.2 1140.4,3629.3 1141.8,3628.4 1143.1,3627.2 1144.5,3628.1 1145.8,3628.6 1147.2,3628.1 1148.5,3627.8 1149.9,3626.9 1151.2,3626.8 1152.5,3626.4 1153.9,3627.2 1155.2,3628.2 1156.6,3627.3 1157.9,3627.7 1159.3,3628.4 1160.6,3627.2 1162.0,3627.5 1163.3,3627.0 1164.7,3626.9 1166.0,3627.2 1167.4,3628.1 1168.7,3628.0 1170.1,3626.9 1171.4,3627.3 1172.8,3627.2 1174.1,3626.4 1175.5,3627.6 1176.8,3627.2 1178.2,3627.1 1179.5,3626.5 1180.9,3627.4 1182.2,3626.5 1183.6,3626.9 1184.9,3626.5 1186.3,3626.1 1187.6,3625.8 1189.0,3627.1 1190.3,3627.2 1191.7,3626.5 1193.0,3626.5 1194.4,3626.7 1195.7,3627.3 1197.1,3626.9 1198.4,3627.3 1199.8,3626.1 1201.1,3627.2 1202.5,3627.5 1203.8,3627.0 1205.2,3627.4 1206.5,3626.7 1207.8,3626.0 1209.2,3626.8 1210.5,3625.9 1211.9,3625.7 1213.2,3625.5 1214.6,3625.1 1215.9,3625.8 1217.3,3626.6 1218.6,3626.0 1220.0,3625.4 1221.3,3626.0 1222.7,3626.3 1224.0,3626.9 1225.4,3626.1 1226.7,3626.0 1228.1,3626.1 1229.4,3626.0 1230.8,3626.5 1232.1,3626.1 1233.5,3625.5 1234.8,3625.4" fill="none" stroke="#E81010" stroke-width="2.6" stroke-linejoin="round"/><polyline points="814.0,3804.1 815.3,3804.2 816.7,3804.0 818.0,3804.8 819.4,3804.8 820.7,3805.6 822.1,3805.8 823.4,3806.0 824.8,3805.7 826.1,3805.7 827.5,3805.1 828.8,3804.0 830.2,3803.3 831.5,3802.9 832.9,3802.6 834.2,3803.4 835.6,3803.2 836.9,3802.9 838.3,3802.5 839.6,3804.4 841.0,3804.0 842.3,3804.2 843.7,3804.7 845.0,3804.4 846.4,3804.7 847.7,3803.8 849.1,3803.3 850.4,3804.5 851.8,3804.1 853.1,3802.7 854.5,3804.2 855.8,3803.8 857.2,3804.0 858.5,3804.8 859.9,3805.3 861.2,3803.7 862.6,3803.1 863.9,3803.2 865.3,3802.4 866.6,3802.8 868.0,3803.1 869.3,3802.6 870.6,3803.1 872.0,3802.1 873.3,3803.2 874.7,3803.3 876.0,3803.7 877.4,3804.2 878.7,3803.5 880.1,3801.8 881.4,3801.5 882.8,3800.1 884.1,3801.2 885.5,3800.6 886.8,3799.3 888.2,3799.9 889.5,3799.8 890.9,3798.8 892.2,3800.2 893.6,3798.6 894.9,3797.4 896.3,3797.6 897.6,3798.5 899.0,3797.5 900.3,3796.2 901.7,3794.9 903.0,3795.1 904.4,3792.8 905.7,3792.2 907.1,3789.0 908.4,3787.0 909.8,3784.7 911.1,3782.3 912.5,3778.8 913.8,3773.1 915.2,3766.4 916.5,3762.8 917.9,3757.7 919.2,3756.8 920.6,3758.7 921.9,3762.3 923.3,3765.2 924.6,3771.7 926.0,3775.3 927.3,3780.6 928.6,3782.5 930.0,3786.0 931.3,3789.6 932.7,3791.8 934.0,3793.5 935.4,3795.0 936.7,3794.2 938.1,3794.2 939.4,3794.9 940.8,3796.3 942.1,3796.9 943.5,3796.3 944.8,3798.0 946.2,3798.8 947.5,3797.7 948.9,3798.4 950.2,3798.0 951.6,3798.5 952.9,3796.5 954.3,3795.8 955.6,3796.2 957.0,3795.6 958.3,3793.9 959.7,3794.1 961.0,3794.1 962.4,3793.2 963.7,3792.3 965.1,3791.4 966.4,3790.2 967.8,3786.6 969.1,3783.9 970.5,3781.4 971.8,3775.3 973.2,3769.3 974.5,3761.1 975.9,3749.8 977.2,3735.1 978.6,3713.6 979.9,3686.3 981.3,3656.1 982.6,3634.1 983.9,3631.1 985.3,3649.2 986.6,3677.5 988.0,3706.7 989.3,3729.0 990.7,3745.3 992.0,3757.7 993.4,3765.8 994.7,3773.4 996.1,3778.9 997.4,3783.6 998.8,3787.7 1000.1,3790.7 1001.5,3791.9 1002.8,3794.1 1004.2,3795.2 1005.5,3794.5 1006.9,3795.7 1008.2,3795.2 1009.6,3796.3 1010.9,3795.9 1012.3,3796.3 1013.6,3796.8 1015.0,3797.1 1016.3,3798.3 1017.7,3798.8 1019.0,3800.2 1020.4,3801.3 1021.7,3800.4 1023.1,3801.7 1024.4,3800.3 1025.8,3799.5 1027.1,3800.5 1028.5,3800.4 1029.8,3801.2 1031.2,3801.0 1032.5,3802.4 1033.9,3802.8 1035.2,3803.6 1036.6,3802.4 1037.9,3802.0 1039.2,3802.4 1040.6,3802.8 1041.9,3803.4 1043.3,3802.2 1044.6,3802.6 1046.0,3802.5 1047.3,3802.2 1048.7,3801.9 1050.0,3802.2 1051.4,3802.4 1052.7,3803.4 1054.1,3803.9 1055.4,3804.6 1056.8,3803.5 1058.1,3803.9 1059.5,3803.6 1060.8,3804.1 1062.2,3804.7 1063.5,3804.2 1064.9,3802.8 1066.2,3801.8 1067.6,3801.6 1068.9,3801.5 1070.3,3803.3 1071.6,3802.0 1073.0,3802.2 1074.3,3801.8 1075.7,3801.3 1077.0,3801.2 1078.4,3803.0 1079.7,3803.9 1081.1,3804.2 1082.4,3804.6 1083.8,3803.5 1085.1,3803.6 1086.5,3804.3 1087.8,3803.3 1089.2,3803.0 1090.5,3802.0 1091.9,3802.6 1093.2,3804.0 1094.6,3803.6 1095.9,3804.7 1097.2,3804.2 1098.6,3804.1 1099.9,3804.8 1101.3,3803.2 1102.6,3802.9 1104.0,3803.2 1105.3,3802.8 1106.7,3804.2 1108.0,3802.9 1109.4,3803.9 1110.7,3804.4 1112.1,3805.3 1113.4,3804.8 1114.8,3803.1 1116.1,3802.1 1117.5,3802.0 1118.8,3803.7 1120.2,3804.5 1121.5,3805.2 1122.9,3803.2 1124.2,3804.5 1125.6,3803.4 1126.9,3802.6 1128.3,3803.0 1129.6,3802.4 1131.0,3803.6 1132.3,3802.7 1133.7,3803.6 1135.0,3804.4 1136.4,3804.7 1137.7,3804.6 1139.1,3805.0 1140.4,3805.0 1141.8,3803.5 1143.1,3804.0 1144.5,3803.3 1145.8,3803.8 1147.2,3804.1 1148.5,3804.3 1149.9,3804.3 1151.2,3803.2 1152.5,3802.7 1153.9,3802.8 1155.2,3803.5 1156.6,3803.9 1157.9,3804.3 1159.3,3803.5 1160.6,3803.3 1162.0,3802.5 1163.3,3801.9 1164.7,3802.9 1166.0,3802.9 1167.4,3803.6 1168.7,3802.8 1170.1,3803.6 1171.4,3803.9 1172.8,3803.8 1174.1,3803.8 1175.5,3802.8 1176.8,3802.4 1178.2,3802.6 1179.5,3802.7 1180.9,3802.7 1182.2,3802.5 1183.6,3804.0 1184.9,3804.2 1186.3,3804.6 1187.6,3803.8 1189.0,3804.5 1190.3,3803.5 1191.7,3803.4 1193.0,3802.4 1194.4,3801.8 1195.7,3803.3 1197.1,3803.1 1198.4,3802.3 1199.8,3802.3 1201.1,3801.7 1202.5,3803.6 1203.8,3804.4 1205.2,3803.5 1206.5,3804.0 1207.8,3804.7 1209.2,3805.4 1210.5,3805.1 1211.9,3804.0 1213.2,3805.2 1214.6,3805.2 1215.9,3804.9 1217.3,3804.0 1218.6,3804.0 1220.0,3803.7 1221.3,3803.9 1222.7,3804.0 1224.0,3804.9 1225.4,3803.7 1226.7,3803.1 1228.1,3802.7 1229.4,3802.0 1230.8,3803.1 1232.1,3803.6 1233.5,3804.8 1234.8,3803.8" fill="none" stroke="#000" stroke-width="2.6" stroke-linejoin="round"/><line x1="814.0" y1="3853.8" x2="814.0" y2="3860.8" stroke="#000" stroke-width="2"/><line x1="856.1" y1="3853.8" x2="856.1" y2="3857.8" stroke="#000" stroke-width="2"/><line x1="898.3" y1="3853.8" x2="898.3" y2="3860.8" stroke="#000" stroke-width="2"/><line x1="940.5" y1="3853.8" x2="940.5" y2="3857.8" stroke="#000" stroke-width="2"/><line x1="982.6" y1="3853.8" x2="982.6" y2="3860.8" stroke="#000" stroke-width="2"/><line x1="1024.8" y1="3853.8" x2="1024.8" y2="3857.8" stroke="#000" stroke-width="2"/><line x1="1066.9" y1="3853.8" x2="1066.9" y2="3860.8" stroke="#000" stroke-width="2"/><line x1="1109.0" y1="3853.8" x2="1109.0" y2="3857.8" stroke="#000" stroke-width="2"/><line x1="1151.2" y1="3853.8" x2="1151.2" y2="3860.8" stroke="#000" stroke-width="2"/><line x1="1193.3" y1="3853.8" x2="1193.3" y2="3857.8" stroke="#000" stroke-width="2"/><line x1="1235.5" y1="3853.8" x2="1235.5" y2="3860.8" stroke="#000" stroke-width="2"/></svg>
<div class="t" style="left:802.9px;top:3866.1px;font-family:'Liberation Sans', sans-serif;font-size:20px;font-weight:bold;color:#000;">50</div>
<div class="t" style="left:881.6px;top:3866.1px;font-family:'Liberation Sans', sans-serif;font-size:20px;font-weight:bold;color:#000;">100</div>
<div class="t" style="left:965.9px;top:3866.1px;font-family:'Liberation Sans', sans-serif;font-size:20px;font-weight:bold;color:#000;">150</div>
<div class="t" style="left:1050.2px;top:3866.1px;font-family:'Liberation Sans', sans-serif;font-size:20px;font-weight:bold;color:#000;">200</div>
<div class="t" style="left:1134.5px;top:3866.1px;font-family:'Liberation Sans', sans-serif;font-size:20px;font-weight:bold;color:#000;">250</div>
<div class="t" style="left:1218.8px;top:3866.1px;font-family:'Liberation Sans', sans-serif;font-size:20px;font-weight:bold;color:#000;">300</div>
<div class="t" style="left:919.0px;top:3905.2px;font-family:'Liberation Sans', sans-serif;font-size:24.5px;font-weight:bold;color:#000;">Raman shift [cm<sup>-1</sup>]</div>
<div class="t" style="left:788.0px;top:3659.0px;font-family:'Liberation Sans', sans-serif;font-size:24.5px;font-weight:bold;color:#000;transform:translate(-50%,-50%) rotate(-90deg);transform-origin:50% 50%;">Intensity [a.u.]</div>
<div class="t" style="left:1051.0px;top:3549.9px;font-family:'Liberation Sans', sans-serif;font-size:27px;font-weight:bold;color:#E00000;transform:scaleX(0.9828);">Sb hexagon</div>
<div class="t" style="left:1070.0px;top:3725.7px;font-family:'Liberation Sans', sans-serif;font-size:27px;font-weight:bold;color:#000;transform:scaleX(0.9845);">Sb bulk</div>
<svg style="position:absolute;left:0;top:0;overflow:visible;" width="3179" height="4494" viewBox="0 0 3179 4494"><rect x="2635.3" y="3440" width="417.7" height="419" fill="#fff" stroke="#333" stroke-width="2.4"/><line x1="2740.6" y1="3440" x2="2740.6" y2="3859" stroke="#8FA8A0" stroke-width="2" stroke-dasharray="3 3.4"/><line x1="2805.7" y1="3440" x2="2805.7" y2="3859" stroke="#8FA8A0" stroke-width="2" stroke-dasharray="3 3.4"/><line x1="2762.3" y1="3440" x2="2762.3" y2="3859" stroke="#C02020" stroke-width="3.2" stroke-dasharray="3 3.4"/><line x1="2819.9" y1="3440" x2="2819.9" y2="3859" stroke="#C02020" stroke-width="3.2" stroke-dasharray="3 3.4"/><polyline points="2635.3,3621.3 2636.6,3620.7 2638.0,3620.8 2639.3,3620.9 2640.6,3620.8 2642.0,3621.1 2643.3,3621.1 2644.7,3621.1 2646.0,3620.9 2647.3,3620.6 2648.7,3620.8 2650.0,3620.5 2651.3,3620.5 2652.7,3620.4 2654.0,3620.4 2655.4,3620.1 2656.7,3620.3 2658.0,3620.4 2659.4,3620.0 2660.7,3619.5 2662.0,3619.3 2663.4,3619.2 2664.7,3619.1 2666.0,3619.2 2667.4,3619.0 2668.7,3618.3 2670.1,3618.5 2671.4,3617.7 2672.7,3617.6 2674.1,3617.6 2675.4,3617.1 2676.7,3616.7 2678.1,3617.2 2679.4,3616.9 2680.8,3616.7 2682.1,3616.8 2683.4,3616.2 2684.8,3616.1 2686.1,3615.9 2687.4,3615.7 2688.8,3616.2 2690.1,3616.5 2691.4,3616.0 2692.8,3615.8 2694.1,3615.3 2695.5,3615.7 2696.8,3615.7 2698.1,3615.4 2699.5,3615.6 2700.8,3615.7 2702.1,3615.1 2703.5,3615.3 2704.8,3615.7 2706.2,3615.4 2707.5,3614.9 2708.8,3614.6 2710.2,3614.6 2711.5,3615.1 2712.8,3614.5 2714.2,3614.3 2715.5,3614.1 2716.8,3614.6 2718.2,3614.3 2719.5,3614.2 2720.9,3614.2 2722.2,3614.6 2723.5,3614.1 2724.9,3614.8 2726.2,3614.6 2727.5,3614.8 2728.9,3615.1 2730.2,3614.8 2731.5,3614.5 2732.9,3614.8 2734.2,3614.2 2735.6,3613.8 2736.9,3613.8 2738.2,3614.3 2739.6,3613.8 2740.9,3613.7 2742.2,3613.3 2743.6,3613.2 2744.9,3613.1 2746.3,3612.5 2747.6,3612.4 2748.9,3611.3 2750.3,3610.3 2751.6,3608.6 2752.9,3607.1 2754.3,3604.1 2755.6,3600.6 2756.9,3596.9 2758.3,3593.2 2759.6,3589.9 2761.0,3586.9 2762.3,3585.0 2763.6,3586.0 2765.0,3588.0 2766.3,3589.9 2767.6,3592.0 2769.0,3593.7 2770.3,3594.7 2771.7,3595.1 2773.0,3596.0 2774.3,3596.3 2775.7,3596.9 2777.0,3597.4 2778.3,3597.6 2779.7,3597.7 2781.0,3597.7 2782.3,3597.2 2783.7,3597.8 2785.0,3598.1 2786.4,3597.6 2787.7,3597.1 2789.0,3597.3 2790.4,3596.5 2791.7,3596.0 2793.0,3596.0 2794.4,3595.7 2795.7,3595.2 2797.1,3594.7 2798.4,3593.8 2799.7,3593.6 2801.1,3592.3 2802.4,3591.5 2803.7,3590.4 2805.1,3588.3 2806.4,3586.1 2807.7,3583.4 2809.1,3579.7 2810.4,3574.9 2811.8,3569.1 2813.1,3561.4 2814.4,3551.3 2815.8,3538.2 2817.1,3523.0 2818.4,3508.9 2819.8,3502.4 2821.1,3507.1 2822.5,3519.6 2823.8,3535.1 2825.1,3549.9 2826.5,3561.4 2827.8,3570.7 2829.1,3577.8 2830.5,3583.2 2831.8,3587.9 2833.1,3591.8 2834.5,3594.5 2835.8,3597.0 2837.2,3598.8 2838.5,3601.0 2839.8,3602.8 2841.2,3604.3 2842.5,3605.3 2843.8,3606.7 2845.2,3607.8 2846.5,3608.9 2847.9,3609.5 2849.2,3610.2 2850.5,3610.6 2851.9,3610.7 2853.2,3611.6 2854.5,3611.5 2855.9,3612.3 2857.2,3612.4 2858.5,3612.2 2859.9,3612.9 2861.2,3613.5 2862.6,3614.0 2863.9,3613.5 2865.2,3613.6 2866.6,3613.8 2867.9,3614.0 2869.2,3613.8 2870.6,3613.6 2871.9,3614.1 2873.3,3614.3 2874.6,3614.1 2875.9,3614.0 2877.3,3614.4 2878.6,3614.7 2879.9,3614.3 2881.3,3614.3 2882.6,3614.7 2883.9,3614.6 2885.3,3614.2 2886.6,3614.7 2888.0,3614.5 2889.3,3614.5 2890.6,3614.9 2892.0,3615.2 2893.3,3615.0 2894.6,3614.4 2896.0,3614.3 2897.3,3614.4 2898.6,3614.1 2900.0,3614.7 2901.3,3614.6 2902.7,3615.0 2904.0,3614.8 2905.3,3614.9 2906.7,3614.9 2908.0,3614.7 2909.3,3614.5 2910.7,3614.7 2912.0,3614.7 2913.4,3614.8 2914.7,3614.4 2916.0,3614.1 2917.4,3614.1 2918.7,3614.7 2920.0,3615.0 2921.4,3614.5 2922.7,3614.3 2924.0,3614.5 2925.4,3614.8 2926.7,3614.7 2928.1,3614.7 2929.4,3615.0 2930.7,3614.6 2932.1,3615.2 2933.4,3615.4 2934.7,3615.7 2936.1,3615.8 2937.4,3615.5 2938.8,3615.7 2940.1,3615.0 2941.4,3615.1 2942.8,3614.8 2944.1,3615.2 2945.4,3615.2 2946.8,3615.1 2948.1,3615.4 2949.4,3615.5 2950.8,3615.7 2952.1,3615.4 2953.5,3615.3 2954.8,3614.8 2956.1,3614.6 2957.5,3614.9 2958.8,3614.9 2960.1,3614.6 2961.5,3614.8 2962.8,3614.8 2964.2,3614.9 2965.5,3614.8 2966.8,3615.1 2968.2,3615.1 2969.5,3614.8 2970.8,3614.9 2972.2,3615.1 2973.5,3615.2 2974.8,3615.6 2976.2,3615.8 2977.5,3615.7 2978.9,3615.1 2980.2,3615.4 2981.5,3615.2 2982.9,3615.6 2984.2,3615.0 2985.5,3615.4 2986.9,3615.8 2988.2,3615.7 2989.6,3615.1 2990.9,3615.5 2992.2,3615.6 2993.6,3614.9 2994.9,3614.9 2996.2,3614.8 2997.6,3615.3 2998.9,3615.5 3000.2,3615.2 3001.6,3615.4 3002.9,3615.4 3004.3,3615.6 3005.6,3615.2 3006.9,3614.7 3008.3,3615.2 3009.6,3615.3 3010.9,3615.7 3012.3,3615.4 3013.6,3615.5 3015.0,3615.8 3016.3,3615.9 3017.6,3616.0 3019.0,3615.8 3020.3,3615.8 3021.6,3615.7 3023.0,3615.3 3024.3,3614.8 3025.6,3614.8 3027.0,3615.3 3028.3,3614.8 3029.7,3614.9 3031.0,3615.4 3032.3,3615.3 3033.7,3615.3 3035.0,3614.9 3036.3,3614.9 3037.7,3615.1 3039.0,3615.1 3040.4,3614.8 3041.7,3615.0 3043.0,3615.5 3044.4,3615.6 3045.7,3615.8 3047.0,3615.6 3048.4,3615.0 3049.7,3615.1 3051.0,3615.4 3052.4,3615.3" fill="none" stroke="#B03434" stroke-width="2.6" stroke-linejoin="round"/><polyline points="2635.3,3836.1 2636.6,3835.2 2638.0,3835.4 2639.3,3834.9 2640.6,3835.3 2642.0,3834.5 2643.3,3835.1 2644.7,3835.1 2646.0,3834.2 2647.3,3835.5 2648.7,3834.7 2650.0,3834.9 2651.3,3834.5 2652.7,3834.3 2654.0,3835.2 2655.4,3835.4 2656.7,3835.6 2658.0,3834.7 2659.4,3835.2 2660.7,3835.8 2662.0,3834.9 2663.4,3834.7 2664.7,3834.5 2666.0,3834.0 2667.4,3833.9 2668.7,3834.2 2670.1,3835.3 2671.4,3835.4 2672.7,3834.4 2674.1,3835.2 2675.4,3834.7 2676.7,3835.1 2678.1,3835.8 2679.4,3835.6 2680.8,3835.0 2682.1,3834.3 2683.4,3834.4 2684.8,3834.3 2686.1,3834.2 2687.4,3834.1 2688.8,3834.1 2690.1,3833.4 2691.4,3833.7 2692.8,3833.6 2694.1,3834.6 2695.5,3833.4 2696.8,3833.3 2698.1,3834.3 2699.5,3834.8 2700.8,3834.9 2702.1,3833.4 2703.5,3833.2 2704.8,3833.9 2706.2,3833.5 2707.5,3832.4 2708.8,3832.5 2710.2,3831.9 2711.5,3832.1 2712.8,3830.9 2714.2,3830.0 2715.5,3830.6 2716.8,3830.1 2718.2,3829.1 2719.5,3829.4 2720.9,3827.2 2722.2,3826.2 2723.5,3825.2 2724.9,3823.4 2726.2,3822.5 2727.5,3820.5 2728.9,3816.5 2730.2,3812.3 2731.5,3808.1 2732.9,3801.4 2734.2,3793.0 2735.6,3781.7 2736.9,3770.7 2738.2,3758.8 2739.6,3749.8 2740.9,3747.3 2742.2,3752.4 2743.6,3764.5 2744.9,3776.3 2746.3,3788.1 2747.6,3798.0 2748.9,3804.0 2750.3,3809.0 2751.6,3813.4 2752.9,3816.9 2754.3,3818.7 2755.6,3821.4 2756.9,3822.3 2758.3,3824.1 2759.6,3826.0 2761.0,3827.2 2762.3,3827.1 2763.6,3828.4 2765.0,3827.8 2766.3,3828.1 2767.6,3828.0 2769.0,3827.7 2770.3,3828.5 2771.7,3828.4 2773.0,3829.4 2774.3,3829.9 2775.7,3829.4 2777.0,3829.7 2778.3,3829.0 2779.7,3828.6 2781.0,3826.7 2782.3,3826.5 2783.7,3826.1 2785.0,3825.4 2786.4,3823.6 2787.7,3822.0 2789.0,3819.9 2790.4,3817.2 2791.7,3814.7 2793.0,3810.0 2794.4,3805.0 2795.7,3798.3 2797.1,3788.7 2798.4,3776.6 2799.7,3759.7 2801.1,3735.4 2802.4,3704.1 2803.7,3670.6 2805.1,3646.6 2806.4,3646.3 2807.7,3670.5 2809.1,3704.5 2810.4,3734.8 2811.8,3758.2 2813.1,3777.0 2814.4,3790.1 2815.8,3799.4 2817.1,3806.5 2818.4,3812.0 2819.8,3816.2 2821.1,3819.4 2822.5,3820.5 2823.8,3822.6 2825.1,3824.4 2826.5,3825.3 2827.8,3826.5 2829.1,3828.3 2830.5,3828.5 2831.8,3829.4 2833.1,3829.2 2834.5,3830.2 2835.8,3829.7 2837.2,3830.4 2838.5,3831.2 2839.8,3831.7 2841.2,3832.9 2842.5,3833.1 2843.8,3832.9 2845.2,3832.8 2846.5,3833.7 2847.9,3833.7 2849.2,3833.3 2850.5,3834.2 2851.9,3833.0 2853.2,3834.1 2854.5,3833.6 2855.9,3833.8 2857.2,3834.8 2858.5,3835.1 2859.9,3834.7 2861.2,3835.3 2862.6,3835.3 2863.9,3835.0 2865.2,3835.6 2866.6,3835.9 2867.9,3834.8 2869.2,3833.9 2870.6,3833.4 2871.9,3833.0 2873.3,3833.9 2874.6,3833.6 2875.9,3834.0 2877.3,3833.7 2878.6,3835.0 2879.9,3834.7 2881.3,3834.0 2882.6,3833.4 2883.9,3833.2 2885.3,3834.9 2886.6,3834.0 2888.0,3834.1 2889.3,3833.7 2890.6,3833.9 2892.0,3833.8 2893.3,3835.1 2894.6,3835.3 2896.0,3834.4 2897.3,3835.3 2898.6,3834.9 2900.0,3835.6 2901.3,3834.6 2902.7,3834.7 2904.0,3834.7 2905.3,3834.8 2906.7,3835.5 2908.0,3835.0 2909.3,3835.9 2910.7,3835.4 2912.0,3834.5 2913.4,3835.4 2914.7,3835.6 2916.0,3836.0 2917.4,3835.2 2918.7,3835.5 2920.0,3834.5 2921.4,3834.9 2922.7,3834.9 2924.0,3835.8 2925.4,3834.8 2926.7,3834.6 2928.1,3835.9 2929.4,3836.3 2930.7,3835.5 2932.1,3836.3 2933.4,3836.0 2934.7,3836.6 2936.1,3836.8 2937.4,3836.4 2938.8,3836.2 2940.1,3834.9 2941.4,3836.0 2942.8,3836.6 2944.1,3835.4 2945.4,3836.1 2946.8,3835.5 2948.1,3835.3 2949.4,3835.9 2950.8,3835.6 2952.1,3836.4 2953.5,3836.5 2954.8,3836.0 2956.1,3835.1 2957.5,3835.1 2958.8,3835.9 2960.1,3835.8 2961.5,3835.1 2962.8,3835.3 2964.2,3834.7 2965.5,3834.1 2966.8,3835.4 2968.2,3835.9 2969.5,3836.6 2970.8,3836.6 2972.2,3835.8 2973.5,3835.0 2974.8,3836.2 2976.2,3836.8 2977.5,3835.5 2978.9,3834.7 2980.2,3835.2 2981.5,3834.9 2982.9,3835.3 2984.2,3835.2 2985.5,3835.9 2986.9,3836.0 2988.2,3836.3 2989.6,3835.5 2990.9,3834.9 2992.2,3834.4 2993.6,3835.3 2994.9,3835.8 2996.2,3836.1 2997.6,3836.8 2998.9,3835.4 3000.2,3835.5 3001.6,3834.7 3002.9,3835.4 3004.3,3834.9 3005.6,3835.1 3006.9,3836.3 3008.3,3835.8 3009.6,3835.5 3010.9,3834.9 3012.3,3835.8 3013.6,3835.1 3015.0,3836.1 3016.3,3835.2 3017.6,3836.0 3019.0,3835.2 3020.3,3835.7 3021.6,3835.0 3023.0,3834.6 3024.3,3835.3 3025.6,3836.4 3027.0,3836.2 3028.3,3835.9 3029.7,3835.0 3031.0,3835.9 3032.3,3836.4 3033.7,3836.3 3035.0,3836.7 3036.3,3835.4 3037.7,3835.2 3039.0,3835.4 3040.4,3834.6 3041.7,3834.4 3043.0,3835.2 3044.4,3835.5 3045.7,3834.7 3047.0,3834.7 3048.4,3835.9 3049.7,3836.3 3051.0,3835.2 3052.4,3835.1" fill="none" stroke="#1A1A1A" stroke-width="2.6" stroke-linejoin="round"/><line x1="2635.3" y1="3859" x2="2635.3" y2="3866" stroke="#333" stroke-width="2"/><line x1="2677.1" y1="3859" x2="2677.1" y2="3863" stroke="#333" stroke-width="2"/><line x1="2718.9" y1="3859" x2="2718.9" y2="3866" stroke="#333" stroke-width="2"/><line x1="2760.6" y1="3859" x2="2760.6" y2="3863" stroke="#333" stroke-width="2"/><line x1="2802.4" y1="3859" x2="2802.4" y2="3866" stroke="#333" stroke-width="2"/><line x1="2844.2" y1="3859" x2="2844.2" y2="3863" stroke="#333" stroke-width="2"/><line x1="2886.0" y1="3859" x2="2886.0" y2="3866" stroke="#333" stroke-width="2"/><line x1="2927.7" y1="3859" x2="2927.7" y2="3863" stroke="#333" stroke-width="2"/><line x1="2969.5" y1="3859" x2="2969.5" y2="3866" stroke="#333" stroke-width="2"/><line x1="3011.3" y1="3859" x2="3011.3" y2="3863" stroke="#333" stroke-width="2"/><line x1="3053.1" y1="3859" x2="3053.1" y2="3866" stroke="#333" stroke-width="2"/><rect x="2923" y="3451" width="122.5" height="61" fill="#fff" stroke="#444" stroke-width="1.4"/><line x1="2929" y1="3468" x2="2965" y2="3468" stroke="#111" stroke-width="2.2"/><line x1="2929" y1="3499.5" x2="2965" y2="3499.5" stroke="#B03434" stroke-width="2.2"/></svg>
<div class="t" style="left:2620.8px;top:3867.0px;font-family:'Liberation Sans', sans-serif;font-size:26px;font-weight:bold;color:#000;">50</div>
<div class="t" style="left:2697.2px;top:3867.0px;font-family:'Liberation Sans', sans-serif;font-size:26px;font-weight:bold;color:#000;">100</div>
<div class="t" style="left:2780.7px;top:3867.0px;font-family:'Liberation Sans', sans-serif;font-size:26px;font-weight:bold;color:#000;">150</div>
<div class="t" style="left:2864.3px;top:3867.0px;font-family:'Liberation Sans', sans-serif;font-size:26px;font-weight:bold;color:#000;">200</div>
<div class="t" style="left:2947.8px;top:3867.0px;font-family:'Liberation Sans', sans-serif;font-size:26px;font-weight:bold;color:#000;">250</div>
<div class="t" style="left:3033.0px;top:3867.0px;font-family:'Liberation Sans', sans-serif;font-size:26px;font-weight:bold;color:#000;">30</div>
<div class="t" style="left:2735.0px;top:3911.8px;font-family:'Liberation Sans', sans-serif;font-size:25px;font-weight:bold;color:#000;transform:scaleX(1.0110);">Raman shift (cm<sup>-1</sup>)</div>
<div class="t" style="left:2968.0px;top:3456.3px;font-family:'Liberation Sans', sans-serif;font-size:25px;font-weight:bold;color:#000;transform:scaleX(1.0102);">60 nm</div>
<div class="t" style="left:2968.0px;top:3487.8px;font-family:'Liberation Sans', sans-serif;font-size:25px;font-weight:bold;color:#000;transform:scaleX(0.9938);">8 nm</div>
<div class="t" style="left:2698.0px;top:3715.4px;font-family:'Liberation Sans', sans-serif;font-size:29px;color:#222;">E<sub>g</sub></div>
<div class="t" style="left:2825.0px;top:3637.9px;font-family:'Liberation Sans', sans-serif;font-size:29px;color:#222;">A<sub>1g</sub></div>
<svg style="position:absolute;left:0;top:0;overflow:visible;" width="3179" height="4494" viewBox="0 0 3179 4494"><rect x="1325" y="3416.5" width="535" height="587" fill="#fff"/><rect x="1405" y="3462.3" width="441" height="439.6999999999998" fill="#fff" stroke="#555" stroke-width="2"/><line x1="1441" y1="3462.3" x2="1441" y2="3455.3" stroke="#333" stroke-width="2"/><line x1="1515" y1="3462.3" x2="1515" y2="3455.3" stroke="#333" stroke-width="2"/><line x1="1587.5" y1="3462.3" x2="1587.5" y2="3455.3" stroke="#333" stroke-width="2"/><line x1="1661" y1="3462.3" x2="1661" y2="3455.3" stroke="#333" stroke-width="2"/><line x1="1734.5" y1="3462.3" x2="1734.5" y2="3455.3" stroke="#333" stroke-width="2"/><line x1="1808.4" y1="3462.3" x2="1808.4" y2="3455.3" stroke="#333" stroke-width="2"/><line x1="1405" y1="3902.0" x2="1398" y2="3902.0" stroke="#333" stroke-width="2"/><line x1="1405" y1="3810.5" x2="1398" y2="3810.5" stroke="#333" stroke-width="2"/><line x1="1405" y1="3719.0" x2="1398" y2="3719.0" stroke="#333" stroke-width="2"/><line x1="1405" y1="3627.5" x2="1398" y2="3627.5" stroke="#333" stroke-width="2"/><line x1="1405" y1="3536.0" x2="1398" y2="3536.0" stroke="#333" stroke-width="2"/><line x1="1427.0" y1="3902" x2="1427.0" y2="3909" stroke="#B02020" stroke-width="2"/><line x1="1471.1" y1="3902" x2="1471.1" y2="3909" stroke="#B02020" stroke-width="2"/><line x1="1515.2" y1="3902" x2="1515.2" y2="3909" stroke="#B02020" stroke-width="2"/><line x1="1559.3" y1="3902" x2="1559.3" y2="3909" stroke="#B02020" stroke-width="2"/><line x1="1603.4" y1="3902" x2="1603.4" y2="3909" stroke="#B02020" stroke-width="2"/><line x1="1647.5" y1="3902" x2="1647.5" y2="3909" stroke="#B02020" stroke-width="2"/><line x1="1691.6" y1="3902" x2="1691.6" y2="3909" stroke="#B02020" stroke-width="2"/><line x1="1735.7" y1="3902" x2="1735.7" y2="3909" stroke="#B02020" stroke-width="2"/><line x1="1779.8" y1="3902" x2="1779.8" y2="3909" stroke="#B02020" stroke-width="2"/><line x1="1823.9" y1="3902" x2="1823.9" y2="3909" stroke="#B02020" stroke-width="2"/><polyline points="1441,3717 1515,3610 1589,3573 1662,3602.7 1734.5,3744.6 1808.4,3783" fill="none" stroke="#222" stroke-width="1.8"/><path d="M1441,3691 V3743 M1436,3691 H1446 M1436,3743 H1446" stroke="#777" stroke-width="1.4" fill="none"/><rect x="1437.5" y="3713.5" width="7" height="7" fill="#222"/><path d="M1515,3536 V3684 M1510,3536 H1520 M1510,3684 H1520" stroke="#777" stroke-width="1.4" fill="none"/><rect x="1511.5" y="3606.5" width="7" height="7" fill="#222"/><path d="M1589,3503 V3643 M1584,3503 H1594 M1584,3643 H1594" stroke="#777" stroke-width="1.4" fill="none"/><rect x="1585.5" y="3569.5" width="7" height="7" fill="#222"/><path d="M1662,3562 V3642 M1657,3562 H1667 M1657,3642 H1667" stroke="#777" stroke-width="1.4" fill="none"/><rect x="1658.5" y="3599.2" width="7" height="7" fill="#222"/><path d="M1734.5,3685.5 V3804 M1729.5,3685.5 H1739.5 M1729.5,3804 H1739.5" stroke="#777" stroke-width="1.4" fill="none"/><rect x="1731.0" y="3741.1" width="7" height="7" fill="#222"/><path d="M1808.4,3744.6 V3820.7 M1803.4,3744.6 H1813.4 M1803.4,3820.7 H1813.4" stroke="#777" stroke-width="1.4" fill="none"/><rect x="1804.9" y="3779.5" width="7" height="7" fill="#222"/><polyline points="1427,3851.7 1470.7,3795.6 1603.7,3685.5 1824,3723" fill="none" stroke="#B8323A" stroke-width="1.8"/><path d="M1427,3818.5 V3885.7 M1422,3818.5 H1432 M1422,3885.7 H1432" stroke="#C08080" stroke-width="1.4" fill="none"/><rect x="1423.5" y="3848.2" width="7" height="7" fill="#B8323A"/><path d="M1470.7,3760 V3831.8 M1465.7,3760 H1475.7 M1465.7,3831.8 H1475.7" stroke="#C08080" stroke-width="1.4" fill="none"/><rect x="1467.2" y="3792.1" width="7" height="7" fill="#B8323A"/><path d="M1603.7,3577 V3795.6 M1598.7,3577 H1608.7 M1598.7,3795.6 H1608.7" stroke="#C08080" stroke-width="1.4" fill="none"/><rect x="1600.2" y="3682.0" width="7" height="7" fill="#B8323A"/><path d="M1824,3632 V3814.8 M1819,3632 H1829 M1819,3814.8 H1829" stroke="#C08080" stroke-width="1.4" fill="none"/><rect x="1820.5" y="3719.5" width="7" height="7" fill="#B8323A"/><rect x="1603.7" y="3467.5" width="237.3" height="65" fill="#fff" stroke="#777" stroke-width="1.4"/><rect x="1617" y="3484" width="6" height="6" fill="#111"/><rect x="1617" y="3516" width="6" height="6" fill="#C02030"/></svg>
<div class="t" style="left:1434.0px;top:3424.8px;font-family:'Liberation Sans', sans-serif;font-size:25px;font-weight:bold;color:#222;">9</div>
<div class="t" style="left:1501.1px;top:3424.8px;font-family:'Liberation Sans', sans-serif;font-size:25px;font-weight:bold;color:#222;">10</div>
<div class="t" style="left:1574.3px;top:3424.8px;font-family:'Liberation Sans', sans-serif;font-size:25px;font-weight:bold;color:#222;">11</div>
<div class="t" style="left:1647.1px;top:3424.8px;font-family:'Liberation Sans', sans-serif;font-size:25px;font-weight:bold;color:#222;">12</div>
<div class="t" style="left:1720.6px;top:3424.8px;font-family:'Liberation Sans', sans-serif;font-size:25px;font-weight:bold;color:#222;">13</div>
<div class="t" style="left:1794.5px;top:3424.8px;font-family:'Liberation Sans', sans-serif;font-size:25px;font-weight:bold;color:#222;">14</div>
<div class="t" style="left:1382.1px;top:3889.8px;font-family:'Liberation Sans', sans-serif;font-size:25px;font-weight:bold;color:#222;">0</div>
<div class="t" style="left:1382.1px;top:3798.3px;font-family:'Liberation Sans', sans-serif;font-size:25px;font-weight:bold;color:#222;">5</div>
<div class="t" style="left:1368.2px;top:3706.8px;font-family:'Liberation Sans', sans-serif;font-size:25px;font-weight:bold;color:#222;">10</div>
<div class="t" style="left:1368.2px;top:3615.3px;font-family:'Liberation Sans', sans-serif;font-size:25px;font-weight:bold;color:#222;">15</div>
<div class="t" style="left:1368.2px;top:3523.8px;font-family:'Liberation Sans', sans-serif;font-size:25px;font-weight:bold;color:#222;">20</div>
<div class="t" style="left:1420.0px;top:3913.8px;font-family:'Liberation Sans', sans-serif;font-size:25px;font-weight:bold;color:#B02028;">1</div>
<div class="t" style="left:1464.1px;top:3913.8px;font-family:'Liberation Sans', sans-serif;font-size:25px;font-weight:bold;color:#B02028;">2</div>
<div class="t" style="left:1508.2px;top:3913.8px;font-family:'Liberation Sans', sans-serif;font-size:25px;font-weight:bold;color:#B02028;">3</div>
<div class="t" style="left:1552.3px;top:3913.8px;font-family:'Liberation Sans', sans-serif;font-size:25px;font-weight:bold;color:#B02028;">4</div>
<div class="t" style="left:1596.4px;top:3913.8px;font-family:'Liberation Sans', sans-serif;font-size:25px;font-weight:bold;color:#B02028;">5</div>
<div class="t" style="left:1640.5px;top:3913.8px;font-family:'Liberation Sans', sans-serif;font-size:25px;font-weight:bold;color:#B02028;">6</div>
<div class="t" style="left:1684.6px;top:3913.8px;font-family:'Liberation Sans', sans-serif;font-size:25px;font-weight:bold;color:#B02028;">7</div>
<div class="t" style="left:1728.7px;top:3913.8px;font-family:'Liberation Sans', sans-serif;font-size:25px;font-weight:bold;color:#B02028;">8</div>
<div class="t" style="left:1772.8px;top:3913.8px;font-family:'Liberation Sans', sans-serif;font-size:25px;font-weight:bold;color:#B02028;">9</div>
<div class="t" style="left:1810.0px;top:3913.8px;font-family:'Liberation Sans', sans-serif;font-size:25px;font-weight:bold;color:#B02028;">10</div>
<div class="t" style="left:1473.0px;top:3953.1px;font-family:'Liberation Sans', sans-serif;font-size:27px;font-weight:bold;color:#B02028;transform:scaleX(0.9900);">Precursor quantity (mL)</div>
<div class="t" style="left:1347.0px;top:3682.0px;font-family:'Liberation Sans', sans-serif;font-size:25px;font-weight:bold;color:#222;transform:translate(-50%,-50%) rotate(-90deg);transform-origin:50% 50%;">Yield (%)</div>
<div class="t" style="left:1640.0px;top:3473.3px;font-family:'Liberation Sans', sans-serif;font-size:25px;font-weight:bold;color:#222;transform:scaleX(1.0082);">Continuous</div>
<div class="t" style="left:1640.0px;top:3505.3px;font-family:'Liberation Sans', sans-serif;font-size:25px;font-weight:bold;color:#222;transform:scaleX(1.0195);">Discontinuous</div>
<div class="t" style="left:171.4px;top:4098.3px;font-family:'Liberation Sans', sans-serif;font-size:45px;font-weight:bold;font-style:italic;color:#fff;transform:scaleX(0.9957);">Contact person</div>
<div class="t" style="left:1542.2px;top:4099.5px;font-family:'Liberation Sans', sans-serif;font-size:45px;font-weight:bold;font-style:italic;color:#fff;transform:scaleX(0.9746);">References</div>
<svg style="position:absolute;left:0;top:0;overflow:visible;" width="3179" height="4494" viewBox="0 0 3179 4494"><g transform="translate(0,4060) scale(0.49261)" fill="#fff">
<path d="M112,78 H200 Q208,78 208,86 V92 H168 Q152,92 152,108 V140 H140 L124,158 V140 H112 Q105,140 105,132 V86 Q105,78 112,78 Z"/>
<path d="M170,98 H246 Q256,98 256,108 V152 Q256,162 246,162 H240 V182 L218,162 H170 Q160,162 160,152 V108 Q160,98 170,98 Z"/>
</g><g transform="translate(1400,4060) scale(0.36945)" fill="none" stroke="#fff" stroke-width="9" stroke-linejoin="round" stroke-linecap="round">
<path d="M165,140 L240,102 L300,122 L225,160 Z" fill="#fff"/>
<path d="M165,140 V162 L225,184 L300,146 M225,160 V184"/>
<path d="M172,168 L165,178 V198 L225,220 L300,182 M294,150 V178"/>
<path d="M165,198 L225,232 L300,196 V184"/>
</g><rect x="76.5" y="4283.3" width="72" height="40" fill="none" stroke="#DDA27F" stroke-width="5.5"/><path d="M78,4285 L112.5,4309 L147,4285 M78,4322 L103,4302 M147,4322 L122,4302" fill="none" stroke="#DDA27F" stroke-width="4.5"/><g transform="translate(0,4060) scale(0.49261)" fill="#DDA27F">
<path d="M275,648 C268,652 260,655 252,656 C260,651 266,643 269,634 C261,639 252,642 243,644 C236,636 225,631 214,631 C192,631 176,651 181,672 C155,671 131,658 115,639 C107,654 111,673 125,683 C119,683 113,681 108,678 C108,693 119,707 134,710 C129,711 123,712 118,711 C122,724 134,733 148,733 C134,744 117,749 100,747 C115,757 132,762 150,762 C211,762 245,711 243,665 C250,660 270,655 275,648 Z" transform="translate(86.4,146.4) scale(0.686,0.763)"/>
</g></svg>
<div class="t" style="left:104.4px;top:4181.9px;font-family:'Liberation Sans', sans-serif;font-size:37.5px;color:#000;transform:scaleX(1.0328);">Marta Alcaraz Megias</div>
<div class="t" style="left:188.0px;top:4289.6px;font-family:'Liberation Sans', sans-serif;font-size:30px;color:#000;transform:scaleX(1.1023);">marta.alcaraz@uv.es</div>
<div class="t" style="left:188.0px;top:4377.0px;font-family:'Liberation Sans', sans-serif;font-size:30px;color:#000;transform:scaleX(1.1135);">@MartaAlcaraz</div>
<div class="t" style="left:650.0px;top:4163.6px;font-family:'Liberation Sans', sans-serif;font-size:39.4px;color:#000;transform:scaleX(0.9932);">[1] Carrasco, J.A. et al. Chemistry of Antimonene: Understanding the next-generation 2D material (Submitted).</div>
<div class="t" style="left:650.0px;top:4215.3px;font-family:'Liberation Sans', sans-serif;font-size:39.4px;color:#000;transform:scaleX(0.9941);">[2] Antonatos, N. et al. Applied Materials Today 18, 100502 (2020).</div>
<div class="t" style="left:650.0px;top:4266.6px;font-family:'Liberation Sans', sans-serif;font-size:39.4px;color:#000;transform:scaleX(0.9865);">[3] Assebban, M. et al. 2D Materials 7, 025039 (2020).</div>
<div class="t" style="left:650.0px;top:4318.2px;font-family:'Liberation Sans', sans-serif;font-size:39.4px;color:#000;word-spacing:8.093px;transform:scaleX(0.9870);">[4]&nbsp; Wu, X. et al. Epitaxial Growth and Air-Stability of Monolayer Antimonene on PdTe2. Advanced Materials 29,</div>
<div class="t" style="left:650.0px;top:4369.0px;font-family:'Liberation Sans', sans-serif;font-size:39.4px;color:#000;transform:scaleX(0.9720);">1605407 (2017).</div>
<div class="t" style="left:650.0px;top:4420.6px;font-family:'Liberation Sans', sans-serif;font-size:39.4px;color:#000;transform:scaleX(0.9863);">[5] Peng, L. et al. Angewandte Chemie International Edition 58, 9891-9896 (2019).</div>
</body></html>
